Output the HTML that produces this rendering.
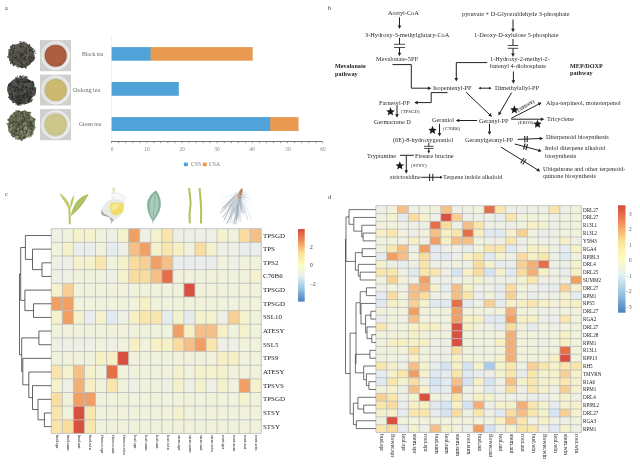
<!DOCTYPE html><html><head><meta charset="utf-8"><style>
html,body{margin:0;padding:0;background:#fff;}
body{width:640px;height:464px;position:relative;overflow:hidden;font-family:"Liberation Serif",serif;}
#wrap{position:absolute;left:0;top:0;width:640px;height:464px;filter:blur(0.3px);}
.t{position:absolute;white-space:nowrap;line-height:1;will-change:transform;}
svg{position:absolute;left:0;top:0;}
</style></head><body><div id="wrap">
<svg width="640" height="464" viewBox="0 0 640 464"><polygon points="34.06,55.00 35.15,57.95 33.97,60.69 31.53,62.57 29.82,64.85 27.28,66.27 24.60,67.58 21.60,68.16 18.84,66.53 16.28,65.54 12.95,65.36 11.39,62.78 9.23,60.69 9.71,57.59 8.51,55.00 8.30,52.10 10.20,49.76 10.58,46.61 12.87,44.54 16.28,44.45 18.88,43.60 21.60,42.31 24.73,41.89 27.22,43.85 29.47,45.57 31.80,47.23 32.64,49.92 33.92,52.31" fill="#4d4a45"/>
<ellipse cx="13.2" cy="58.3" rx="1.01" ry="0.81" transform="rotate(117 13.2 58.3)" fill="#625e57" opacity="0.85"/>
<ellipse cx="34.2" cy="51.3" rx="1.61" ry="0.73" transform="rotate(164 34.2 51.3)" fill="#302e2b" opacity="0.85"/>
<ellipse cx="30.1" cy="60.9" rx="0.75" ry="0.60" transform="rotate(128 30.1 60.9)" fill="#74706a" opacity="0.85"/>
<ellipse cx="29.2" cy="51.9" rx="0.96" ry="0.75" transform="rotate(127 29.2 51.9)" fill="#625e57" opacity="0.85"/>
<ellipse cx="26.8" cy="47.8" rx="1.62" ry="0.69" transform="rotate(103 26.8 47.8)" fill="#58554e" opacity="0.85"/>
<ellipse cx="17.5" cy="57.4" rx="1.66" ry="0.87" transform="rotate(95 17.5 57.4)" fill="#58554e" opacity="0.85"/>
<ellipse cx="30.8" cy="60.3" rx="1.53" ry="0.71" transform="rotate(100 30.8 60.3)" fill="#3a3733" opacity="0.85"/>
<ellipse cx="13.7" cy="63.0" rx="0.65" ry="0.82" transform="rotate(157 13.7 63.0)" fill="#302e2b" opacity="0.85"/>
<ellipse cx="15.0" cy="50.8" rx="0.80" ry="0.54" transform="rotate(3 15.0 50.8)" fill="#625e57" opacity="0.85"/>
<ellipse cx="22.8" cy="46.0" rx="0.88" ry="0.71" transform="rotate(147 22.8 46.0)" fill="#58554e" opacity="0.85"/>
<ellipse cx="13.7" cy="64.9" rx="1.33" ry="0.84" transform="rotate(98 13.7 64.9)" fill="#58554e" opacity="0.85"/>
<ellipse cx="24.2" cy="43.6" rx="1.57" ry="0.71" transform="rotate(143 24.2 43.6)" fill="#58554e" opacity="0.85"/>
<ellipse cx="25.3" cy="67.3" rx="1.64" ry="0.74" transform="rotate(51 25.3 67.3)" fill="#302e2b" opacity="0.85"/>
<ellipse cx="29.2" cy="52.2" rx="1.10" ry="0.40" transform="rotate(138 29.2 52.2)" fill="#74706a" opacity="0.85"/>
<ellipse cx="14.3" cy="48.1" rx="1.32" ry="0.88" transform="rotate(162 14.3 48.1)" fill="#302e2b" opacity="0.85"/>
<ellipse cx="26.0" cy="63.6" rx="1.56" ry="0.88" transform="rotate(65 26.0 63.6)" fill="#3a3733" opacity="0.85"/>
<ellipse cx="34.7" cy="57.6" rx="0.70" ry="0.41" transform="rotate(3 34.7 57.6)" fill="#3a3733" opacity="0.85"/>
<ellipse cx="21.8" cy="48.8" rx="0.73" ry="0.77" transform="rotate(88 21.8 48.8)" fill="#74706a" opacity="0.85"/>
<ellipse cx="20.4" cy="59.4" rx="1.23" ry="0.50" transform="rotate(69 20.4 59.4)" fill="#74706a" opacity="0.85"/>
<ellipse cx="17.6" cy="49.9" rx="1.20" ry="0.47" transform="rotate(79 17.6 49.9)" fill="#74706a" opacity="0.85"/>
<ellipse cx="15.4" cy="60.1" rx="0.91" ry="0.55" transform="rotate(130 15.4 60.1)" fill="#625e57" opacity="0.85"/>
<ellipse cx="35.0" cy="53.1" rx="1.58" ry="0.41" transform="rotate(4 35.0 53.1)" fill="#302e2b" opacity="0.85"/>
<ellipse cx="20.1" cy="56.1" rx="1.13" ry="0.70" transform="rotate(109 20.1 56.1)" fill="#625e57" opacity="0.85"/>
<ellipse cx="16.2" cy="53.5" rx="1.14" ry="0.71" transform="rotate(7 16.2 53.5)" fill="#58554e" opacity="0.85"/>
<ellipse cx="13.8" cy="60.8" rx="1.39" ry="0.66" transform="rotate(76 13.8 60.8)" fill="#74706a" opacity="0.85"/>
<ellipse cx="25.4" cy="58.7" rx="0.97" ry="0.92" transform="rotate(79 25.4 58.7)" fill="#3a3733" opacity="0.85"/>
<ellipse cx="27.4" cy="51.8" rx="1.10" ry="0.55" transform="rotate(2 27.4 51.8)" fill="#625e57" opacity="0.85"/>
<ellipse cx="10.0" cy="50.5" rx="1.58" ry="0.98" transform="rotate(145 10.0 50.5)" fill="#58554e" opacity="0.85"/>
<ellipse cx="9.6" cy="57.9" rx="1.21" ry="0.63" transform="rotate(88 9.6 57.9)" fill="#58554e" opacity="0.85"/>
<ellipse cx="29.6" cy="60.5" rx="1.31" ry="0.70" transform="rotate(170 29.6 60.5)" fill="#302e2b" opacity="0.85"/>
<ellipse cx="14.5" cy="60.6" rx="0.99" ry="0.92" transform="rotate(72 14.5 60.6)" fill="#3a3733" opacity="0.85"/>
<ellipse cx="26.8" cy="55.6" rx="1.57" ry="0.74" transform="rotate(34 26.8 55.6)" fill="#74706a" opacity="0.85"/>
<ellipse cx="18.7" cy="59.4" rx="1.61" ry="0.96" transform="rotate(88 18.7 59.4)" fill="#3a3733" opacity="0.85"/>
<ellipse cx="32.3" cy="48.9" rx="1.18" ry="0.99" transform="rotate(60 32.3 48.9)" fill="#58554e" opacity="0.85"/>
<ellipse cx="23.4" cy="55.8" rx="0.80" ry="0.95" transform="rotate(54 23.4 55.8)" fill="#625e57" opacity="0.85"/>
<ellipse cx="20.8" cy="61.8" rx="1.61" ry="0.62" transform="rotate(87 20.8 61.8)" fill="#58554e" opacity="0.85"/>
<ellipse cx="26.0" cy="58.6" rx="1.54" ry="0.83" transform="rotate(125 26.0 58.6)" fill="#58554e" opacity="0.85"/>
<ellipse cx="28.0" cy="61.9" rx="0.98" ry="0.64" transform="rotate(97 28.0 61.9)" fill="#3a3733" opacity="0.85"/>
<ellipse cx="29.6" cy="46.5" rx="1.01" ry="0.77" transform="rotate(96 29.6 46.5)" fill="#625e57" opacity="0.85"/>
<ellipse cx="30.1" cy="59.3" rx="0.70" ry="0.56" transform="rotate(75 30.1 59.3)" fill="#58554e" opacity="0.85"/>
<ellipse cx="9.5" cy="50.0" rx="1.68" ry="0.46" transform="rotate(11 9.5 50.0)" fill="#302e2b" opacity="0.85"/>
<ellipse cx="22.1" cy="54.2" rx="0.71" ry="0.47" transform="rotate(10 22.1 54.2)" fill="#3a3733" opacity="0.85"/>
<ellipse cx="26.1" cy="65.5" rx="1.11" ry="0.47" transform="rotate(42 26.1 65.5)" fill="#58554e" opacity="0.85"/>
<ellipse cx="19.7" cy="51.0" rx="1.12" ry="0.98" transform="rotate(138 19.7 51.0)" fill="#3a3733" opacity="0.85"/>
<ellipse cx="27.2" cy="51.6" rx="1.45" ry="0.59" transform="rotate(53 27.2 51.6)" fill="#74706a" opacity="0.85"/>
<ellipse cx="20.5" cy="53.4" rx="1.54" ry="0.96" transform="rotate(152 20.5 53.4)" fill="#3a3733" opacity="0.85"/>
<ellipse cx="18.2" cy="61.8" rx="0.68" ry="0.95" transform="rotate(153 18.2 61.8)" fill="#302e2b" opacity="0.85"/>
<ellipse cx="25.2" cy="54.3" rx="1.54" ry="0.87" transform="rotate(138 25.2 54.3)" fill="#625e57" opacity="0.85"/>
<ellipse cx="27.5" cy="48.8" rx="0.91" ry="0.72" transform="rotate(78 27.5 48.8)" fill="#74706a" opacity="0.85"/>
<ellipse cx="23.9" cy="61.8" rx="0.71" ry="0.85" transform="rotate(23 23.9 61.8)" fill="#74706a" opacity="0.85"/>
<ellipse cx="15.5" cy="46.7" rx="1.07" ry="0.58" transform="rotate(83 15.5 46.7)" fill="#625e57" opacity="0.85"/>
<ellipse cx="26.2" cy="65.6" rx="1.67" ry="0.58" transform="rotate(85 26.2 65.6)" fill="#58554e" opacity="0.85"/>
<ellipse cx="29.9" cy="60.8" rx="0.71" ry="0.53" transform="rotate(62 29.9 60.8)" fill="#58554e" opacity="0.85"/>
<ellipse cx="16.5" cy="58.5" rx="1.48" ry="0.41" transform="rotate(2 16.5 58.5)" fill="#3a3733" opacity="0.85"/>
<ellipse cx="18.6" cy="66.1" rx="1.16" ry="0.92" transform="rotate(25 18.6 66.1)" fill="#302e2b" opacity="0.85"/>
<ellipse cx="9.6" cy="54.9" rx="1.21" ry="0.80" transform="rotate(45 9.6 54.9)" fill="#3a3733" opacity="0.85"/>
<ellipse cx="23.8" cy="42.1" rx="0.97" ry="0.83" transform="rotate(154 23.8 42.1)" fill="#74706a" opacity="0.85"/>
<ellipse cx="18.1" cy="66.9" rx="1.25" ry="0.83" transform="rotate(80 18.1 66.9)" fill="#625e57" opacity="0.85"/>
<ellipse cx="26.1" cy="46.0" rx="1.61" ry="0.85" transform="rotate(176 26.1 46.0)" fill="#58554e" opacity="0.85"/>
<ellipse cx="23.4" cy="61.1" rx="0.79" ry="0.83" transform="rotate(170 23.4 61.1)" fill="#58554e" opacity="0.85"/>
<ellipse cx="21.8" cy="66.3" rx="1.57" ry="0.73" transform="rotate(138 21.8 66.3)" fill="#302e2b" opacity="0.85"/>
<ellipse cx="12.8" cy="58.4" rx="1.07" ry="0.60" transform="rotate(66 12.8 58.4)" fill="#3a3733" opacity="0.85"/>
<ellipse cx="9.6" cy="56.0" rx="1.77" ry="0.41" transform="rotate(177 9.6 56.0)" fill="#302e2b" opacity="0.85"/>
<ellipse cx="19.0" cy="58.2" rx="0.77" ry="0.99" transform="rotate(70 19.0 58.2)" fill="#625e57" opacity="0.85"/>
<ellipse cx="15.2" cy="59.6" rx="0.71" ry="0.69" transform="rotate(45 15.2 59.6)" fill="#58554e" opacity="0.85"/>
<ellipse cx="12.6" cy="53.4" rx="1.72" ry="0.78" transform="rotate(57 12.6 53.4)" fill="#302e2b" opacity="0.85"/>
<ellipse cx="22.3" cy="63.6" rx="1.75" ry="0.83" transform="rotate(86 22.3 63.6)" fill="#302e2b" opacity="0.85"/>
<ellipse cx="9.5" cy="50.4" rx="1.77" ry="0.53" transform="rotate(18 9.5 50.4)" fill="#74706a" opacity="0.85"/>
<ellipse cx="22.5" cy="44.9" rx="0.79" ry="0.86" transform="rotate(52 22.5 44.9)" fill="#74706a" opacity="0.85"/>
<ellipse cx="17.4" cy="64.8" rx="1.05" ry="0.82" transform="rotate(118 17.4 64.8)" fill="#58554e" opacity="0.85"/>
<ellipse cx="11.2" cy="48.3" rx="1.75" ry="0.74" transform="rotate(45 11.2 48.3)" fill="#58554e" opacity="0.85"/>
<ellipse cx="26.2" cy="61.6" rx="1.46" ry="0.87" transform="rotate(126 26.2 61.6)" fill="#58554e" opacity="0.85"/>
<ellipse cx="16.9" cy="45.2" rx="1.06" ry="0.91" transform="rotate(139 16.9 45.2)" fill="#74706a" opacity="0.85"/>
<ellipse cx="21.3" cy="53.1" rx="1.57" ry="0.78" transform="rotate(68 21.3 53.1)" fill="#3a3733" opacity="0.85"/>
<ellipse cx="21.3" cy="52.0" rx="1.76" ry="0.77" transform="rotate(168 21.3 52.0)" fill="#625e57" opacity="0.85"/>
<ellipse cx="20.4" cy="52.3" rx="1.77" ry="0.63" transform="rotate(110 20.4 52.3)" fill="#625e57" opacity="0.85"/>
<ellipse cx="11.2" cy="62.5" rx="0.75" ry="0.95" transform="rotate(54 11.2 62.5)" fill="#302e2b" opacity="0.85"/>
<ellipse cx="29.0" cy="61.6" rx="1.69" ry="0.80" transform="rotate(71 29.0 61.6)" fill="#302e2b" opacity="0.85"/>
<ellipse cx="21.7" cy="66.1" rx="1.75" ry="0.72" transform="rotate(148 21.7 66.1)" fill="#3a3733" opacity="0.85"/>
<ellipse cx="31.9" cy="56.3" rx="0.89" ry="0.56" transform="rotate(44 31.9 56.3)" fill="#58554e" opacity="0.85"/>
<ellipse cx="19.5" cy="63.9" rx="0.97" ry="0.85" transform="rotate(174 19.5 63.9)" fill="#74706a" opacity="0.85"/>
<ellipse cx="9.7" cy="59.0" rx="1.25" ry="0.69" transform="rotate(31 9.7 59.0)" fill="#625e57" opacity="0.85"/>
<ellipse cx="22.8" cy="45.7" rx="0.85" ry="0.89" transform="rotate(6 22.8 45.7)" fill="#302e2b" opacity="0.85"/>
<ellipse cx="30.1" cy="62.5" rx="0.96" ry="0.80" transform="rotate(166 30.1 62.5)" fill="#58554e" opacity="0.85"/>
<ellipse cx="27.6" cy="61.6" rx="1.57" ry="0.66" transform="rotate(173 27.6 61.6)" fill="#58554e" opacity="0.85"/>
<ellipse cx="15.7" cy="62.0" rx="0.75" ry="0.83" transform="rotate(89 15.7 62.0)" fill="#3a3733" opacity="0.85"/>
<ellipse cx="18.9" cy="62.2" rx="1.19" ry="0.79" transform="rotate(96 18.9 62.2)" fill="#58554e" opacity="0.85"/>
<ellipse cx="14.4" cy="61.3" rx="1.36" ry="0.83" transform="rotate(130 14.4 61.3)" fill="#74706a" opacity="0.85"/>
<ellipse cx="25.8" cy="66.9" rx="1.60" ry="0.65" transform="rotate(78 25.8 66.9)" fill="#58554e" opacity="0.85"/>
<ellipse cx="19.1" cy="47.2" rx="0.84" ry="0.72" transform="rotate(173 19.1 47.2)" fill="#58554e" opacity="0.85"/>
<ellipse cx="15.3" cy="60.1" rx="1.00" ry="0.77" transform="rotate(179 15.3 60.1)" fill="#302e2b" opacity="0.85"/>
<ellipse cx="30.9" cy="48.4" rx="1.79" ry="0.55" transform="rotate(166 30.9 48.4)" fill="#302e2b" opacity="0.85"/>
<ellipse cx="21.3" cy="56.2" rx="1.36" ry="0.96" transform="rotate(69 21.3 56.2)" fill="#625e57" opacity="0.85"/>
<ellipse cx="28.3" cy="45.7" rx="0.61" ry="0.95" transform="rotate(105 28.3 45.7)" fill="#58554e" opacity="0.85"/>
<ellipse cx="28.3" cy="48.5" rx="1.15" ry="0.56" transform="rotate(43 28.3 48.5)" fill="#625e57" opacity="0.85"/>
<ellipse cx="19.5" cy="55.4" rx="0.72" ry="0.75" transform="rotate(17 19.5 55.4)" fill="#58554e" opacity="0.85"/>
<ellipse cx="15.0" cy="63.1" rx="0.80" ry="0.83" transform="rotate(41 15.0 63.1)" fill="#3a3733" opacity="0.85"/>
<ellipse cx="18.7" cy="47.9" rx="1.33" ry="0.53" transform="rotate(53 18.7 47.9)" fill="#74706a" opacity="0.85"/>
<ellipse cx="22.2" cy="61.8" rx="0.69" ry="0.90" transform="rotate(133 22.2 61.8)" fill="#3a3733" opacity="0.85"/>
<ellipse cx="16.9" cy="48.0" rx="1.48" ry="0.50" transform="rotate(167 16.9 48.0)" fill="#58554e" opacity="0.85"/>
<ellipse cx="20.3" cy="41.9" rx="0.92" ry="0.77" transform="rotate(59 20.3 41.9)" fill="#58554e" opacity="0.85"/>
<ellipse cx="15.4" cy="59.8" rx="1.55" ry="0.92" transform="rotate(84 15.4 59.8)" fill="#302e2b" opacity="0.85"/>
<ellipse cx="20.3" cy="49.3" rx="1.45" ry="0.91" transform="rotate(7 20.3 49.3)" fill="#58554e" opacity="0.85"/>
<ellipse cx="29.2" cy="45.3" rx="0.98" ry="0.66" transform="rotate(63 29.2 45.3)" fill="#302e2b" opacity="0.85"/>
<ellipse cx="22.7" cy="50.3" rx="1.65" ry="0.75" transform="rotate(148 22.7 50.3)" fill="#625e57" opacity="0.85"/>
<ellipse cx="31.4" cy="49.3" rx="1.73" ry="0.68" transform="rotate(41 31.4 49.3)" fill="#58554e" opacity="0.85"/>
<ellipse cx="24.3" cy="58.1" rx="1.03" ry="0.85" transform="rotate(61 24.3 58.1)" fill="#302e2b" opacity="0.85"/>
<ellipse cx="25.6" cy="58.4" rx="0.68" ry="0.54" transform="rotate(82 25.6 58.4)" fill="#74706a" opacity="0.85"/>
<ellipse cx="18.1" cy="55.2" rx="0.65" ry="0.89" transform="rotate(5 18.1 55.2)" fill="#625e57" opacity="0.85"/>
<ellipse cx="25.8" cy="51.6" rx="1.19" ry="0.72" transform="rotate(156 25.8 51.6)" fill="#3a3733" opacity="0.85"/>
<ellipse cx="11.5" cy="58.7" rx="0.74" ry="0.82" transform="rotate(24 11.5 58.7)" fill="#74706a" opacity="0.85"/>
<ellipse cx="22.6" cy="60.4" rx="1.05" ry="0.50" transform="rotate(59 22.6 60.4)" fill="#302e2b" opacity="0.85"/>
<ellipse cx="22.2" cy="61.2" rx="1.30" ry="0.53" transform="rotate(66 22.2 61.2)" fill="#58554e" opacity="0.85"/>
<ellipse cx="16.7" cy="63.4" rx="1.79" ry="0.43" transform="rotate(1 16.7 63.4)" fill="#625e57" opacity="0.85"/>
<ellipse cx="26.0" cy="49.8" rx="1.62" ry="0.57" transform="rotate(50 26.0 49.8)" fill="#302e2b" opacity="0.85"/>
<ellipse cx="11.3" cy="62.2" rx="1.55" ry="0.42" transform="rotate(99 11.3 62.2)" fill="#625e57" opacity="0.85"/>
<ellipse cx="28.2" cy="63.2" rx="1.28" ry="0.55" transform="rotate(20 28.2 63.2)" fill="#3a3733" opacity="0.85"/>
<ellipse cx="9.5" cy="57.7" rx="0.64" ry="0.44" transform="rotate(33 9.5 57.7)" fill="#3a3733" opacity="0.85"/>
<ellipse cx="27.7" cy="56.6" rx="1.12" ry="0.51" transform="rotate(127 27.7 56.6)" fill="#3a3733" opacity="0.85"/>
<ellipse cx="14.1" cy="46.6" rx="1.40" ry="0.63" transform="rotate(161 14.1 46.6)" fill="#625e57" opacity="0.85"/>
<ellipse cx="20.9" cy="60.8" rx="0.89" ry="0.75" transform="rotate(151 20.9 60.8)" fill="#625e57" opacity="0.85"/>
<ellipse cx="25.4" cy="62.1" rx="1.37" ry="0.98" transform="rotate(90 25.4 62.1)" fill="#58554e" opacity="0.85"/>
<ellipse cx="12.5" cy="52.4" rx="1.11" ry="0.80" transform="rotate(68 12.5 52.4)" fill="#58554e" opacity="0.85"/>
<ellipse cx="21.1" cy="44.2" rx="0.90" ry="0.99" transform="rotate(38 21.1 44.2)" fill="#3a3733" opacity="0.85"/>
<ellipse cx="26.6" cy="56.8" rx="1.62" ry="0.43" transform="rotate(23 26.6 56.8)" fill="#302e2b" opacity="0.85"/>
<ellipse cx="29.5" cy="50.4" rx="1.04" ry="0.99" transform="rotate(10 29.5 50.4)" fill="#58554e" opacity="0.85"/>
<ellipse cx="22.9" cy="56.2" rx="1.67" ry="0.86" transform="rotate(114 22.9 56.2)" fill="#625e57" opacity="0.85"/>
<ellipse cx="30.9" cy="56.4" rx="0.90" ry="0.60" transform="rotate(77 30.9 56.4)" fill="#3a3733" opacity="0.85"/>
<ellipse cx="29.2" cy="56.6" rx="0.98" ry="0.48" transform="rotate(97 29.2 56.6)" fill="#74706a" opacity="0.85"/>
<ellipse cx="26.0" cy="43.8" rx="0.71" ry="0.90" transform="rotate(128 26.0 43.8)" fill="#74706a" opacity="0.85"/>
<ellipse cx="15.0" cy="52.6" rx="1.21" ry="0.63" transform="rotate(149 15.0 52.6)" fill="#74706a" opacity="0.85"/>
<ellipse cx="17.6" cy="55.5" rx="1.23" ry="0.74" transform="rotate(148 17.6 55.5)" fill="#302e2b" opacity="0.85"/>
<ellipse cx="18.7" cy="46.4" rx="1.49" ry="0.52" transform="rotate(99 18.7 46.4)" fill="#74706a" opacity="0.85"/>
<ellipse cx="18.2" cy="54.6" rx="0.75" ry="0.44" transform="rotate(76 18.2 54.6)" fill="#74706a" opacity="0.85"/>
<ellipse cx="25.8" cy="45.6" rx="1.10" ry="0.59" transform="rotate(69 25.8 45.6)" fill="#74706a" opacity="0.85"/>
<ellipse cx="16.3" cy="64.9" rx="0.61" ry="0.47" transform="rotate(81 16.3 64.9)" fill="#58554e" opacity="0.85"/>
<ellipse cx="27.6" cy="51.6" rx="1.29" ry="0.67" transform="rotate(71 27.6 51.6)" fill="#74706a" opacity="0.85"/>
<ellipse cx="8.6" cy="56.6" rx="1.58" ry="0.96" transform="rotate(148 8.6 56.6)" fill="#302e2b" opacity="0.85"/>
<ellipse cx="22.9" cy="51.2" rx="1.19" ry="0.91" transform="rotate(64 22.9 51.2)" fill="#58554e" opacity="0.85"/>
<ellipse cx="24.0" cy="44.6" rx="1.03" ry="0.97" transform="rotate(164 24.0 44.6)" fill="#74706a" opacity="0.85"/>
<ellipse cx="16.9" cy="59.7" rx="1.78" ry="0.72" transform="rotate(42 16.9 59.7)" fill="#58554e" opacity="0.85"/>
<ellipse cx="27.5" cy="56.0" rx="1.28" ry="0.94" transform="rotate(47 27.5 56.0)" fill="#625e57" opacity="0.85"/>
<ellipse cx="23.0" cy="42.4" rx="0.66" ry="0.46" transform="rotate(139 23.0 42.4)" fill="#58554e" opacity="0.85"/>
<ellipse cx="16.9" cy="45.2" rx="0.91" ry="0.78" transform="rotate(134 16.9 45.2)" fill="#625e57" opacity="0.85"/>
<ellipse cx="13.7" cy="45.7" rx="1.37" ry="0.50" transform="rotate(110 13.7 45.7)" fill="#625e57" opacity="0.85"/>
<ellipse cx="29.1" cy="56.0" rx="1.45" ry="0.57" transform="rotate(51 29.1 56.0)" fill="#302e2b" opacity="0.85"/>
<ellipse cx="11.3" cy="48.0" rx="1.11" ry="0.81" transform="rotate(139 11.3 48.0)" fill="#625e57" opacity="0.85"/>
<ellipse cx="25.9" cy="52.5" rx="1.47" ry="0.89" transform="rotate(65 25.9 52.5)" fill="#302e2b" opacity="0.85"/>
<ellipse cx="21.0" cy="55.4" rx="1.52" ry="0.71" transform="rotate(124 21.0 55.4)" fill="#58554e" opacity="0.85"/>
<ellipse cx="30.8" cy="59.6" rx="1.56" ry="0.75" transform="rotate(10 30.8 59.6)" fill="#58554e" opacity="0.85"/>
<ellipse cx="13.4" cy="65.5" rx="0.83" ry="0.58" transform="rotate(176 13.4 65.5)" fill="#3a3733" opacity="0.85"/>
<ellipse cx="15.6" cy="47.9" rx="1.21" ry="1.00" transform="rotate(80 15.6 47.9)" fill="#74706a" opacity="0.85"/>
<ellipse cx="31.0" cy="53.3" rx="1.79" ry="0.57" transform="rotate(105 31.0 53.3)" fill="#58554e" opacity="0.85"/>
<ellipse cx="9.8" cy="51.9" rx="1.09" ry="0.78" transform="rotate(78 9.8 51.9)" fill="#58554e" opacity="0.85"/>
<ellipse cx="17.7" cy="56.1" rx="1.30" ry="0.73" transform="rotate(41 17.7 56.1)" fill="#302e2b" opacity="0.85"/>
<ellipse cx="21.6" cy="55.8" rx="1.48" ry="0.74" transform="rotate(94 21.6 55.8)" fill="#302e2b" opacity="0.85"/>
<ellipse cx="15.9" cy="57.9" rx="1.68" ry="0.96" transform="rotate(1 15.9 57.9)" fill="#3a3733" opacity="0.85"/>
<ellipse cx="15.1" cy="60.6" rx="1.36" ry="0.91" transform="rotate(86 15.1 60.6)" fill="#74706a" opacity="0.85"/>
<ellipse cx="12.3" cy="62.5" rx="1.03" ry="0.65" transform="rotate(4 12.3 62.5)" fill="#302e2b" opacity="0.85"/>
<ellipse cx="33.8" cy="54.6" rx="1.63" ry="0.75" transform="rotate(73 33.8 54.6)" fill="#74706a" opacity="0.85"/>
<ellipse cx="29.3" cy="52.6" rx="0.94" ry="0.65" transform="rotate(70 29.3 52.6)" fill="#58554e" opacity="0.85"/>
<ellipse cx="10.8" cy="59.6" rx="0.86" ry="0.90" transform="rotate(102 10.8 59.6)" fill="#302e2b" opacity="0.85"/>
<ellipse cx="20.9" cy="51.9" rx="0.85" ry="0.49" transform="rotate(6 20.9 51.9)" fill="#625e57" opacity="0.85"/>
<ellipse cx="25.2" cy="57.6" rx="1.08" ry="0.83" transform="rotate(0 25.2 57.6)" fill="#3a3733" opacity="0.85"/>
<ellipse cx="30.3" cy="60.2" rx="1.26" ry="0.72" transform="rotate(88 30.3 60.2)" fill="#3a3733" opacity="0.85"/>
<ellipse cx="31.8" cy="58.0" rx="1.48" ry="0.81" transform="rotate(171 31.8 58.0)" fill="#3a3733" opacity="0.85"/>
<ellipse cx="20.8" cy="41.9" rx="0.81" ry="0.88" transform="rotate(180 20.8 41.9)" fill="#74706a" opacity="0.85"/>
<ellipse cx="29.1" cy="46.1" rx="1.64" ry="0.47" transform="rotate(114 29.1 46.1)" fill="#3a3733" opacity="0.85"/>
<ellipse cx="19.1" cy="63.4" rx="0.74" ry="0.91" transform="rotate(27 19.1 63.4)" fill="#302e2b" opacity="0.85"/>
<ellipse cx="27.7" cy="62.9" rx="0.80" ry="0.55" transform="rotate(137 27.7 62.9)" fill="#625e57" opacity="0.85"/>
<ellipse cx="19.4" cy="63.4" rx="1.70" ry="0.87" transform="rotate(159 19.4 63.4)" fill="#58554e" opacity="0.85"/>
<ellipse cx="16.9" cy="62.3" rx="1.51" ry="0.84" transform="rotate(88 16.9 62.3)" fill="#3a3733" opacity="0.85"/>
<ellipse cx="33.7" cy="49.2" rx="0.67" ry="0.78" transform="rotate(76 33.7 49.2)" fill="#74706a" opacity="0.85"/>
<ellipse cx="22.4" cy="43.1" rx="1.21" ry="0.56" transform="rotate(63 22.4 43.1)" fill="#625e57" opacity="0.85"/>
<ellipse cx="18.1" cy="57.0" rx="1.09" ry="0.78" transform="rotate(14 18.1 57.0)" fill="#625e57" opacity="0.85"/>
<ellipse cx="11.6" cy="53.0" rx="1.74" ry="0.56" transform="rotate(122 11.6 53.0)" fill="#625e57" opacity="0.85"/>
<ellipse cx="19.5" cy="49.4" rx="1.20" ry="0.76" transform="rotate(61 19.5 49.4)" fill="#625e57" opacity="0.85"/>
<ellipse cx="16.2" cy="63.3" rx="1.49" ry="0.75" transform="rotate(115 16.2 63.3)" fill="#625e57" opacity="0.85"/>
<ellipse cx="19.2" cy="54.5" rx="1.23" ry="0.48" transform="rotate(54 19.2 54.5)" fill="#74706a" opacity="0.85"/>
<ellipse cx="18.0" cy="62.9" rx="0.74" ry="0.93" transform="rotate(178 18.0 62.9)" fill="#74706a" opacity="0.85"/>
<ellipse cx="21.5" cy="58.1" rx="1.59" ry="0.43" transform="rotate(44 21.5 58.1)" fill="#58554e" opacity="0.85"/>
<ellipse cx="19.3" cy="50.0" rx="1.20" ry="0.80" transform="rotate(78 19.3 50.0)" fill="#625e57" opacity="0.85"/>
<ellipse cx="21.1" cy="55.2" rx="1.59" ry="0.89" transform="rotate(56 21.1 55.2)" fill="#3a3733" opacity="0.85"/>
<ellipse cx="26.5" cy="57.7" rx="0.92" ry="0.83" transform="rotate(97 26.5 57.7)" fill="#74706a" opacity="0.85"/>
<ellipse cx="28.6" cy="56.0" rx="0.74" ry="0.94" transform="rotate(36 28.6 56.0)" fill="#625e57" opacity="0.85"/>
<ellipse cx="20.7" cy="53.2" rx="0.71" ry="1.00" transform="rotate(76 20.7 53.2)" fill="#3a3733" opacity="0.85"/>
<ellipse cx="19.0" cy="60.5" rx="1.03" ry="0.45" transform="rotate(102 19.0 60.5)" fill="#3a3733" opacity="0.85"/>
<ellipse cx="13.7" cy="62.8" rx="0.71" ry="0.60" transform="rotate(2 13.7 62.8)" fill="#625e57" opacity="0.85"/>
<ellipse cx="14.6" cy="54.4" rx="1.02" ry="0.88" transform="rotate(164 14.6 54.4)" fill="#3a3733" opacity="0.85"/>
<ellipse cx="21.0" cy="51.2" rx="1.09" ry="0.81" transform="rotate(158 21.0 51.2)" fill="#74706a" opacity="0.85"/>
<ellipse cx="20.2" cy="46.7" rx="1.24" ry="0.64" transform="rotate(56 20.2 46.7)" fill="#302e2b" opacity="0.85"/>
<ellipse cx="15.1" cy="48.2" rx="1.32" ry="0.47" transform="rotate(61 15.1 48.2)" fill="#3a3733" opacity="0.85"/>
<ellipse cx="23.4" cy="62.8" rx="0.62" ry="0.72" transform="rotate(135 23.4 62.8)" fill="#58554e" opacity="0.85"/>
<ellipse cx="21.3" cy="58.8" rx="1.49" ry="0.44" transform="rotate(139 21.3 58.8)" fill="#3a3733" opacity="0.85"/>
<ellipse cx="15.3" cy="62.0" rx="1.42" ry="0.42" transform="rotate(78 15.3 62.0)" fill="#58554e" opacity="0.85"/>
<ellipse cx="17.7" cy="56.3" rx="1.70" ry="0.49" transform="rotate(55 17.7 56.3)" fill="#3a3733" opacity="0.85"/>
<ellipse cx="9.6" cy="56.2" rx="1.04" ry="0.58" transform="rotate(39 9.6 56.2)" fill="#74706a" opacity="0.85"/>
<ellipse cx="26.1" cy="49.0" rx="1.09" ry="0.99" transform="rotate(37 26.1 49.0)" fill="#302e2b" opacity="0.85"/>
<ellipse cx="20.3" cy="65.3" rx="1.74" ry="0.72" transform="rotate(2 20.3 65.3)" fill="#58554e" opacity="0.85"/>
<ellipse cx="30.9" cy="50.1" rx="1.50" ry="0.97" transform="rotate(25 30.9 50.1)" fill="#302e2b" opacity="0.85"/>
<ellipse cx="10.1" cy="57.9" rx="1.42" ry="0.57" transform="rotate(94 10.1 57.9)" fill="#58554e" opacity="0.85"/>
<ellipse cx="13.0" cy="60.3" rx="0.72" ry="0.87" transform="rotate(165 13.0 60.3)" fill="#3a3733" opacity="0.85"/>
<ellipse cx="21.6" cy="54.9" rx="1.60" ry="0.75" transform="rotate(135 21.6 54.9)" fill="#3a3733" opacity="0.85"/>
<ellipse cx="14.2" cy="54.6" rx="1.54" ry="0.74" transform="rotate(167 14.2 54.6)" fill="#74706a" opacity="0.85"/>
<ellipse cx="16.1" cy="61.6" rx="1.71" ry="0.77" transform="rotate(27 16.1 61.6)" fill="#625e57" opacity="0.85"/>
<ellipse cx="14.7" cy="52.3" rx="0.74" ry="0.42" transform="rotate(180 14.7 52.3)" fill="#625e57" opacity="0.85"/>
<ellipse cx="16.6" cy="66.2" rx="0.90" ry="0.78" transform="rotate(14 16.6 66.2)" fill="#74706a" opacity="0.85"/>
<ellipse cx="15.6" cy="49.8" rx="0.95" ry="0.89" transform="rotate(112 15.6 49.8)" fill="#74706a" opacity="0.85"/>
<ellipse cx="23.3" cy="49.7" rx="1.22" ry="0.43" transform="rotate(172 23.3 49.7)" fill="#58554e" opacity="0.85"/>
<ellipse cx="28.6" cy="60.8" rx="1.37" ry="0.69" transform="rotate(87 28.6 60.8)" fill="#58554e" opacity="0.85"/>
<ellipse cx="21.8" cy="51.3" rx="0.63" ry="0.94" transform="rotate(98 21.8 51.3)" fill="#58554e" opacity="0.85"/>
<ellipse cx="12.5" cy="45.6" rx="1.46" ry="0.46" transform="rotate(85 12.5 45.6)" fill="#302e2b" opacity="0.85"/>
<ellipse cx="28.6" cy="53.9" rx="1.54" ry="0.68" transform="rotate(120 28.6 53.9)" fill="#625e57" opacity="0.85"/>
<ellipse cx="14.3" cy="62.5" rx="1.12" ry="0.64" transform="rotate(30 14.3 62.5)" fill="#625e57" opacity="0.85"/>
<ellipse cx="9.7" cy="49.5" rx="0.78" ry="0.63" transform="rotate(27 9.7 49.5)" fill="#625e57" opacity="0.85"/>
<ellipse cx="24.8" cy="45.3" rx="1.15" ry="0.63" transform="rotate(128 24.8 45.3)" fill="#625e57" opacity="0.85"/>
<ellipse cx="23.5" cy="49.0" rx="0.79" ry="0.71" transform="rotate(27 23.5 49.0)" fill="#625e57" opacity="0.85"/>
<ellipse cx="22.8" cy="54.6" rx="1.57" ry="0.82" transform="rotate(58 22.8 54.6)" fill="#302e2b" opacity="0.85"/>
<ellipse cx="14.0" cy="53.2" rx="1.25" ry="0.55" transform="rotate(108 14.0 53.2)" fill="#3a3733" opacity="0.85"/>
<ellipse cx="30.6" cy="49.3" rx="1.39" ry="0.45" transform="rotate(137 30.6 49.3)" fill="#74706a" opacity="0.85"/>
<ellipse cx="34.0" cy="49.9" rx="1.05" ry="0.41" transform="rotate(55 34.0 49.9)" fill="#625e57" opacity="0.85"/>
<ellipse cx="10.8" cy="60.1" rx="1.47" ry="0.82" transform="rotate(176 10.8 60.1)" fill="#58554e" opacity="0.85"/>
<ellipse cx="11.1" cy="46.5" rx="0.90" ry="0.87" transform="rotate(30 11.1 46.5)" fill="#3a3733" opacity="0.85"/>
<ellipse cx="19.6" cy="54.1" rx="1.27" ry="0.78" transform="rotate(122 19.6 54.1)" fill="#3a3733" opacity="0.85"/>
<ellipse cx="30.5" cy="57.5" rx="0.63" ry="0.92" transform="rotate(119 30.5 57.5)" fill="#3a3733" opacity="0.85"/>
<ellipse cx="20.2" cy="62.7" rx="0.76" ry="0.74" transform="rotate(81 20.2 62.7)" fill="#58554e" opacity="0.85"/>
<ellipse cx="23.0" cy="45.0" rx="1.56" ry="0.73" transform="rotate(178 23.0 45.0)" fill="#58554e" opacity="0.85"/>
<ellipse cx="15.4" cy="59.6" rx="1.19" ry="0.57" transform="rotate(38 15.4 59.6)" fill="#625e57" opacity="0.85"/>
<ellipse cx="21.2" cy="61.1" rx="1.54" ry="0.77" transform="rotate(92 21.2 61.1)" fill="#625e57" opacity="0.85"/>
<ellipse cx="19.4" cy="58.5" rx="0.90" ry="0.63" transform="rotate(144 19.4 58.5)" fill="#74706a" opacity="0.85"/>
<ellipse cx="17.3" cy="55.8" rx="1.75" ry="0.54" transform="rotate(18 17.3 55.8)" fill="#625e57" opacity="0.85"/>
<ellipse cx="24.6" cy="46.4" rx="1.25" ry="0.83" transform="rotate(61 24.6 46.4)" fill="#625e57" opacity="0.85"/>
<ellipse cx="13.0" cy="50.7" rx="1.45" ry="0.45" transform="rotate(19 13.0 50.7)" fill="#302e2b" opacity="0.85"/>
<ellipse cx="27.8" cy="63.5" rx="1.50" ry="0.63" transform="rotate(174 27.8 63.5)" fill="#3a3733" opacity="0.85"/>
<ellipse cx="28.2" cy="62.4" rx="1.26" ry="0.96" transform="rotate(97 28.2 62.4)" fill="#58554e" opacity="0.85"/>
<ellipse cx="25.0" cy="58.9" rx="1.03" ry="0.90" transform="rotate(57 25.0 58.9)" fill="#302e2b" opacity="0.85"/>
<ellipse cx="20.3" cy="58.9" rx="1.24" ry="0.45" transform="rotate(76 20.3 58.9)" fill="#302e2b" opacity="0.85"/>
<ellipse cx="23.8" cy="63.0" rx="1.56" ry="0.77" transform="rotate(26 23.8 63.0)" fill="#74706a" opacity="0.85"/>
<ellipse cx="12.9" cy="47.6" rx="1.34" ry="0.43" transform="rotate(80 12.9 47.6)" fill="#74706a" opacity="0.85"/>
<ellipse cx="23.8" cy="58.3" rx="0.74" ry="0.66" transform="rotate(150 23.8 58.3)" fill="#3a3733" opacity="0.85"/>
<ellipse cx="21.7" cy="60.1" rx="1.08" ry="0.95" transform="rotate(54 21.7 60.1)" fill="#58554e" opacity="0.85"/>
<ellipse cx="24.9" cy="48.3" rx="0.76" ry="0.83" transform="rotate(65 24.9 48.3)" fill="#58554e" opacity="0.85"/>
<ellipse cx="19.8" cy="44.3" rx="1.78" ry="0.74" transform="rotate(169 19.8 44.3)" fill="#625e57" opacity="0.85"/>
<ellipse cx="11.4" cy="56.1" rx="0.65" ry="0.50" transform="rotate(171 11.4 56.1)" fill="#74706a" opacity="0.85"/>
<ellipse cx="29.6" cy="50.9" rx="1.76" ry="0.86" transform="rotate(107 29.6 50.9)" fill="#302e2b" opacity="0.85"/>
<ellipse cx="14.3" cy="60.1" rx="0.82" ry="0.41" transform="rotate(11 14.3 60.1)" fill="#625e57" opacity="0.85"/>
<ellipse cx="13.7" cy="55.5" rx="1.59" ry="0.60" transform="rotate(62 13.7 55.5)" fill="#58554e" opacity="0.85"/>
<ellipse cx="30.7" cy="60.8" rx="1.62" ry="0.90" transform="rotate(48 30.7 60.8)" fill="#3a3733" opacity="0.85"/>
<ellipse cx="31.3" cy="52.4" rx="1.62" ry="0.63" transform="rotate(92 31.3 52.4)" fill="#625e57" opacity="0.85"/>
<ellipse cx="24.0" cy="61.7" rx="1.78" ry="0.87" transform="rotate(16 24.0 61.7)" fill="#58554e" opacity="0.85"/>
<ellipse cx="20.3" cy="56.9" rx="1.60" ry="0.51" transform="rotate(37 20.3 56.9)" fill="#3a3733" opacity="0.85"/>
<ellipse cx="29.7" cy="44.9" rx="0.65" ry="0.70" transform="rotate(144 29.7 44.9)" fill="#302e2b" opacity="0.85"/>
<ellipse cx="10.7" cy="63.0" rx="1.61" ry="0.79" transform="rotate(100 10.7 63.0)" fill="#58554e" opacity="0.85"/>
<ellipse cx="20.8" cy="62.0" rx="1.26" ry="0.95" transform="rotate(122 20.8 62.0)" fill="#3a3733" opacity="0.85"/>
<ellipse cx="28.3" cy="55.7" rx="1.55" ry="0.76" transform="rotate(142 28.3 55.7)" fill="#74706a" opacity="0.85"/>
<ellipse cx="25.4" cy="50.1" rx="1.54" ry="0.87" transform="rotate(106 25.4 50.1)" fill="#58554e" opacity="0.85"/>
<ellipse cx="14.4" cy="60.6" rx="1.29" ry="0.47" transform="rotate(146 14.4 60.6)" fill="#3a3733" opacity="0.85"/>
<ellipse cx="18.2" cy="54.4" rx="1.00" ry="0.62" transform="rotate(141 18.2 54.4)" fill="#74706a" opacity="0.85"/>
<ellipse cx="29.0" cy="56.6" rx="1.18" ry="0.78" transform="rotate(138 29.0 56.6)" fill="#3a3733" opacity="0.85"/>
<ellipse cx="13.0" cy="57.9" rx="0.60" ry="0.50" transform="rotate(83 13.0 57.9)" fill="#58554e" opacity="0.85"/>
<polygon points="36.04,90.60 35.66,93.90 32.92,96.22 31.46,98.71 30.41,102.01 27.61,103.56 24.60,104.49 21.50,104.08 18.43,104.36 15.51,103.32 12.92,101.59 11.43,98.81 9.38,96.56 8.46,93.64 7.45,90.60 7.25,87.28 8.42,84.16 10.80,81.88 13.10,79.83 15.81,78.53 18.69,78.02 21.50,77.71 24.51,77.13 27.23,78.43 29.82,79.94 32.76,81.42 33.79,84.55 34.87,87.48" fill="#3f403c"/>
<ellipse cx="21.6" cy="92.1" rx="0.81" ry="0.71" transform="rotate(92 21.6 92.1)" fill="#656860" opacity="0.85"/>
<ellipse cx="32.7" cy="90.5" rx="1.79" ry="0.67" transform="rotate(106 32.7 90.5)" fill="#575952" opacity="0.85"/>
<ellipse cx="20.2" cy="77.0" rx="1.55" ry="0.61" transform="rotate(114 20.2 77.0)" fill="#656860" opacity="0.85"/>
<ellipse cx="27.9" cy="101.0" rx="1.39" ry="0.55" transform="rotate(71 27.9 101.0)" fill="#232421" opacity="0.85"/>
<ellipse cx="29.9" cy="86.2" rx="1.39" ry="0.67" transform="rotate(118 29.9 86.2)" fill="#656860" opacity="0.85"/>
<ellipse cx="14.6" cy="100.3" rx="1.47" ry="0.69" transform="rotate(56 14.6 100.3)" fill="#4b4c47" opacity="0.85"/>
<ellipse cx="33.2" cy="85.9" rx="1.65" ry="0.77" transform="rotate(122 33.2 85.9)" fill="#575952" opacity="0.85"/>
<ellipse cx="16.4" cy="103.8" rx="1.27" ry="0.70" transform="rotate(157 16.4 103.8)" fill="#4b4c47" opacity="0.85"/>
<ellipse cx="15.5" cy="86.8" rx="1.19" ry="0.62" transform="rotate(175 15.5 86.8)" fill="#575952" opacity="0.85"/>
<ellipse cx="19.3" cy="88.4" rx="1.47" ry="0.94" transform="rotate(48 19.3 88.4)" fill="#656860" opacity="0.85"/>
<ellipse cx="25.2" cy="90.5" rx="1.38" ry="0.56" transform="rotate(58 25.2 90.5)" fill="#4b4c47" opacity="0.85"/>
<ellipse cx="15.9" cy="78.0" rx="0.76" ry="0.56" transform="rotate(53 15.9 78.0)" fill="#4b4c47" opacity="0.85"/>
<ellipse cx="24.0" cy="89.7" rx="0.67" ry="0.62" transform="rotate(63 24.0 89.7)" fill="#2c2d2a" opacity="0.85"/>
<ellipse cx="20.0" cy="87.7" rx="0.63" ry="0.84" transform="rotate(5 20.0 87.7)" fill="#2c2d2a" opacity="0.85"/>
<ellipse cx="18.6" cy="93.6" rx="1.48" ry="0.71" transform="rotate(0 18.6 93.6)" fill="#575952" opacity="0.85"/>
<ellipse cx="19.9" cy="92.1" rx="0.78" ry="0.42" transform="rotate(88 19.9 92.1)" fill="#575952" opacity="0.85"/>
<ellipse cx="31.5" cy="86.5" rx="0.94" ry="0.69" transform="rotate(78 31.5 86.5)" fill="#2c2d2a" opacity="0.85"/>
<ellipse cx="10.0" cy="94.5" rx="1.68" ry="0.85" transform="rotate(159 10.0 94.5)" fill="#2c2d2a" opacity="0.85"/>
<ellipse cx="19.0" cy="81.7" rx="0.71" ry="0.81" transform="rotate(26 19.0 81.7)" fill="#575952" opacity="0.85"/>
<ellipse cx="33.7" cy="92.5" rx="1.22" ry="0.87" transform="rotate(124 33.7 92.5)" fill="#575952" opacity="0.85"/>
<ellipse cx="17.1" cy="90.2" rx="0.91" ry="0.76" transform="rotate(107 17.1 90.2)" fill="#656860" opacity="0.85"/>
<ellipse cx="15.0" cy="81.0" rx="1.40" ry="0.55" transform="rotate(33 15.0 81.0)" fill="#575952" opacity="0.85"/>
<ellipse cx="23.3" cy="93.6" rx="1.21" ry="0.99" transform="rotate(8 23.3 93.6)" fill="#575952" opacity="0.85"/>
<ellipse cx="27.4" cy="90.4" rx="0.69" ry="0.45" transform="rotate(58 27.4 90.4)" fill="#232421" opacity="0.85"/>
<ellipse cx="12.7" cy="81.7" rx="0.91" ry="0.65" transform="rotate(134 12.7 81.7)" fill="#656860" opacity="0.85"/>
<ellipse cx="21.5" cy="85.9" rx="1.09" ry="0.47" transform="rotate(22 21.5 85.9)" fill="#232421" opacity="0.85"/>
<ellipse cx="21.7" cy="94.2" rx="1.50" ry="0.46" transform="rotate(6 21.7 94.2)" fill="#575952" opacity="0.85"/>
<ellipse cx="12.6" cy="89.4" rx="1.24" ry="0.63" transform="rotate(175 12.6 89.4)" fill="#656860" opacity="0.85"/>
<ellipse cx="33.1" cy="82.7" rx="1.11" ry="0.41" transform="rotate(151 33.1 82.7)" fill="#232421" opacity="0.85"/>
<ellipse cx="29.5" cy="93.3" rx="1.30" ry="0.95" transform="rotate(169 29.5 93.3)" fill="#4b4c47" opacity="0.85"/>
<ellipse cx="24.0" cy="83.1" rx="1.75" ry="0.47" transform="rotate(93 24.0 83.1)" fill="#4b4c47" opacity="0.85"/>
<ellipse cx="18.0" cy="104.5" rx="0.97" ry="0.92" transform="rotate(105 18.0 104.5)" fill="#656860" opacity="0.85"/>
<ellipse cx="27.1" cy="94.8" rx="1.57" ry="0.44" transform="rotate(163 27.1 94.8)" fill="#2c2d2a" opacity="0.85"/>
<ellipse cx="16.0" cy="91.1" rx="1.34" ry="0.40" transform="rotate(6 16.0 91.1)" fill="#4b4c47" opacity="0.85"/>
<ellipse cx="12.0" cy="100.6" rx="0.86" ry="0.69" transform="rotate(29 12.0 100.6)" fill="#2c2d2a" opacity="0.85"/>
<ellipse cx="14.2" cy="87.0" rx="0.77" ry="0.61" transform="rotate(31 14.2 87.0)" fill="#232421" opacity="0.85"/>
<ellipse cx="21.4" cy="94.7" rx="1.62" ry="0.78" transform="rotate(54 21.4 94.7)" fill="#4b4c47" opacity="0.85"/>
<ellipse cx="21.0" cy="89.1" rx="1.53" ry="0.83" transform="rotate(127 21.0 89.1)" fill="#232421" opacity="0.85"/>
<ellipse cx="18.0" cy="104.3" rx="1.56" ry="0.56" transform="rotate(134 18.0 104.3)" fill="#575952" opacity="0.85"/>
<ellipse cx="29.3" cy="81.7" rx="1.72" ry="0.90" transform="rotate(75 29.3 81.7)" fill="#232421" opacity="0.85"/>
<ellipse cx="17.8" cy="93.5" rx="0.91" ry="0.66" transform="rotate(173 17.8 93.5)" fill="#4b4c47" opacity="0.85"/>
<ellipse cx="20.5" cy="87.5" rx="0.72" ry="0.61" transform="rotate(139 20.5 87.5)" fill="#4b4c47" opacity="0.85"/>
<ellipse cx="26.6" cy="97.4" rx="1.56" ry="0.95" transform="rotate(174 26.6 97.4)" fill="#2c2d2a" opacity="0.85"/>
<ellipse cx="32.4" cy="89.8" rx="1.77" ry="0.63" transform="rotate(171 32.4 89.8)" fill="#575952" opacity="0.85"/>
<ellipse cx="27.0" cy="85.7" rx="1.23" ry="0.47" transform="rotate(138 27.0 85.7)" fill="#575952" opacity="0.85"/>
<ellipse cx="35.4" cy="89.4" rx="0.72" ry="0.71" transform="rotate(131 35.4 89.4)" fill="#232421" opacity="0.85"/>
<ellipse cx="20.9" cy="104.2" rx="1.74" ry="0.54" transform="rotate(91 20.9 104.2)" fill="#232421" opacity="0.85"/>
<ellipse cx="23.6" cy="80.4" rx="1.16" ry="0.83" transform="rotate(152 23.6 80.4)" fill="#575952" opacity="0.85"/>
<ellipse cx="12.7" cy="98.7" rx="1.21" ry="0.69" transform="rotate(103 12.7 98.7)" fill="#232421" opacity="0.85"/>
<ellipse cx="21.2" cy="102.6" rx="1.45" ry="0.68" transform="rotate(140 21.2 102.6)" fill="#232421" opacity="0.85"/>
<ellipse cx="15.7" cy="101.2" rx="1.51" ry="0.91" transform="rotate(57 15.7 101.2)" fill="#2c2d2a" opacity="0.85"/>
<ellipse cx="16.4" cy="89.5" rx="1.77" ry="0.78" transform="rotate(2 16.4 89.5)" fill="#232421" opacity="0.85"/>
<ellipse cx="17.8" cy="99.7" rx="1.38" ry="0.89" transform="rotate(4 17.8 99.7)" fill="#232421" opacity="0.85"/>
<ellipse cx="16.8" cy="93.9" rx="1.33" ry="0.94" transform="rotate(25 16.8 93.9)" fill="#4b4c47" opacity="0.85"/>
<ellipse cx="13.8" cy="97.1" rx="0.93" ry="0.95" transform="rotate(148 13.8 97.1)" fill="#575952" opacity="0.85"/>
<ellipse cx="26.0" cy="102.5" rx="0.61" ry="0.81" transform="rotate(123 26.0 102.5)" fill="#575952" opacity="0.85"/>
<ellipse cx="21.3" cy="100.9" rx="1.46" ry="0.98" transform="rotate(18 21.3 100.9)" fill="#232421" opacity="0.85"/>
<ellipse cx="13.6" cy="101.7" rx="1.60" ry="0.80" transform="rotate(151 13.6 101.7)" fill="#4b4c47" opacity="0.85"/>
<ellipse cx="10.3" cy="91.7" rx="1.15" ry="0.93" transform="rotate(117 10.3 91.7)" fill="#656860" opacity="0.85"/>
<ellipse cx="24.6" cy="91.1" rx="0.81" ry="0.85" transform="rotate(103 24.6 91.1)" fill="#656860" opacity="0.85"/>
<ellipse cx="21.1" cy="101.5" rx="0.66" ry="0.70" transform="rotate(118 21.1 101.5)" fill="#575952" opacity="0.85"/>
<ellipse cx="19.4" cy="86.3" rx="1.27" ry="0.98" transform="rotate(93 19.4 86.3)" fill="#656860" opacity="0.85"/>
<ellipse cx="34.1" cy="93.4" rx="1.13" ry="0.92" transform="rotate(78 34.1 93.4)" fill="#4b4c47" opacity="0.85"/>
<ellipse cx="17.3" cy="90.6" rx="1.45" ry="0.58" transform="rotate(66 17.3 90.6)" fill="#4b4c47" opacity="0.85"/>
<ellipse cx="24.6" cy="84.3" rx="1.38" ry="0.64" transform="rotate(23 24.6 84.3)" fill="#656860" opacity="0.85"/>
<ellipse cx="15.9" cy="90.3" rx="1.24" ry="0.91" transform="rotate(129 15.9 90.3)" fill="#4b4c47" opacity="0.85"/>
<ellipse cx="16.7" cy="85.4" rx="1.74" ry="0.74" transform="rotate(133 16.7 85.4)" fill="#575952" opacity="0.85"/>
<ellipse cx="19.1" cy="104.5" rx="1.41" ry="0.87" transform="rotate(93 19.1 104.5)" fill="#2c2d2a" opacity="0.85"/>
<ellipse cx="23.2" cy="98.2" rx="1.15" ry="0.50" transform="rotate(113 23.2 98.2)" fill="#656860" opacity="0.85"/>
<ellipse cx="27.6" cy="83.9" rx="1.71" ry="0.67" transform="rotate(163 27.6 83.9)" fill="#575952" opacity="0.85"/>
<ellipse cx="22.9" cy="97.1" rx="0.72" ry="0.54" transform="rotate(48 22.9 97.1)" fill="#575952" opacity="0.85"/>
<ellipse cx="21.7" cy="77.5" rx="1.03" ry="0.88" transform="rotate(59 21.7 77.5)" fill="#575952" opacity="0.85"/>
<ellipse cx="20.3" cy="100.7" rx="1.08" ry="0.89" transform="rotate(87 20.3 100.7)" fill="#232421" opacity="0.85"/>
<ellipse cx="19.3" cy="102.3" rx="1.20" ry="0.81" transform="rotate(82 19.3 102.3)" fill="#4b4c47" opacity="0.85"/>
<ellipse cx="20.9" cy="78.4" rx="1.24" ry="0.78" transform="rotate(18 20.9 78.4)" fill="#656860" opacity="0.85"/>
<ellipse cx="16.0" cy="96.8" rx="0.91" ry="0.94" transform="rotate(112 16.0 96.8)" fill="#575952" opacity="0.85"/>
<ellipse cx="8.4" cy="92.6" rx="0.98" ry="0.63" transform="rotate(7 8.4 92.6)" fill="#575952" opacity="0.85"/>
<ellipse cx="25.4" cy="93.6" rx="1.70" ry="0.93" transform="rotate(166 25.4 93.6)" fill="#2c2d2a" opacity="0.85"/>
<ellipse cx="12.4" cy="94.5" rx="1.59" ry="0.76" transform="rotate(138 12.4 94.5)" fill="#575952" opacity="0.85"/>
<ellipse cx="19.2" cy="101.4" rx="1.03" ry="0.52" transform="rotate(127 19.2 101.4)" fill="#575952" opacity="0.85"/>
<ellipse cx="25.1" cy="93.1" rx="1.00" ry="0.48" transform="rotate(92 25.1 93.1)" fill="#575952" opacity="0.85"/>
<ellipse cx="21.5" cy="98.2" rx="1.45" ry="0.84" transform="rotate(11 21.5 98.2)" fill="#575952" opacity="0.85"/>
<ellipse cx="17.4" cy="97.5" rx="0.67" ry="0.49" transform="rotate(16 17.4 97.5)" fill="#4b4c47" opacity="0.85"/>
<ellipse cx="10.4" cy="95.9" rx="0.99" ry="0.75" transform="rotate(29 10.4 95.9)" fill="#575952" opacity="0.85"/>
<ellipse cx="15.1" cy="101.1" rx="1.75" ry="0.54" transform="rotate(13 15.1 101.1)" fill="#4b4c47" opacity="0.85"/>
<ellipse cx="14.4" cy="96.4" rx="1.65" ry="0.73" transform="rotate(159 14.4 96.4)" fill="#4b4c47" opacity="0.85"/>
<ellipse cx="13.0" cy="84.5" rx="1.40" ry="0.70" transform="rotate(102 13.0 84.5)" fill="#4b4c47" opacity="0.85"/>
<ellipse cx="26.3" cy="83.0" rx="1.06" ry="0.67" transform="rotate(27 26.3 83.0)" fill="#232421" opacity="0.85"/>
<ellipse cx="11.6" cy="93.8" rx="1.72" ry="0.81" transform="rotate(44 11.6 93.8)" fill="#2c2d2a" opacity="0.85"/>
<ellipse cx="27.7" cy="93.9" rx="0.90" ry="0.80" transform="rotate(56 27.7 93.9)" fill="#2c2d2a" opacity="0.85"/>
<ellipse cx="23.6" cy="94.7" rx="1.00" ry="0.89" transform="rotate(119 23.6 94.7)" fill="#2c2d2a" opacity="0.85"/>
<ellipse cx="34.2" cy="94.8" rx="0.68" ry="0.48" transform="rotate(7 34.2 94.8)" fill="#575952" opacity="0.85"/>
<ellipse cx="27.6" cy="97.9" rx="0.66" ry="0.73" transform="rotate(1 27.6 97.9)" fill="#2c2d2a" opacity="0.85"/>
<ellipse cx="25.7" cy="81.7" rx="1.65" ry="0.48" transform="rotate(125 25.7 81.7)" fill="#4b4c47" opacity="0.85"/>
<ellipse cx="31.3" cy="90.7" rx="0.73" ry="0.53" transform="rotate(13 31.3 90.7)" fill="#575952" opacity="0.85"/>
<ellipse cx="13.5" cy="83.3" rx="1.35" ry="0.92" transform="rotate(134 13.5 83.3)" fill="#656860" opacity="0.85"/>
<ellipse cx="8.0" cy="90.0" rx="1.21" ry="0.90" transform="rotate(38 8.0 90.0)" fill="#575952" opacity="0.85"/>
<ellipse cx="17.6" cy="86.5" rx="0.84" ry="0.60" transform="rotate(36 17.6 86.5)" fill="#232421" opacity="0.85"/>
<ellipse cx="14.1" cy="94.3" rx="1.57" ry="0.74" transform="rotate(121 14.1 94.3)" fill="#656860" opacity="0.85"/>
<ellipse cx="20.1" cy="100.4" rx="1.78" ry="0.54" transform="rotate(179 20.1 100.4)" fill="#232421" opacity="0.85"/>
<ellipse cx="27.9" cy="98.3" rx="0.64" ry="0.73" transform="rotate(51 27.9 98.3)" fill="#2c2d2a" opacity="0.85"/>
<ellipse cx="23.4" cy="98.6" rx="1.37" ry="0.78" transform="rotate(67 23.4 98.6)" fill="#2c2d2a" opacity="0.85"/>
<ellipse cx="18.8" cy="81.7" rx="1.48" ry="0.92" transform="rotate(57 18.8 81.7)" fill="#2c2d2a" opacity="0.85"/>
<ellipse cx="26.8" cy="81.4" rx="1.43" ry="1.00" transform="rotate(35 26.8 81.4)" fill="#2c2d2a" opacity="0.85"/>
<ellipse cx="15.0" cy="83.0" rx="1.52" ry="0.46" transform="rotate(175 15.0 83.0)" fill="#575952" opacity="0.85"/>
<ellipse cx="28.7" cy="85.2" rx="1.76" ry="0.49" transform="rotate(83 28.7 85.2)" fill="#656860" opacity="0.85"/>
<ellipse cx="19.5" cy="84.2" rx="1.28" ry="0.65" transform="rotate(106 19.5 84.2)" fill="#4b4c47" opacity="0.85"/>
<ellipse cx="20.6" cy="88.9" rx="1.39" ry="0.47" transform="rotate(179 20.6 88.9)" fill="#656860" opacity="0.85"/>
<ellipse cx="20.1" cy="76.6" rx="0.86" ry="0.60" transform="rotate(137 20.1 76.6)" fill="#2c2d2a" opacity="0.85"/>
<ellipse cx="20.1" cy="80.1" rx="1.12" ry="0.48" transform="rotate(43 20.1 80.1)" fill="#575952" opacity="0.85"/>
<ellipse cx="23.5" cy="81.9" rx="1.76" ry="0.63" transform="rotate(156 23.5 81.9)" fill="#232421" opacity="0.85"/>
<ellipse cx="21.3" cy="96.0" rx="1.13" ry="0.85" transform="rotate(146 21.3 96.0)" fill="#232421" opacity="0.85"/>
<ellipse cx="20.0" cy="93.1" rx="1.33" ry="0.92" transform="rotate(56 20.0 93.1)" fill="#656860" opacity="0.85"/>
<ellipse cx="22.8" cy="79.4" rx="1.66" ry="0.81" transform="rotate(78 22.8 79.4)" fill="#4b4c47" opacity="0.85"/>
<ellipse cx="28.1" cy="83.3" rx="0.72" ry="0.87" transform="rotate(7 28.1 83.3)" fill="#656860" opacity="0.85"/>
<ellipse cx="23.8" cy="97.5" rx="1.24" ry="0.88" transform="rotate(170 23.8 97.5)" fill="#656860" opacity="0.85"/>
<ellipse cx="16.7" cy="98.0" rx="1.16" ry="0.83" transform="rotate(72 16.7 98.0)" fill="#232421" opacity="0.85"/>
<ellipse cx="17.8" cy="88.5" rx="0.79" ry="0.86" transform="rotate(16 17.8 88.5)" fill="#575952" opacity="0.85"/>
<ellipse cx="15.6" cy="83.9" rx="1.37" ry="0.70" transform="rotate(60 15.6 83.9)" fill="#656860" opacity="0.85"/>
<ellipse cx="25.5" cy="96.3" rx="0.84" ry="0.82" transform="rotate(85 25.5 96.3)" fill="#575952" opacity="0.85"/>
<ellipse cx="11.8" cy="84.2" rx="1.09" ry="0.79" transform="rotate(143 11.8 84.2)" fill="#4b4c47" opacity="0.85"/>
<ellipse cx="31.8" cy="94.9" rx="1.73" ry="0.84" transform="rotate(111 31.8 94.9)" fill="#575952" opacity="0.85"/>
<ellipse cx="28.0" cy="96.8" rx="1.17" ry="0.63" transform="rotate(55 28.0 96.8)" fill="#232421" opacity="0.85"/>
<ellipse cx="21.6" cy="93.1" rx="1.58" ry="0.45" transform="rotate(139 21.6 93.1)" fill="#4b4c47" opacity="0.85"/>
<ellipse cx="20.4" cy="88.4" rx="1.08" ry="0.71" transform="rotate(25 20.4 88.4)" fill="#232421" opacity="0.85"/>
<ellipse cx="16.4" cy="96.5" rx="1.30" ry="0.82" transform="rotate(179 16.4 96.5)" fill="#232421" opacity="0.85"/>
<ellipse cx="21.8" cy="92.2" rx="0.65" ry="0.79" transform="rotate(52 21.8 92.2)" fill="#232421" opacity="0.85"/>
<ellipse cx="17.2" cy="99.6" rx="0.77" ry="0.58" transform="rotate(26 17.2 99.6)" fill="#4b4c47" opacity="0.85"/>
<ellipse cx="15.3" cy="82.8" rx="1.12" ry="0.48" transform="rotate(79 15.3 82.8)" fill="#575952" opacity="0.85"/>
<ellipse cx="15.1" cy="90.1" rx="1.73" ry="0.61" transform="rotate(87 15.1 90.1)" fill="#2c2d2a" opacity="0.85"/>
<ellipse cx="20.1" cy="87.3" rx="0.73" ry="0.87" transform="rotate(93 20.1 87.3)" fill="#656860" opacity="0.85"/>
<ellipse cx="25.3" cy="77.2" rx="1.57" ry="0.94" transform="rotate(130 25.3 77.2)" fill="#656860" opacity="0.85"/>
<ellipse cx="17.8" cy="87.9" rx="1.01" ry="0.90" transform="rotate(2 17.8 87.9)" fill="#2c2d2a" opacity="0.85"/>
<ellipse cx="13.3" cy="102.2" rx="1.46" ry="0.92" transform="rotate(19 13.3 102.2)" fill="#4b4c47" opacity="0.85"/>
<ellipse cx="18.0" cy="81.6" rx="1.11" ry="0.54" transform="rotate(46 18.0 81.6)" fill="#232421" opacity="0.85"/>
<ellipse cx="22.7" cy="92.5" rx="1.51" ry="0.83" transform="rotate(90 22.7 92.5)" fill="#4b4c47" opacity="0.85"/>
<ellipse cx="18.3" cy="84.4" rx="1.76" ry="0.74" transform="rotate(56 18.3 84.4)" fill="#2c2d2a" opacity="0.85"/>
<ellipse cx="10.5" cy="98.5" rx="1.72" ry="0.95" transform="rotate(62 10.5 98.5)" fill="#2c2d2a" opacity="0.85"/>
<ellipse cx="22.0" cy="95.9" rx="1.43" ry="0.45" transform="rotate(71 22.0 95.9)" fill="#2c2d2a" opacity="0.85"/>
<ellipse cx="16.5" cy="87.7" rx="1.22" ry="0.72" transform="rotate(103 16.5 87.7)" fill="#4b4c47" opacity="0.85"/>
<ellipse cx="10.5" cy="96.1" rx="1.11" ry="0.68" transform="rotate(95 10.5 96.1)" fill="#575952" opacity="0.85"/>
<ellipse cx="34.6" cy="95.2" rx="1.22" ry="0.66" transform="rotate(111 34.6 95.2)" fill="#575952" opacity="0.85"/>
<ellipse cx="11.2" cy="83.1" rx="0.79" ry="0.76" transform="rotate(32 11.2 83.1)" fill="#232421" opacity="0.85"/>
<ellipse cx="24.2" cy="86.9" rx="1.45" ry="0.99" transform="rotate(163 24.2 86.9)" fill="#656860" opacity="0.85"/>
<ellipse cx="12.3" cy="96.4" rx="1.16" ry="0.51" transform="rotate(111 12.3 96.4)" fill="#232421" opacity="0.85"/>
<ellipse cx="20.8" cy="96.4" rx="1.59" ry="0.77" transform="rotate(7 20.8 96.4)" fill="#2c2d2a" opacity="0.85"/>
<ellipse cx="9.3" cy="96.8" rx="1.77" ry="0.73" transform="rotate(145 9.3 96.8)" fill="#2c2d2a" opacity="0.85"/>
<ellipse cx="21.0" cy="97.2" rx="1.45" ry="0.62" transform="rotate(158 21.0 97.2)" fill="#232421" opacity="0.85"/>
<ellipse cx="10.7" cy="93.3" rx="1.62" ry="0.50" transform="rotate(73 10.7 93.3)" fill="#4b4c47" opacity="0.85"/>
<ellipse cx="33.0" cy="87.0" rx="0.73" ry="0.81" transform="rotate(62 33.0 87.0)" fill="#232421" opacity="0.85"/>
<ellipse cx="21.3" cy="79.4" rx="0.74" ry="0.76" transform="rotate(159 21.3 79.4)" fill="#232421" opacity="0.85"/>
<ellipse cx="18.2" cy="90.1" rx="1.14" ry="0.96" transform="rotate(178 18.2 90.1)" fill="#232421" opacity="0.85"/>
<ellipse cx="20.6" cy="76.9" rx="1.02" ry="0.49" transform="rotate(170 20.6 76.9)" fill="#4b4c47" opacity="0.85"/>
<ellipse cx="25.5" cy="87.5" rx="1.20" ry="0.99" transform="rotate(44 25.5 87.5)" fill="#232421" opacity="0.85"/>
<ellipse cx="10.3" cy="98.2" rx="1.70" ry="0.58" transform="rotate(67 10.3 98.2)" fill="#4b4c47" opacity="0.85"/>
<ellipse cx="16.1" cy="80.6" rx="1.31" ry="0.52" transform="rotate(25 16.1 80.6)" fill="#232421" opacity="0.85"/>
<ellipse cx="31.8" cy="99.8" rx="0.99" ry="0.59" transform="rotate(103 31.8 99.8)" fill="#656860" opacity="0.85"/>
<ellipse cx="27.0" cy="102.3" rx="1.54" ry="0.72" transform="rotate(122 27.0 102.3)" fill="#656860" opacity="0.85"/>
<ellipse cx="10.5" cy="98.6" rx="1.66" ry="0.76" transform="rotate(88 10.5 98.6)" fill="#232421" opacity="0.85"/>
<ellipse cx="30.6" cy="92.4" rx="0.61" ry="0.64" transform="rotate(166 30.6 92.4)" fill="#2c2d2a" opacity="0.85"/>
<ellipse cx="32.7" cy="82.0" rx="1.37" ry="0.75" transform="rotate(57 32.7 82.0)" fill="#232421" opacity="0.85"/>
<ellipse cx="21.1" cy="83.2" rx="0.96" ry="0.90" transform="rotate(145 21.1 83.2)" fill="#656860" opacity="0.85"/>
<ellipse cx="14.0" cy="85.2" rx="0.70" ry="0.53" transform="rotate(93 14.0 85.2)" fill="#656860" opacity="0.85"/>
<ellipse cx="22.2" cy="103.7" rx="1.67" ry="0.72" transform="rotate(166 22.2 103.7)" fill="#575952" opacity="0.85"/>
<ellipse cx="20.5" cy="84.8" rx="1.16" ry="0.64" transform="rotate(68 20.5 84.8)" fill="#4b4c47" opacity="0.85"/>
<ellipse cx="13.4" cy="85.5" rx="0.60" ry="0.86" transform="rotate(92 13.4 85.5)" fill="#575952" opacity="0.85"/>
<ellipse cx="14.9" cy="81.3" rx="1.71" ry="0.91" transform="rotate(157 14.9 81.3)" fill="#4b4c47" opacity="0.85"/>
<ellipse cx="33.3" cy="91.1" rx="1.79" ry="0.53" transform="rotate(159 33.3 91.1)" fill="#575952" opacity="0.85"/>
<ellipse cx="32.1" cy="96.9" rx="1.49" ry="0.56" transform="rotate(157 32.1 96.9)" fill="#575952" opacity="0.85"/>
<ellipse cx="22.0" cy="89.8" rx="0.97" ry="0.74" transform="rotate(120 22.0 89.8)" fill="#2c2d2a" opacity="0.85"/>
<ellipse cx="19.3" cy="92.7" rx="0.81" ry="0.88" transform="rotate(116 19.3 92.7)" fill="#232421" opacity="0.85"/>
<ellipse cx="30.7" cy="84.7" rx="0.78" ry="0.69" transform="rotate(19 30.7 84.7)" fill="#656860" opacity="0.85"/>
<ellipse cx="32.8" cy="83.4" rx="0.94" ry="0.42" transform="rotate(143 32.8 83.4)" fill="#656860" opacity="0.85"/>
<ellipse cx="23.7" cy="98.9" rx="0.82" ry="0.58" transform="rotate(50 23.7 98.9)" fill="#575952" opacity="0.85"/>
<ellipse cx="28.6" cy="81.5" rx="1.54" ry="0.49" transform="rotate(58 28.6 81.5)" fill="#232421" opacity="0.85"/>
<ellipse cx="26.1" cy="84.4" rx="1.57" ry="0.79" transform="rotate(48 26.1 84.4)" fill="#656860" opacity="0.85"/>
<ellipse cx="29.1" cy="102.1" rx="0.99" ry="0.56" transform="rotate(95 29.1 102.1)" fill="#2c2d2a" opacity="0.85"/>
<ellipse cx="23.0" cy="81.1" rx="0.76" ry="0.48" transform="rotate(108 23.0 81.1)" fill="#4b4c47" opacity="0.85"/>
<ellipse cx="20.9" cy="85.2" rx="1.51" ry="0.85" transform="rotate(87 20.9 85.2)" fill="#4b4c47" opacity="0.85"/>
<ellipse cx="14.0" cy="81.5" rx="1.50" ry="0.48" transform="rotate(126 14.0 81.5)" fill="#4b4c47" opacity="0.85"/>
<ellipse cx="32.7" cy="89.2" rx="1.40" ry="0.58" transform="rotate(160 32.7 89.2)" fill="#232421" opacity="0.85"/>
<ellipse cx="28.4" cy="100.4" rx="1.59" ry="0.94" transform="rotate(90 28.4 100.4)" fill="#2c2d2a" opacity="0.85"/>
<ellipse cx="30.4" cy="83.1" rx="1.53" ry="0.81" transform="rotate(137 30.4 83.1)" fill="#656860" opacity="0.85"/>
<ellipse cx="31.2" cy="101.1" rx="1.29" ry="0.87" transform="rotate(58 31.2 101.1)" fill="#575952" opacity="0.85"/>
<ellipse cx="26.3" cy="77.0" rx="1.40" ry="0.53" transform="rotate(166 26.3 77.0)" fill="#575952" opacity="0.85"/>
<ellipse cx="14.5" cy="79.8" rx="1.12" ry="0.70" transform="rotate(143 14.5 79.8)" fill="#656860" opacity="0.85"/>
<ellipse cx="18.6" cy="95.0" rx="1.39" ry="0.43" transform="rotate(175 18.6 95.0)" fill="#2c2d2a" opacity="0.85"/>
<ellipse cx="25.8" cy="89.2" rx="1.36" ry="0.77" transform="rotate(179 25.8 89.2)" fill="#575952" opacity="0.85"/>
<ellipse cx="24.2" cy="88.7" rx="1.46" ry="0.51" transform="rotate(169 24.2 88.7)" fill="#4b4c47" opacity="0.85"/>
<ellipse cx="32.6" cy="89.2" rx="1.24" ry="0.59" transform="rotate(128 32.6 89.2)" fill="#2c2d2a" opacity="0.85"/>
<ellipse cx="22.4" cy="102.1" rx="1.15" ry="0.59" transform="rotate(12 22.4 102.1)" fill="#232421" opacity="0.85"/>
<ellipse cx="17.0" cy="97.5" rx="0.74" ry="0.89" transform="rotate(90 17.0 97.5)" fill="#4b4c47" opacity="0.85"/>
<ellipse cx="14.5" cy="88.0" rx="0.65" ry="0.50" transform="rotate(33 14.5 88.0)" fill="#575952" opacity="0.85"/>
<ellipse cx="33.1" cy="85.2" rx="1.07" ry="1.00" transform="rotate(165 33.1 85.2)" fill="#575952" opacity="0.85"/>
<ellipse cx="18.8" cy="98.9" rx="0.73" ry="0.40" transform="rotate(24 18.8 98.9)" fill="#2c2d2a" opacity="0.85"/>
<ellipse cx="24.1" cy="86.0" rx="0.83" ry="0.91" transform="rotate(80 24.1 86.0)" fill="#2c2d2a" opacity="0.85"/>
<ellipse cx="24.4" cy="86.4" rx="1.57" ry="0.74" transform="rotate(132 24.4 86.4)" fill="#656860" opacity="0.85"/>
<ellipse cx="28.1" cy="88.2" rx="1.10" ry="0.69" transform="rotate(98 28.1 88.2)" fill="#4b4c47" opacity="0.85"/>
<ellipse cx="23.0" cy="76.3" rx="1.38" ry="0.65" transform="rotate(147 23.0 76.3)" fill="#575952" opacity="0.85"/>
<ellipse cx="13.3" cy="92.7" rx="1.25" ry="0.74" transform="rotate(65 13.3 92.7)" fill="#656860" opacity="0.85"/>
<ellipse cx="33.4" cy="84.7" rx="1.47" ry="0.94" transform="rotate(128 33.4 84.7)" fill="#232421" opacity="0.85"/>
<ellipse cx="12.2" cy="88.1" rx="0.79" ry="0.53" transform="rotate(27 12.2 88.1)" fill="#656860" opacity="0.85"/>
<ellipse cx="20.1" cy="76.3" rx="0.75" ry="0.71" transform="rotate(48 20.1 76.3)" fill="#232421" opacity="0.85"/>
<ellipse cx="8.2" cy="90.0" rx="1.64" ry="0.58" transform="rotate(116 8.2 90.0)" fill="#575952" opacity="0.85"/>
<ellipse cx="27.5" cy="98.2" rx="1.42" ry="0.53" transform="rotate(141 27.5 98.2)" fill="#656860" opacity="0.85"/>
<ellipse cx="31.2" cy="93.3" rx="1.26" ry="0.58" transform="rotate(41 31.2 93.3)" fill="#232421" opacity="0.85"/>
<ellipse cx="19.7" cy="78.1" rx="1.29" ry="0.89" transform="rotate(128 19.7 78.1)" fill="#575952" opacity="0.85"/>
<ellipse cx="29.4" cy="84.4" rx="0.91" ry="0.42" transform="rotate(158 29.4 84.4)" fill="#4b4c47" opacity="0.85"/>
<ellipse cx="30.7" cy="88.1" rx="0.67" ry="0.69" transform="rotate(141 30.7 88.1)" fill="#2c2d2a" opacity="0.85"/>
<ellipse cx="18.5" cy="96.8" rx="1.16" ry="0.51" transform="rotate(12 18.5 96.8)" fill="#2c2d2a" opacity="0.85"/>
<ellipse cx="23.2" cy="96.8" rx="0.92" ry="0.70" transform="rotate(64 23.2 96.8)" fill="#232421" opacity="0.85"/>
<ellipse cx="28.4" cy="92.8" rx="1.38" ry="0.51" transform="rotate(176 28.4 92.8)" fill="#232421" opacity="0.85"/>
<ellipse cx="19.7" cy="86.6" rx="0.69" ry="0.98" transform="rotate(13 19.7 86.6)" fill="#656860" opacity="0.85"/>
<ellipse cx="10.4" cy="96.9" rx="1.30" ry="0.41" transform="rotate(93 10.4 96.9)" fill="#4b4c47" opacity="0.85"/>
<ellipse cx="24.0" cy="101.8" rx="1.51" ry="0.69" transform="rotate(171 24.0 101.8)" fill="#4b4c47" opacity="0.85"/>
<ellipse cx="30.3" cy="84.6" rx="1.00" ry="0.90" transform="rotate(19 30.3 84.6)" fill="#4b4c47" opacity="0.85"/>
<ellipse cx="24.7" cy="102.1" rx="0.64" ry="0.42" transform="rotate(65 24.7 102.1)" fill="#4b4c47" opacity="0.85"/>
<ellipse cx="29.5" cy="98.2" rx="1.72" ry="0.94" transform="rotate(27 29.5 98.2)" fill="#2c2d2a" opacity="0.85"/>
<ellipse cx="11.4" cy="99.5" rx="1.09" ry="0.54" transform="rotate(41 11.4 99.5)" fill="#575952" opacity="0.85"/>
<ellipse cx="31.1" cy="83.8" rx="1.64" ry="0.74" transform="rotate(26 31.1 83.8)" fill="#4b4c47" opacity="0.85"/>
<ellipse cx="21.9" cy="96.8" rx="1.58" ry="0.54" transform="rotate(45 21.9 96.8)" fill="#575952" opacity="0.85"/>
<ellipse cx="12.6" cy="81.6" rx="1.75" ry="0.75" transform="rotate(165 12.6 81.6)" fill="#575952" opacity="0.85"/>
<ellipse cx="21.9" cy="98.1" rx="1.65" ry="0.52" transform="rotate(33 21.9 98.1)" fill="#2c2d2a" opacity="0.85"/>
<ellipse cx="9.0" cy="84.6" rx="1.03" ry="0.82" transform="rotate(53 9.0 84.6)" fill="#2c2d2a" opacity="0.85"/>
<ellipse cx="23.0" cy="97.2" rx="0.87" ry="1.00" transform="rotate(78 23.0 97.2)" fill="#2c2d2a" opacity="0.85"/>
<ellipse cx="17.6" cy="84.9" rx="1.80" ry="0.43" transform="rotate(79 17.6 84.9)" fill="#656860" opacity="0.85"/>
<ellipse cx="35.5" cy="88.4" rx="1.39" ry="0.76" transform="rotate(90 35.5 88.4)" fill="#4b4c47" opacity="0.85"/>
<ellipse cx="18.4" cy="103.9" rx="1.80" ry="0.66" transform="rotate(165 18.4 103.9)" fill="#232421" opacity="0.85"/>
<ellipse cx="26.8" cy="77.6" rx="1.38" ry="0.54" transform="rotate(159 26.8 77.6)" fill="#575952" opacity="0.85"/>
<ellipse cx="19.7" cy="88.5" rx="1.33" ry="0.69" transform="rotate(38 19.7 88.5)" fill="#2c2d2a" opacity="0.85"/>
<ellipse cx="15.0" cy="97.2" rx="1.38" ry="0.66" transform="rotate(51 15.0 97.2)" fill="#4b4c47" opacity="0.85"/>
<ellipse cx="27.4" cy="95.2" rx="0.77" ry="0.75" transform="rotate(120 27.4 95.2)" fill="#232421" opacity="0.85"/>
<ellipse cx="26.1" cy="77.6" rx="0.61" ry="0.52" transform="rotate(14 26.1 77.6)" fill="#2c2d2a" opacity="0.85"/>
<ellipse cx="24.8" cy="77.1" rx="0.85" ry="0.90" transform="rotate(8 24.8 77.1)" fill="#575952" opacity="0.85"/>
<ellipse cx="29.4" cy="92.0" rx="1.28" ry="0.76" transform="rotate(160 29.4 92.0)" fill="#232421" opacity="0.85"/>
<ellipse cx="20.0" cy="90.5" rx="0.81" ry="0.95" transform="rotate(51 20.0 90.5)" fill="#2c2d2a" opacity="0.85"/>
<ellipse cx="23.0" cy="87.8" rx="1.22" ry="0.72" transform="rotate(68 23.0 87.8)" fill="#656860" opacity="0.85"/>
<ellipse cx="32.1" cy="100.0" rx="1.52" ry="0.58" transform="rotate(155 32.1 100.0)" fill="#575952" opacity="0.85"/>
<ellipse cx="31.2" cy="96.6" rx="1.70" ry="0.80" transform="rotate(167 31.2 96.6)" fill="#2c2d2a" opacity="0.85"/>
<ellipse cx="24.3" cy="82.0" rx="1.37" ry="0.75" transform="rotate(58 24.3 82.0)" fill="#2c2d2a" opacity="0.85"/>
<ellipse cx="24.5" cy="83.8" rx="0.89" ry="0.82" transform="rotate(29 24.5 83.8)" fill="#2c2d2a" opacity="0.85"/>
<ellipse cx="24.1" cy="95.3" rx="1.79" ry="0.57" transform="rotate(126 24.1 95.3)" fill="#232421" opacity="0.85"/>
<ellipse cx="28.0" cy="90.3" rx="0.78" ry="0.59" transform="rotate(56 28.0 90.3)" fill="#4b4c47" opacity="0.85"/>
<ellipse cx="16.5" cy="87.5" rx="1.13" ry="0.69" transform="rotate(167 16.5 87.5)" fill="#232421" opacity="0.85"/>
<ellipse cx="29.5" cy="82.0" rx="1.15" ry="0.66" transform="rotate(170 29.5 82.0)" fill="#2c2d2a" opacity="0.85"/>
<ellipse cx="32.3" cy="86.9" rx="1.57" ry="0.64" transform="rotate(164 32.3 86.9)" fill="#575952" opacity="0.85"/>
<ellipse cx="21.6" cy="77.1" rx="1.76" ry="0.56" transform="rotate(115 21.6 77.1)" fill="#4b4c47" opacity="0.85"/>
<ellipse cx="18.7" cy="102.5" rx="1.78" ry="0.85" transform="rotate(42 18.7 102.5)" fill="#232421" opacity="0.85"/>
<ellipse cx="26.0" cy="86.4" rx="1.50" ry="0.57" transform="rotate(179 26.0 86.4)" fill="#2c2d2a" opacity="0.85"/>
<ellipse cx="30.6" cy="100.3" rx="1.48" ry="0.81" transform="rotate(34 30.6 100.3)" fill="#4b4c47" opacity="0.85"/>
<ellipse cx="20.9" cy="88.5" rx="0.64" ry="0.94" transform="rotate(65 20.9 88.5)" fill="#575952" opacity="0.85"/>
<ellipse cx="9.1" cy="87.5" rx="1.20" ry="0.61" transform="rotate(21 9.1 87.5)" fill="#575952" opacity="0.85"/>
<ellipse cx="17.6" cy="76.7" rx="1.62" ry="0.46" transform="rotate(73 17.6 76.7)" fill="#4b4c47" opacity="0.85"/>
<ellipse cx="21.8" cy="101.6" rx="0.67" ry="0.54" transform="rotate(55 21.8 101.6)" fill="#656860" opacity="0.85"/>
<ellipse cx="16.3" cy="78.2" rx="1.14" ry="0.86" transform="rotate(4 16.3 78.2)" fill="#232421" opacity="0.85"/>
<ellipse cx="29.6" cy="92.6" rx="1.35" ry="0.97" transform="rotate(55 29.6 92.6)" fill="#4b4c47" opacity="0.85"/>
<ellipse cx="23.0" cy="87.3" rx="1.23" ry="0.80" transform="rotate(142 23.0 87.3)" fill="#232421" opacity="0.85"/>
<ellipse cx="26.4" cy="100.2" rx="1.46" ry="0.91" transform="rotate(132 26.4 100.2)" fill="#575952" opacity="0.85"/>
<ellipse cx="24.3" cy="97.5" rx="1.33" ry="0.76" transform="rotate(160 24.3 97.5)" fill="#2c2d2a" opacity="0.85"/>
<ellipse cx="24.0" cy="83.7" rx="1.31" ry="0.78" transform="rotate(17 24.0 83.7)" fill="#4b4c47" opacity="0.85"/>
<polygon points="34.65,125.00 34.94,128.24 33.59,131.16 32.37,134.17 30.20,136.54 27.05,137.18 24.32,138.07 21.50,140.22 18.57,138.60 15.80,137.52 12.32,137.17 10.84,133.99 8.53,131.60 8.20,128.21 7.52,125.00 8.86,121.95 8.91,118.59 10.20,115.47 12.93,113.64 15.34,111.48 18.37,110.52 21.50,111.48 24.67,110.33 27.52,111.77 29.78,114.02 31.44,116.62 34.52,118.37 34.79,121.79" fill="#61664f"/>
<ellipse cx="18.9" cy="111.3" rx="1.07" ry="0.88" transform="rotate(113 18.9 111.3)" fill="#3c4032" opacity="0.85"/>
<ellipse cx="25.7" cy="124.0" rx="0.72" ry="0.48" transform="rotate(55 25.7 124.0)" fill="#9a9f80" opacity="0.85"/>
<ellipse cx="20.9" cy="136.9" rx="1.11" ry="0.90" transform="rotate(146 20.9 136.9)" fill="#9a9f80" opacity="0.85"/>
<ellipse cx="15.4" cy="133.8" rx="0.88" ry="0.60" transform="rotate(7 15.4 133.8)" fill="#70765c" opacity="0.85"/>
<ellipse cx="30.3" cy="113.2" rx="1.44" ry="0.60" transform="rotate(138 30.3 113.2)" fill="#848a6e" opacity="0.85"/>
<ellipse cx="29.9" cy="118.9" rx="1.36" ry="0.99" transform="rotate(68 29.9 118.9)" fill="#848a6e" opacity="0.85"/>
<ellipse cx="20.9" cy="127.8" rx="0.71" ry="0.88" transform="rotate(105 20.9 127.8)" fill="#3c4032" opacity="0.85"/>
<ellipse cx="22.6" cy="124.1" rx="1.52" ry="0.92" transform="rotate(11 22.6 124.1)" fill="#3c4032" opacity="0.85"/>
<ellipse cx="11.9" cy="117.1" rx="1.46" ry="0.60" transform="rotate(71 11.9 117.1)" fill="#3c4032" opacity="0.85"/>
<ellipse cx="7.2" cy="124.5" rx="0.61" ry="0.46" transform="rotate(137 7.2 124.5)" fill="#9a9f80" opacity="0.85"/>
<ellipse cx="26.8" cy="126.1" rx="0.95" ry="0.56" transform="rotate(176 26.8 126.1)" fill="#3c4032" opacity="0.85"/>
<ellipse cx="34.2" cy="128.7" rx="1.03" ry="0.48" transform="rotate(96 34.2 128.7)" fill="#9a9f80" opacity="0.85"/>
<ellipse cx="12.1" cy="134.7" rx="1.37" ry="0.76" transform="rotate(143 12.1 134.7)" fill="#3c4032" opacity="0.85"/>
<ellipse cx="32.8" cy="133.9" rx="0.93" ry="0.78" transform="rotate(60 32.8 133.9)" fill="#70765c" opacity="0.85"/>
<ellipse cx="29.5" cy="121.4" rx="1.23" ry="0.73" transform="rotate(2 29.5 121.4)" fill="#9a9f80" opacity="0.85"/>
<ellipse cx="24.9" cy="110.4" rx="0.62" ry="0.77" transform="rotate(161 24.9 110.4)" fill="#9a9f80" opacity="0.85"/>
<ellipse cx="28.8" cy="133.6" rx="1.16" ry="0.81" transform="rotate(90 28.8 133.6)" fill="#9a9f80" opacity="0.85"/>
<ellipse cx="16.3" cy="120.6" rx="0.63" ry="0.44" transform="rotate(173 16.3 120.6)" fill="#3c4032" opacity="0.85"/>
<ellipse cx="29.3" cy="126.1" rx="0.96" ry="0.76" transform="rotate(45 29.3 126.1)" fill="#3c4032" opacity="0.85"/>
<ellipse cx="16.8" cy="130.7" rx="1.61" ry="0.56" transform="rotate(96 16.8 130.7)" fill="#9a9f80" opacity="0.85"/>
<ellipse cx="31.5" cy="133.2" rx="1.42" ry="0.48" transform="rotate(128 31.5 133.2)" fill="#70765c" opacity="0.85"/>
<ellipse cx="23.7" cy="138.1" rx="0.99" ry="0.81" transform="rotate(166 23.7 138.1)" fill="#848a6e" opacity="0.85"/>
<ellipse cx="20.3" cy="121.4" rx="1.74" ry="0.80" transform="rotate(57 20.3 121.4)" fill="#9a9f80" opacity="0.85"/>
<ellipse cx="9.4" cy="130.2" rx="0.70" ry="0.85" transform="rotate(55 9.4 130.2)" fill="#848a6e" opacity="0.85"/>
<ellipse cx="28.2" cy="118.8" rx="1.54" ry="0.42" transform="rotate(48 28.2 118.8)" fill="#848a6e" opacity="0.85"/>
<ellipse cx="16.4" cy="137.5" rx="0.82" ry="0.57" transform="rotate(164 16.4 137.5)" fill="#70765c" opacity="0.85"/>
<ellipse cx="30.7" cy="130.8" rx="0.76" ry="0.58" transform="rotate(69 30.7 130.8)" fill="#70765c" opacity="0.85"/>
<ellipse cx="10.9" cy="127.5" rx="1.10" ry="0.65" transform="rotate(105 10.9 127.5)" fill="#9a9f80" opacity="0.85"/>
<ellipse cx="21.8" cy="125.5" rx="1.78" ry="0.66" transform="rotate(56 21.8 125.5)" fill="#70765c" opacity="0.85"/>
<ellipse cx="30.3" cy="126.9" rx="1.76" ry="0.73" transform="rotate(58 30.3 126.9)" fill="#70765c" opacity="0.85"/>
<ellipse cx="29.9" cy="114.4" rx="0.74" ry="0.55" transform="rotate(8 29.9 114.4)" fill="#9a9f80" opacity="0.85"/>
<ellipse cx="31.0" cy="118.1" rx="1.68" ry="0.94" transform="rotate(147 31.0 118.1)" fill="#848a6e" opacity="0.85"/>
<ellipse cx="30.3" cy="128.0" rx="0.81" ry="0.58" transform="rotate(169 30.3 128.0)" fill="#4a4f3c" opacity="0.85"/>
<ellipse cx="31.3" cy="126.3" rx="1.73" ry="0.77" transform="rotate(87 31.3 126.3)" fill="#4a4f3c" opacity="0.85"/>
<ellipse cx="31.4" cy="135.6" rx="1.17" ry="0.87" transform="rotate(90 31.4 135.6)" fill="#70765c" opacity="0.85"/>
<ellipse cx="22.2" cy="129.2" rx="0.81" ry="0.88" transform="rotate(32 22.2 129.2)" fill="#4a4f3c" opacity="0.85"/>
<ellipse cx="21.8" cy="124.3" rx="1.64" ry="0.43" transform="rotate(69 21.8 124.3)" fill="#70765c" opacity="0.85"/>
<ellipse cx="21.6" cy="136.3" rx="1.11" ry="0.68" transform="rotate(0 21.6 136.3)" fill="#70765c" opacity="0.85"/>
<ellipse cx="29.2" cy="114.8" rx="0.75" ry="0.44" transform="rotate(8 29.2 114.8)" fill="#4a4f3c" opacity="0.85"/>
<ellipse cx="23.5" cy="122.2" rx="1.19" ry="0.49" transform="rotate(18 23.5 122.2)" fill="#70765c" opacity="0.85"/>
<ellipse cx="14.9" cy="134.4" rx="0.96" ry="0.56" transform="rotate(84 14.9 134.4)" fill="#70765c" opacity="0.85"/>
<ellipse cx="17.7" cy="126.9" rx="1.46" ry="0.63" transform="rotate(20 17.7 126.9)" fill="#4a4f3c" opacity="0.85"/>
<ellipse cx="19.5" cy="124.1" rx="1.33" ry="0.87" transform="rotate(97 19.5 124.1)" fill="#3c4032" opacity="0.85"/>
<ellipse cx="20.1" cy="123.3" rx="0.66" ry="0.78" transform="rotate(179 20.1 123.3)" fill="#3c4032" opacity="0.85"/>
<ellipse cx="16.0" cy="138.5" rx="1.15" ry="0.55" transform="rotate(137 16.0 138.5)" fill="#3c4032" opacity="0.85"/>
<ellipse cx="20.2" cy="135.9" rx="0.87" ry="0.48" transform="rotate(7 20.2 135.9)" fill="#3c4032" opacity="0.85"/>
<ellipse cx="28.8" cy="121.7" rx="1.55" ry="0.56" transform="rotate(118 28.8 121.7)" fill="#70765c" opacity="0.85"/>
<ellipse cx="16.5" cy="111.4" rx="1.55" ry="0.80" transform="rotate(81 16.5 111.4)" fill="#70765c" opacity="0.85"/>
<ellipse cx="18.1" cy="123.5" rx="1.46" ry="0.68" transform="rotate(60 18.1 123.5)" fill="#70765c" opacity="0.85"/>
<ellipse cx="21.8" cy="122.7" rx="1.28" ry="0.80" transform="rotate(96 21.8 122.7)" fill="#4a4f3c" opacity="0.85"/>
<ellipse cx="22.1" cy="126.4" rx="0.63" ry="0.47" transform="rotate(123 22.1 126.4)" fill="#4a4f3c" opacity="0.85"/>
<ellipse cx="28.7" cy="112.4" rx="0.96" ry="0.45" transform="rotate(144 28.7 112.4)" fill="#70765c" opacity="0.85"/>
<ellipse cx="9.8" cy="124.1" rx="1.27" ry="0.46" transform="rotate(141 9.8 124.1)" fill="#4a4f3c" opacity="0.85"/>
<ellipse cx="28.3" cy="127.9" rx="0.82" ry="0.45" transform="rotate(46 28.3 127.9)" fill="#70765c" opacity="0.85"/>
<ellipse cx="16.1" cy="117.5" rx="0.90" ry="0.76" transform="rotate(89 16.1 117.5)" fill="#3c4032" opacity="0.85"/>
<ellipse cx="8.4" cy="119.8" rx="1.20" ry="0.98" transform="rotate(105 8.4 119.8)" fill="#3c4032" opacity="0.85"/>
<ellipse cx="29.3" cy="112.7" rx="1.43" ry="0.85" transform="rotate(172 29.3 112.7)" fill="#3c4032" opacity="0.85"/>
<ellipse cx="31.6" cy="119.4" rx="1.37" ry="0.94" transform="rotate(38 31.6 119.4)" fill="#848a6e" opacity="0.85"/>
<ellipse cx="26.4" cy="133.5" rx="1.70" ry="0.71" transform="rotate(113 26.4 133.5)" fill="#3c4032" opacity="0.85"/>
<ellipse cx="10.3" cy="117.9" rx="0.92" ry="0.52" transform="rotate(149 10.3 117.9)" fill="#848a6e" opacity="0.85"/>
<ellipse cx="7.8" cy="123.6" rx="1.74" ry="0.58" transform="rotate(180 7.8 123.6)" fill="#70765c" opacity="0.85"/>
<ellipse cx="27.9" cy="116.2" rx="1.30" ry="0.56" transform="rotate(55 27.9 116.2)" fill="#70765c" opacity="0.85"/>
<ellipse cx="19.2" cy="131.4" rx="0.84" ry="0.74" transform="rotate(61 19.2 131.4)" fill="#3c4032" opacity="0.85"/>
<ellipse cx="16.1" cy="136.7" rx="1.10" ry="0.82" transform="rotate(179 16.1 136.7)" fill="#848a6e" opacity="0.85"/>
<ellipse cx="14.1" cy="119.4" rx="0.63" ry="1.00" transform="rotate(18 14.1 119.4)" fill="#70765c" opacity="0.85"/>
<ellipse cx="26.6" cy="118.1" rx="1.16" ry="0.54" transform="rotate(60 26.6 118.1)" fill="#4a4f3c" opacity="0.85"/>
<ellipse cx="14.2" cy="114.6" rx="1.75" ry="0.91" transform="rotate(61 14.2 114.6)" fill="#4a4f3c" opacity="0.85"/>
<ellipse cx="31.0" cy="116.7" rx="0.82" ry="0.82" transform="rotate(9 31.0 116.7)" fill="#848a6e" opacity="0.85"/>
<ellipse cx="26.6" cy="121.1" rx="0.98" ry="0.65" transform="rotate(21 26.6 121.1)" fill="#4a4f3c" opacity="0.85"/>
<ellipse cx="26.3" cy="129.6" rx="0.64" ry="0.67" transform="rotate(172 26.3 129.6)" fill="#9a9f80" opacity="0.85"/>
<ellipse cx="20.6" cy="126.6" rx="1.12" ry="0.69" transform="rotate(53 20.6 126.6)" fill="#9a9f80" opacity="0.85"/>
<ellipse cx="14.1" cy="115.0" rx="1.07" ry="0.73" transform="rotate(30 14.1 115.0)" fill="#3c4032" opacity="0.85"/>
<ellipse cx="23.8" cy="122.8" rx="0.74" ry="0.93" transform="rotate(64 23.8 122.8)" fill="#3c4032" opacity="0.85"/>
<ellipse cx="32.8" cy="133.4" rx="1.41" ry="0.62" transform="rotate(115 32.8 133.4)" fill="#9a9f80" opacity="0.85"/>
<ellipse cx="18.3" cy="136.5" rx="0.73" ry="0.97" transform="rotate(86 18.3 136.5)" fill="#9a9f80" opacity="0.85"/>
<ellipse cx="16.9" cy="115.8" rx="1.40" ry="0.71" transform="rotate(15 16.9 115.8)" fill="#4a4f3c" opacity="0.85"/>
<ellipse cx="19.2" cy="113.2" rx="1.49" ry="0.79" transform="rotate(161 19.2 113.2)" fill="#70765c" opacity="0.85"/>
<ellipse cx="26.2" cy="131.7" rx="0.75" ry="0.96" transform="rotate(36 26.2 131.7)" fill="#3c4032" opacity="0.85"/>
<ellipse cx="31.2" cy="119.4" rx="1.10" ry="0.58" transform="rotate(47 31.2 119.4)" fill="#70765c" opacity="0.85"/>
<ellipse cx="14.6" cy="127.0" rx="1.45" ry="0.46" transform="rotate(46 14.6 127.0)" fill="#848a6e" opacity="0.85"/>
<ellipse cx="21.8" cy="114.5" rx="1.03" ry="0.56" transform="rotate(98 21.8 114.5)" fill="#3c4032" opacity="0.85"/>
<ellipse cx="25.6" cy="126.5" rx="1.21" ry="0.55" transform="rotate(131 25.6 126.5)" fill="#3c4032" opacity="0.85"/>
<ellipse cx="17.0" cy="131.2" rx="1.14" ry="0.89" transform="rotate(17 17.0 131.2)" fill="#3c4032" opacity="0.85"/>
<ellipse cx="13.7" cy="135.9" rx="0.78" ry="0.75" transform="rotate(174 13.7 135.9)" fill="#4a4f3c" opacity="0.85"/>
<ellipse cx="30.9" cy="133.5" rx="0.82" ry="0.51" transform="rotate(106 30.9 133.5)" fill="#4a4f3c" opacity="0.85"/>
<ellipse cx="17.6" cy="117.4" rx="1.31" ry="0.49" transform="rotate(101 17.6 117.4)" fill="#848a6e" opacity="0.85"/>
<ellipse cx="24.5" cy="115.0" rx="1.28" ry="0.52" transform="rotate(64 24.5 115.0)" fill="#848a6e" opacity="0.85"/>
<ellipse cx="16.8" cy="130.3" rx="1.67" ry="0.97" transform="rotate(98 16.8 130.3)" fill="#3c4032" opacity="0.85"/>
<ellipse cx="16.1" cy="138.1" rx="1.36" ry="0.99" transform="rotate(175 16.1 138.1)" fill="#9a9f80" opacity="0.85"/>
<ellipse cx="17.9" cy="111.3" rx="0.64" ry="0.51" transform="rotate(162 17.9 111.3)" fill="#3c4032" opacity="0.85"/>
<ellipse cx="33.7" cy="125.2" rx="1.19" ry="0.71" transform="rotate(117 33.7 125.2)" fill="#848a6e" opacity="0.85"/>
<ellipse cx="25.4" cy="137.4" rx="0.64" ry="0.70" transform="rotate(165 25.4 137.4)" fill="#848a6e" opacity="0.85"/>
<ellipse cx="25.1" cy="123.7" rx="1.75" ry="0.94" transform="rotate(34 25.1 123.7)" fill="#9a9f80" opacity="0.85"/>
<ellipse cx="18.2" cy="125.7" rx="0.63" ry="0.77" transform="rotate(129 18.2 125.7)" fill="#4a4f3c" opacity="0.85"/>
<ellipse cx="30.2" cy="129.9" rx="0.99" ry="0.92" transform="rotate(177 30.2 129.9)" fill="#9a9f80" opacity="0.85"/>
<ellipse cx="20.4" cy="121.9" rx="1.53" ry="0.42" transform="rotate(20 20.4 121.9)" fill="#70765c" opacity="0.85"/>
<ellipse cx="21.0" cy="117.0" rx="1.72" ry="0.92" transform="rotate(111 21.0 117.0)" fill="#848a6e" opacity="0.85"/>
<ellipse cx="19.7" cy="119.2" rx="0.73" ry="0.43" transform="rotate(19 19.7 119.2)" fill="#9a9f80" opacity="0.85"/>
<ellipse cx="28.0" cy="114.8" rx="1.20" ry="0.82" transform="rotate(137 28.0 114.8)" fill="#3c4032" opacity="0.85"/>
<ellipse cx="24.8" cy="120.3" rx="0.97" ry="0.68" transform="rotate(176 24.8 120.3)" fill="#3c4032" opacity="0.85"/>
<ellipse cx="17.3" cy="128.1" rx="1.46" ry="0.62" transform="rotate(94 17.3 128.1)" fill="#4a4f3c" opacity="0.85"/>
<ellipse cx="14.1" cy="127.7" rx="0.87" ry="0.40" transform="rotate(53 14.1 127.7)" fill="#3c4032" opacity="0.85"/>
<ellipse cx="21.1" cy="133.3" rx="1.24" ry="0.50" transform="rotate(5 21.1 133.3)" fill="#3c4032" opacity="0.85"/>
<ellipse cx="25.5" cy="132.7" rx="1.36" ry="0.48" transform="rotate(155 25.5 132.7)" fill="#848a6e" opacity="0.85"/>
<ellipse cx="26.1" cy="133.6" rx="1.61" ry="0.64" transform="rotate(81 26.1 133.6)" fill="#4a4f3c" opacity="0.85"/>
<ellipse cx="11.8" cy="131.7" rx="0.89" ry="0.42" transform="rotate(126 11.8 131.7)" fill="#4a4f3c" opacity="0.85"/>
<ellipse cx="35.3" cy="127.5" rx="0.89" ry="0.63" transform="rotate(48 35.3 127.5)" fill="#848a6e" opacity="0.85"/>
<ellipse cx="27.0" cy="134.8" rx="1.70" ry="0.76" transform="rotate(74 27.0 134.8)" fill="#9a9f80" opacity="0.85"/>
<ellipse cx="19.6" cy="138.0" rx="1.55" ry="0.98" transform="rotate(125 19.6 138.0)" fill="#3c4032" opacity="0.85"/>
<ellipse cx="21.5" cy="131.8" rx="1.35" ry="0.61" transform="rotate(23 21.5 131.8)" fill="#9a9f80" opacity="0.85"/>
<ellipse cx="29.6" cy="128.2" rx="1.31" ry="0.40" transform="rotate(7 29.6 128.2)" fill="#4a4f3c" opacity="0.85"/>
<ellipse cx="20.9" cy="123.7" rx="0.64" ry="0.43" transform="rotate(167 20.9 123.7)" fill="#70765c" opacity="0.85"/>
<ellipse cx="14.1" cy="124.5" rx="1.01" ry="0.69" transform="rotate(89 14.1 124.5)" fill="#3c4032" opacity="0.85"/>
<ellipse cx="23.3" cy="124.3" rx="1.50" ry="0.78" transform="rotate(100 23.3 124.3)" fill="#9a9f80" opacity="0.85"/>
<ellipse cx="27.3" cy="128.8" rx="0.74" ry="0.63" transform="rotate(85 27.3 128.8)" fill="#3c4032" opacity="0.85"/>
<ellipse cx="9.5" cy="122.0" rx="0.81" ry="0.84" transform="rotate(98 9.5 122.0)" fill="#3c4032" opacity="0.85"/>
<ellipse cx="26.6" cy="115.9" rx="1.04" ry="0.65" transform="rotate(58 26.6 115.9)" fill="#848a6e" opacity="0.85"/>
<ellipse cx="10.6" cy="129.2" rx="0.92" ry="0.50" transform="rotate(155 10.6 129.2)" fill="#9a9f80" opacity="0.85"/>
<ellipse cx="31.4" cy="118.8" rx="0.65" ry="0.50" transform="rotate(5 31.4 118.8)" fill="#3c4032" opacity="0.85"/>
<ellipse cx="23.0" cy="121.8" rx="0.98" ry="0.76" transform="rotate(164 23.0 121.8)" fill="#4a4f3c" opacity="0.85"/>
<ellipse cx="31.5" cy="128.9" rx="1.14" ry="0.94" transform="rotate(165 31.5 128.9)" fill="#4a4f3c" opacity="0.85"/>
<ellipse cx="17.5" cy="132.2" rx="0.83" ry="0.87" transform="rotate(26 17.5 132.2)" fill="#4a4f3c" opacity="0.85"/>
<ellipse cx="17.7" cy="131.4" rx="0.70" ry="0.79" transform="rotate(61 17.7 131.4)" fill="#3c4032" opacity="0.85"/>
<ellipse cx="16.2" cy="111.2" rx="1.30" ry="0.41" transform="rotate(58 16.2 111.2)" fill="#848a6e" opacity="0.85"/>
<ellipse cx="20.2" cy="130.8" rx="1.22" ry="0.70" transform="rotate(154 20.2 130.8)" fill="#70765c" opacity="0.85"/>
<ellipse cx="15.9" cy="137.8" rx="1.16" ry="0.77" transform="rotate(10 15.9 137.8)" fill="#848a6e" opacity="0.85"/>
<ellipse cx="23.3" cy="121.4" rx="1.63" ry="0.46" transform="rotate(65 23.3 121.4)" fill="#4a4f3c" opacity="0.85"/>
<ellipse cx="29.3" cy="129.9" rx="1.59" ry="0.81" transform="rotate(27 29.3 129.9)" fill="#848a6e" opacity="0.85"/>
<ellipse cx="13.9" cy="115.0" rx="1.08" ry="0.80" transform="rotate(28 13.9 115.0)" fill="#9a9f80" opacity="0.85"/>
<ellipse cx="17.9" cy="139.1" rx="1.58" ry="0.52" transform="rotate(138 17.9 139.1)" fill="#3c4032" opacity="0.85"/>
<ellipse cx="28.4" cy="125.3" rx="1.01" ry="0.52" transform="rotate(18 28.4 125.3)" fill="#4a4f3c" opacity="0.85"/>
<ellipse cx="31.6" cy="119.4" rx="1.11" ry="0.79" transform="rotate(155 31.6 119.4)" fill="#9a9f80" opacity="0.85"/>
<ellipse cx="15.3" cy="124.2" rx="1.00" ry="0.66" transform="rotate(21 15.3 124.2)" fill="#4a4f3c" opacity="0.85"/>
<ellipse cx="21.5" cy="132.7" rx="1.47" ry="0.92" transform="rotate(156 21.5 132.7)" fill="#848a6e" opacity="0.85"/>
<ellipse cx="10.1" cy="127.8" rx="1.04" ry="0.51" transform="rotate(159 10.1 127.8)" fill="#3c4032" opacity="0.85"/>
<ellipse cx="30.3" cy="121.9" rx="1.16" ry="0.75" transform="rotate(8 30.3 121.9)" fill="#3c4032" opacity="0.85"/>
<ellipse cx="17.9" cy="139.0" rx="1.67" ry="0.42" transform="rotate(38 17.9 139.0)" fill="#848a6e" opacity="0.85"/>
<ellipse cx="18.8" cy="134.8" rx="0.65" ry="0.85" transform="rotate(70 18.8 134.8)" fill="#3c4032" opacity="0.85"/>
<ellipse cx="19.5" cy="125.1" rx="1.49" ry="0.85" transform="rotate(73 19.5 125.1)" fill="#3c4032" opacity="0.85"/>
<ellipse cx="27.0" cy="132.3" rx="1.13" ry="0.52" transform="rotate(124 27.0 132.3)" fill="#3c4032" opacity="0.85"/>
<ellipse cx="22.4" cy="112.8" rx="1.78" ry="0.93" transform="rotate(95 22.4 112.8)" fill="#3c4032" opacity="0.85"/>
<ellipse cx="29.6" cy="121.8" rx="1.17" ry="1.00" transform="rotate(56 29.6 121.8)" fill="#3c4032" opacity="0.85"/>
<ellipse cx="13.2" cy="135.6" rx="0.64" ry="0.62" transform="rotate(91 13.2 135.6)" fill="#9a9f80" opacity="0.85"/>
<ellipse cx="23.9" cy="118.2" rx="1.72" ry="0.71" transform="rotate(3 23.9 118.2)" fill="#848a6e" opacity="0.85"/>
<ellipse cx="28.1" cy="132.6" rx="0.63" ry="0.97" transform="rotate(0 28.1 132.6)" fill="#70765c" opacity="0.85"/>
<ellipse cx="25.0" cy="137.4" rx="1.03" ry="0.98" transform="rotate(92 25.0 137.4)" fill="#3c4032" opacity="0.85"/>
<ellipse cx="23.4" cy="124.7" rx="0.89" ry="0.57" transform="rotate(86 23.4 124.7)" fill="#848a6e" opacity="0.85"/>
<ellipse cx="26.9" cy="115.4" rx="1.14" ry="0.56" transform="rotate(172 26.9 115.4)" fill="#4a4f3c" opacity="0.85"/>
<ellipse cx="24.2" cy="116.5" rx="1.01" ry="0.42" transform="rotate(9 24.2 116.5)" fill="#9a9f80" opacity="0.85"/>
<ellipse cx="13.6" cy="116.4" rx="0.90" ry="0.48" transform="rotate(105 13.6 116.4)" fill="#70765c" opacity="0.85"/>
<ellipse cx="8.7" cy="124.2" rx="0.76" ry="0.41" transform="rotate(11 8.7 124.2)" fill="#70765c" opacity="0.85"/>
<ellipse cx="32.4" cy="126.2" rx="1.16" ry="0.80" transform="rotate(154 32.4 126.2)" fill="#3c4032" opacity="0.85"/>
<ellipse cx="13.6" cy="124.2" rx="0.95" ry="0.44" transform="rotate(35 13.6 124.2)" fill="#848a6e" opacity="0.85"/>
<ellipse cx="31.5" cy="124.5" rx="1.53" ry="0.67" transform="rotate(71 31.5 124.5)" fill="#3c4032" opacity="0.85"/>
<ellipse cx="24.4" cy="116.1" rx="0.79" ry="0.59" transform="rotate(133 24.4 116.1)" fill="#70765c" opacity="0.85"/>
<ellipse cx="30.5" cy="127.3" rx="1.59" ry="0.96" transform="rotate(156 30.5 127.3)" fill="#848a6e" opacity="0.85"/>
<ellipse cx="20.4" cy="132.5" rx="1.26" ry="0.69" transform="rotate(71 20.4 132.5)" fill="#70765c" opacity="0.85"/>
<ellipse cx="24.2" cy="112.5" rx="0.72" ry="0.80" transform="rotate(95 24.2 112.5)" fill="#9a9f80" opacity="0.85"/>
<ellipse cx="30.6" cy="127.1" rx="0.83" ry="0.95" transform="rotate(46 30.6 127.1)" fill="#3c4032" opacity="0.85"/>
<ellipse cx="13.7" cy="113.0" rx="0.98" ry="0.56" transform="rotate(9 13.7 113.0)" fill="#3c4032" opacity="0.85"/>
<ellipse cx="28.2" cy="122.4" rx="1.27" ry="0.42" transform="rotate(106 28.2 122.4)" fill="#3c4032" opacity="0.85"/>
<ellipse cx="21.5" cy="140.0" rx="1.19" ry="0.97" transform="rotate(20 21.5 140.0)" fill="#4a4f3c" opacity="0.85"/>
<ellipse cx="20.2" cy="121.1" rx="1.36" ry="0.89" transform="rotate(1 20.2 121.1)" fill="#4a4f3c" opacity="0.85"/>
<ellipse cx="34.7" cy="119.7" rx="1.12" ry="0.99" transform="rotate(118 34.7 119.7)" fill="#4a4f3c" opacity="0.85"/>
<ellipse cx="20.4" cy="135.5" rx="0.81" ry="0.69" transform="rotate(43 20.4 135.5)" fill="#4a4f3c" opacity="0.85"/>
<ellipse cx="29.8" cy="136.2" rx="1.43" ry="0.68" transform="rotate(101 29.8 136.2)" fill="#848a6e" opacity="0.85"/>
<ellipse cx="18.8" cy="121.3" rx="0.82" ry="0.78" transform="rotate(79 18.8 121.3)" fill="#4a4f3c" opacity="0.85"/>
<ellipse cx="26.2" cy="137.5" rx="0.66" ry="0.98" transform="rotate(136 26.2 137.5)" fill="#848a6e" opacity="0.85"/>
<ellipse cx="24.2" cy="137.7" rx="1.07" ry="0.99" transform="rotate(71 24.2 137.7)" fill="#3c4032" opacity="0.85"/>
<ellipse cx="24.6" cy="127.5" rx="0.75" ry="0.61" transform="rotate(154 24.6 127.5)" fill="#9a9f80" opacity="0.85"/>
<ellipse cx="26.2" cy="127.6" rx="1.80" ry="0.99" transform="rotate(62 26.2 127.6)" fill="#9a9f80" opacity="0.85"/>
<ellipse cx="30.7" cy="129.1" rx="0.72" ry="0.91" transform="rotate(121 30.7 129.1)" fill="#3c4032" opacity="0.85"/>
<ellipse cx="29.0" cy="126.1" rx="1.28" ry="0.68" transform="rotate(137 29.0 126.1)" fill="#3c4032" opacity="0.85"/>
<ellipse cx="19.9" cy="129.5" rx="1.60" ry="0.52" transform="rotate(152 19.9 129.5)" fill="#3c4032" opacity="0.85"/>
<ellipse cx="18.1" cy="137.2" rx="0.96" ry="0.92" transform="rotate(42 18.1 137.2)" fill="#848a6e" opacity="0.85"/>
<ellipse cx="16.2" cy="137.4" rx="0.66" ry="0.99" transform="rotate(104 16.2 137.4)" fill="#848a6e" opacity="0.85"/>
<ellipse cx="17.7" cy="121.5" rx="0.62" ry="0.92" transform="rotate(103 17.7 121.5)" fill="#70765c" opacity="0.85"/>
<ellipse cx="32.9" cy="124.4" rx="1.44" ry="0.57" transform="rotate(118 32.9 124.4)" fill="#70765c" opacity="0.85"/>
<ellipse cx="13.0" cy="122.7" rx="1.31" ry="0.53" transform="rotate(116 13.0 122.7)" fill="#848a6e" opacity="0.85"/>
<ellipse cx="13.6" cy="124.7" rx="1.31" ry="0.82" transform="rotate(88 13.6 124.7)" fill="#9a9f80" opacity="0.85"/>
<ellipse cx="29.8" cy="114.6" rx="1.77" ry="0.58" transform="rotate(46 29.8 114.6)" fill="#9a9f80" opacity="0.85"/>
<ellipse cx="28.3" cy="132.0" rx="1.47" ry="0.55" transform="rotate(111 28.3 132.0)" fill="#9a9f80" opacity="0.85"/>
<ellipse cx="30.2" cy="123.1" rx="1.00" ry="0.87" transform="rotate(45 30.2 123.1)" fill="#3c4032" opacity="0.85"/>
<ellipse cx="31.2" cy="124.1" rx="1.79" ry="0.43" transform="rotate(106 31.2 124.1)" fill="#3c4032" opacity="0.85"/>
<ellipse cx="9.9" cy="131.2" rx="0.67" ry="0.91" transform="rotate(98 9.9 131.2)" fill="#9a9f80" opacity="0.85"/>
<ellipse cx="22.2" cy="128.1" rx="0.86" ry="0.73" transform="rotate(30 22.2 128.1)" fill="#70765c" opacity="0.85"/>
<ellipse cx="9.6" cy="130.8" rx="1.03" ry="0.58" transform="rotate(129 9.6 130.8)" fill="#70765c" opacity="0.85"/>
<ellipse cx="15.5" cy="131.7" rx="1.30" ry="0.49" transform="rotate(56 15.5 131.7)" fill="#4a4f3c" opacity="0.85"/>
<ellipse cx="24.3" cy="125.0" rx="0.77" ry="0.45" transform="rotate(82 24.3 125.0)" fill="#4a4f3c" opacity="0.85"/>
<ellipse cx="16.5" cy="127.3" rx="1.25" ry="0.95" transform="rotate(136 16.5 127.3)" fill="#4a4f3c" opacity="0.85"/>
<ellipse cx="14.2" cy="127.8" rx="1.13" ry="0.81" transform="rotate(30 14.2 127.8)" fill="#848a6e" opacity="0.85"/>
<ellipse cx="7.8" cy="124.1" rx="1.17" ry="0.93" transform="rotate(73 7.8 124.1)" fill="#848a6e" opacity="0.85"/>
<ellipse cx="17.8" cy="123.6" rx="1.32" ry="0.45" transform="rotate(7 17.8 123.6)" fill="#848a6e" opacity="0.85"/>
<ellipse cx="23.8" cy="116.8" rx="1.60" ry="0.51" transform="rotate(70 23.8 116.8)" fill="#3c4032" opacity="0.85"/>
<ellipse cx="25.0" cy="129.5" rx="1.30" ry="0.97" transform="rotate(76 25.0 129.5)" fill="#3c4032" opacity="0.85"/>
<ellipse cx="18.2" cy="126.5" rx="0.68" ry="0.93" transform="rotate(82 18.2 126.5)" fill="#4a4f3c" opacity="0.85"/>
<ellipse cx="22.3" cy="125.4" rx="1.70" ry="0.78" transform="rotate(24 22.3 125.4)" fill="#3c4032" opacity="0.85"/>
<ellipse cx="24.9" cy="118.1" rx="1.66" ry="0.54" transform="rotate(82 24.9 118.1)" fill="#3c4032" opacity="0.85"/>
<ellipse cx="23.9" cy="133.2" rx="0.66" ry="0.71" transform="rotate(130 23.9 133.2)" fill="#4a4f3c" opacity="0.85"/>
<ellipse cx="11.4" cy="123.4" rx="0.82" ry="0.89" transform="rotate(137 11.4 123.4)" fill="#4a4f3c" opacity="0.85"/>
<ellipse cx="15.5" cy="129.9" rx="1.39" ry="0.72" transform="rotate(51 15.5 129.9)" fill="#3c4032" opacity="0.85"/>
<ellipse cx="14.7" cy="121.5" rx="0.76" ry="0.72" transform="rotate(158 14.7 121.5)" fill="#70765c" opacity="0.85"/>
<ellipse cx="14.4" cy="124.1" rx="1.63" ry="0.84" transform="rotate(52 14.4 124.1)" fill="#70765c" opacity="0.85"/>
<ellipse cx="10.4" cy="129.1" rx="1.36" ry="0.70" transform="rotate(55 10.4 129.1)" fill="#9a9f80" opacity="0.85"/>
<ellipse cx="23.0" cy="128.6" rx="0.74" ry="0.95" transform="rotate(101 23.0 128.6)" fill="#3c4032" opacity="0.85"/>
<ellipse cx="25.4" cy="118.7" rx="0.99" ry="0.55" transform="rotate(174 25.4 118.7)" fill="#4a4f3c" opacity="0.85"/>
<ellipse cx="22.8" cy="122.6" rx="1.04" ry="0.53" transform="rotate(72 22.8 122.6)" fill="#3c4032" opacity="0.85"/>
<ellipse cx="21.5" cy="131.8" rx="1.48" ry="0.52" transform="rotate(77 21.5 131.8)" fill="#9a9f80" opacity="0.85"/>
<ellipse cx="12.0" cy="128.8" rx="1.18" ry="0.53" transform="rotate(171 12.0 128.8)" fill="#848a6e" opacity="0.85"/>
<ellipse cx="17.6" cy="129.7" rx="1.07" ry="0.72" transform="rotate(153 17.6 129.7)" fill="#70765c" opacity="0.85"/>
<ellipse cx="24.6" cy="131.6" rx="0.67" ry="0.87" transform="rotate(117 24.6 131.6)" fill="#9a9f80" opacity="0.85"/>
<ellipse cx="11.2" cy="125.7" rx="1.22" ry="0.65" transform="rotate(126 11.2 125.7)" fill="#9a9f80" opacity="0.85"/>
<ellipse cx="23.7" cy="138.2" rx="1.02" ry="1.00" transform="rotate(123 23.7 138.2)" fill="#3c4032" opacity="0.85"/>
<ellipse cx="21.7" cy="120.9" rx="1.01" ry="0.84" transform="rotate(149 21.7 120.9)" fill="#3c4032" opacity="0.85"/>
<ellipse cx="18.2" cy="132.3" rx="1.62" ry="0.69" transform="rotate(138 18.2 132.3)" fill="#848a6e" opacity="0.85"/>
<ellipse cx="29.4" cy="136.8" rx="1.19" ry="0.75" transform="rotate(162 29.4 136.8)" fill="#9a9f80" opacity="0.85"/>
<ellipse cx="22.5" cy="128.5" rx="1.31" ry="0.75" transform="rotate(173 22.5 128.5)" fill="#70765c" opacity="0.85"/>
<ellipse cx="28.9" cy="118.0" rx="1.60" ry="0.85" transform="rotate(74 28.9 118.0)" fill="#3c4032" opacity="0.85"/>
<ellipse cx="29.1" cy="120.8" rx="1.48" ry="0.61" transform="rotate(122 29.1 120.8)" fill="#70765c" opacity="0.85"/>
<ellipse cx="18.0" cy="129.0" rx="1.44" ry="0.74" transform="rotate(98 18.0 129.0)" fill="#9a9f80" opacity="0.85"/>
<ellipse cx="19.8" cy="117.5" rx="0.98" ry="0.83" transform="rotate(44 19.8 117.5)" fill="#848a6e" opacity="0.85"/>
<ellipse cx="12.8" cy="122.6" rx="1.26" ry="0.62" transform="rotate(14 12.8 122.6)" fill="#3c4032" opacity="0.85"/>
<ellipse cx="12.4" cy="117.4" rx="1.21" ry="0.50" transform="rotate(25 12.4 117.4)" fill="#848a6e" opacity="0.85"/>
<ellipse cx="17.8" cy="123.7" rx="1.64" ry="0.71" transform="rotate(101 17.8 123.7)" fill="#3c4032" opacity="0.85"/>
<ellipse cx="20.1" cy="134.6" rx="0.88" ry="0.56" transform="rotate(54 20.1 134.6)" fill="#9a9f80" opacity="0.85"/>
<ellipse cx="30.2" cy="121.9" rx="0.78" ry="0.62" transform="rotate(174 30.2 121.9)" fill="#3c4032" opacity="0.85"/>
<ellipse cx="25.5" cy="135.0" rx="1.74" ry="0.80" transform="rotate(63 25.5 135.0)" fill="#70765c" opacity="0.85"/>
<ellipse cx="33.9" cy="123.8" rx="1.68" ry="0.46" transform="rotate(180 33.9 123.8)" fill="#9a9f80" opacity="0.85"/>
<ellipse cx="23.6" cy="127.6" rx="1.00" ry="0.47" transform="rotate(36 23.6 127.6)" fill="#3c4032" opacity="0.85"/>
<ellipse cx="27.2" cy="135.2" rx="1.79" ry="0.48" transform="rotate(112 27.2 135.2)" fill="#9a9f80" opacity="0.85"/>
<ellipse cx="21.2" cy="115.0" rx="1.11" ry="0.88" transform="rotate(65 21.2 115.0)" fill="#70765c" opacity="0.85"/>
<ellipse cx="19.7" cy="131.7" rx="0.78" ry="0.42" transform="rotate(110 19.7 131.7)" fill="#3c4032" opacity="0.85"/>
<ellipse cx="17.9" cy="120.4" rx="1.21" ry="0.97" transform="rotate(178 17.9 120.4)" fill="#848a6e" opacity="0.85"/>
<ellipse cx="20.4" cy="116.7" rx="1.35" ry="0.74" transform="rotate(91 20.4 116.7)" fill="#4a4f3c" opacity="0.85"/>
<ellipse cx="22.9" cy="129.8" rx="1.18" ry="0.84" transform="rotate(38 22.9 129.8)" fill="#4a4f3c" opacity="0.85"/>
<ellipse cx="27.0" cy="130.3" rx="1.48" ry="0.56" transform="rotate(22 27.0 130.3)" fill="#70765c" opacity="0.85"/>
<ellipse cx="12.1" cy="115.1" rx="0.71" ry="0.82" transform="rotate(161 12.1 115.1)" fill="#848a6e" opacity="0.85"/>
<ellipse cx="23.3" cy="116.6" rx="1.26" ry="0.80" transform="rotate(113 23.3 116.6)" fill="#3c4032" opacity="0.85"/>
<ellipse cx="20.5" cy="137.2" rx="0.68" ry="0.81" transform="rotate(106 20.5 137.2)" fill="#4a4f3c" opacity="0.85"/>
<ellipse cx="22.4" cy="126.7" rx="1.47" ry="0.90" transform="rotate(92 22.4 126.7)" fill="#70765c" opacity="0.85"/>
<ellipse cx="31.6" cy="132.9" rx="0.61" ry="0.72" transform="rotate(170 31.6 132.9)" fill="#3c4032" opacity="0.85"/>
<ellipse cx="19.6" cy="113.7" rx="1.14" ry="0.88" transform="rotate(88 19.6 113.7)" fill="#3c4032" opacity="0.85"/>
<ellipse cx="22.5" cy="129.9" rx="0.72" ry="0.59" transform="rotate(146 22.5 129.9)" fill="#3c4032" opacity="0.85"/>
<ellipse cx="29.9" cy="132.8" rx="0.95" ry="0.41" transform="rotate(6 29.9 132.8)" fill="#848a6e" opacity="0.85"/>
<ellipse cx="16.6" cy="121.8" rx="1.28" ry="0.56" transform="rotate(153 16.6 121.8)" fill="#3c4032" opacity="0.85"/>
<ellipse cx="11.6" cy="134.6" rx="1.23" ry="0.66" transform="rotate(78 11.6 134.6)" fill="#848a6e" opacity="0.85"/>
<ellipse cx="23.1" cy="119.9" rx="1.20" ry="0.46" transform="rotate(148 23.1 119.9)" fill="#3c4032" opacity="0.85"/>
<ellipse cx="25.7" cy="123.2" rx="0.75" ry="1.00" transform="rotate(43 25.7 123.2)" fill="#70765c" opacity="0.85"/>
<ellipse cx="23.0" cy="135.2" rx="0.75" ry="0.70" transform="rotate(122 23.0 135.2)" fill="#9a9f80" opacity="0.85"/>
<ellipse cx="25.4" cy="113.0" rx="0.62" ry="0.41" transform="rotate(159 25.4 113.0)" fill="#3c4032" opacity="0.85"/>
<ellipse cx="33.1" cy="125.4" rx="1.69" ry="0.43" transform="rotate(172 33.1 125.4)" fill="#3c4032" opacity="0.85"/>
<ellipse cx="17.9" cy="137.8" rx="0.96" ry="0.58" transform="rotate(33 17.9 137.8)" fill="#3c4032" opacity="0.85"/>
<ellipse cx="17.8" cy="135.0" rx="1.76" ry="0.43" transform="rotate(174 17.8 135.0)" fill="#3c4032" opacity="0.85"/>
<ellipse cx="22.7" cy="128.2" rx="1.24" ry="0.86" transform="rotate(130 22.7 128.2)" fill="#3c4032" opacity="0.85"/>
<ellipse cx="24.6" cy="128.9" rx="1.21" ry="0.98" transform="rotate(1 24.6 128.9)" fill="#9a9f80" opacity="0.85"/>
<ellipse cx="13.7" cy="125.2" rx="1.71" ry="0.65" transform="rotate(85 13.7 125.2)" fill="#3c4032" opacity="0.85"/>
<ellipse cx="13.9" cy="121.8" rx="1.01" ry="0.96" transform="rotate(82 13.9 121.8)" fill="#3c4032" opacity="0.85"/>
<ellipse cx="17.4" cy="136.9" rx="1.54" ry="0.85" transform="rotate(52 17.4 136.9)" fill="#9a9f80" opacity="0.85"/>
<ellipse cx="14.6" cy="134.1" rx="1.75" ry="0.69" transform="rotate(51 14.6 134.1)" fill="#3c4032" opacity="0.85"/>
<ellipse cx="19.5" cy="114.1" rx="1.80" ry="0.43" transform="rotate(102 19.5 114.1)" fill="#848a6e" opacity="0.85"/>
<rect x="40" y="40.1" width="31" height="31.1" fill="#cfd0cc"/><circle cx="55.7" cy="55.650000000000006" r="14.42" fill="#ecedea"/><circle cx="55.2" cy="55.35000000000001" r="12.71" fill="#dadbd8"/><circle cx="55.7" cy="55.650000000000006" r="11.00" fill="#9e5337"/><circle cx="55.7" cy="55.650000000000006" r="10.08" fill="#ad5e40"/>
<rect x="40" y="74.6" width="31" height="30.8" fill="#cfd0cc"/><circle cx="55.7" cy="90.0" r="14.42" fill="#ecedea"/><circle cx="55.2" cy="89.7" r="12.71" fill="#dcddda"/><circle cx="55.7" cy="90.0" r="11.00" fill="#c0af66"/><circle cx="55.7" cy="90.0" r="10.08" fill="#cbba70"/>
<rect x="40" y="109.1" width="31" height="31.1" fill="#cfd0cc"/><circle cx="55.7" cy="124.64999999999999" r="14.42" fill="#ecedea"/><circle cx="55.2" cy="124.35" r="12.71" fill="#dadbd8"/><circle cx="55.7" cy="124.64999999999999" r="11.00" fill="#c4bd7e"/><circle cx="55.7" cy="124.64999999999999" r="10.08" fill="#cdc68a"/>
<line x1="111.6" y1="35.5" x2="111.6" y2="141.5" stroke="#e6e6e6" stroke-width="0.6"/>
<rect x="150" y="47.1" width="102.70" height="13.6" fill="#e99a51"/>
<rect x="111.6" y="47.1" width="39.00" height="13.6" fill="#4fa3d9"/>
<rect x="111.6" y="82" width="67.20" height="13.8" fill="#4fa3d9"/>
<rect x="269.6" y="117.1" width="28.90" height="13.9" fill="#e99a51"/>
<rect x="111.6" y="117.1" width="158.60" height="13.9" fill="#4fa3d9"/>
<line x1="111.3" y1="141.5" x2="322.5" y2="141.5" stroke="#555" stroke-width="0.8"/>
<line x1="111.60" y1="141.5" x2="111.60" y2="143.2" stroke="#555" stroke-width="0.6"/>
<line x1="118.64" y1="141.5" x2="118.64" y2="143.2" stroke="#555" stroke-width="0.6"/>
<line x1="125.68" y1="141.5" x2="125.68" y2="143.2" stroke="#555" stroke-width="0.6"/>
<line x1="132.72" y1="141.5" x2="132.72" y2="143.2" stroke="#555" stroke-width="0.6"/>
<line x1="139.76" y1="141.5" x2="139.76" y2="143.2" stroke="#555" stroke-width="0.6"/>
<line x1="146.80" y1="141.5" x2="146.80" y2="143.2" stroke="#555" stroke-width="0.6"/>
<line x1="153.84" y1="141.5" x2="153.84" y2="143.2" stroke="#555" stroke-width="0.6"/>
<line x1="160.88" y1="141.5" x2="160.88" y2="143.2" stroke="#555" stroke-width="0.6"/>
<line x1="167.92" y1="141.5" x2="167.92" y2="143.2" stroke="#555" stroke-width="0.6"/>
<line x1="174.96" y1="141.5" x2="174.96" y2="143.2" stroke="#555" stroke-width="0.6"/>
<line x1="182.00" y1="141.5" x2="182.00" y2="143.2" stroke="#555" stroke-width="0.6"/>
<line x1="189.04" y1="141.5" x2="189.04" y2="143.2" stroke="#555" stroke-width="0.6"/>
<line x1="196.08" y1="141.5" x2="196.08" y2="143.2" stroke="#555" stroke-width="0.6"/>
<line x1="203.12" y1="141.5" x2="203.12" y2="143.2" stroke="#555" stroke-width="0.6"/>
<line x1="210.16" y1="141.5" x2="210.16" y2="143.2" stroke="#555" stroke-width="0.6"/>
<line x1="217.20" y1="141.5" x2="217.20" y2="143.2" stroke="#555" stroke-width="0.6"/>
<line x1="224.24" y1="141.5" x2="224.24" y2="143.2" stroke="#555" stroke-width="0.6"/>
<line x1="231.28" y1="141.5" x2="231.28" y2="143.2" stroke="#555" stroke-width="0.6"/>
<line x1="238.32" y1="141.5" x2="238.32" y2="143.2" stroke="#555" stroke-width="0.6"/>
<line x1="245.36" y1="141.5" x2="245.36" y2="143.2" stroke="#555" stroke-width="0.6"/>
<line x1="252.40" y1="141.5" x2="252.40" y2="143.2" stroke="#555" stroke-width="0.6"/>
<line x1="259.44" y1="141.5" x2="259.44" y2="143.2" stroke="#555" stroke-width="0.6"/>
<line x1="266.48" y1="141.5" x2="266.48" y2="143.2" stroke="#555" stroke-width="0.6"/>
<line x1="273.52" y1="141.5" x2="273.52" y2="143.2" stroke="#555" stroke-width="0.6"/>
<line x1="280.56" y1="141.5" x2="280.56" y2="143.2" stroke="#555" stroke-width="0.6"/>
<line x1="287.60" y1="141.5" x2="287.60" y2="143.2" stroke="#555" stroke-width="0.6"/>
<line x1="294.64" y1="141.5" x2="294.64" y2="143.2" stroke="#555" stroke-width="0.6"/>
<line x1="301.68" y1="141.5" x2="301.68" y2="143.2" stroke="#555" stroke-width="0.6"/>
<line x1="308.72" y1="141.5" x2="308.72" y2="143.2" stroke="#555" stroke-width="0.6"/>
<line x1="315.76" y1="141.5" x2="315.76" y2="143.2" stroke="#555" stroke-width="0.6"/>
<line x1="322.80" y1="141.5" x2="322.80" y2="143.2" stroke="#555" stroke-width="0.6"/>
<rect x="184" y="162.6" width="3.8" height="3.6" fill="#4fa3d9"/>
<rect x="202.8" y="162.6" width="4" height="3.6" fill="#e99a51"/>
<rect x="51.30" y="228.70" width="11.05" height="13.65" fill="#eef0e6"/>
<rect x="62.35" y="228.70" width="11.05" height="13.65" fill="#f0f2dc"/>
<rect x="73.40" y="228.70" width="11.05" height="13.65" fill="#f4f2cc"/>
<rect x="84.45" y="228.70" width="11.05" height="13.65" fill="#f4f2cc"/>
<rect x="95.50" y="228.70" width="11.05" height="13.65" fill="#f0f2dc"/>
<rect x="106.55" y="228.70" width="11.05" height="13.65" fill="#eef0e6"/>
<rect x="117.60" y="228.70" width="11.05" height="13.65" fill="#f4f2cc"/>
<rect x="128.65" y="228.70" width="11.05" height="13.65" fill="#f0a064"/>
<rect x="139.70" y="228.70" width="11.05" height="13.65" fill="#eef0e6"/>
<rect x="150.75" y="228.70" width="11.05" height="13.65" fill="#f4f2cc"/>
<rect x="161.80" y="228.70" width="11.05" height="13.65" fill="#f8e6ac"/>
<rect x="172.85" y="228.70" width="11.05" height="13.65" fill="#eef0e6"/>
<rect x="183.90" y="228.70" width="11.05" height="13.65" fill="#eef0e6"/>
<rect x="194.95" y="228.70" width="11.05" height="13.65" fill="#eef0e6"/>
<rect x="206.00" y="228.70" width="11.05" height="13.65" fill="#eef0e6"/>
<rect x="217.05" y="228.70" width="11.05" height="13.65" fill="#f4f2cc"/>
<rect x="228.10" y="228.70" width="11.05" height="13.65" fill="#f0f2dc"/>
<rect x="239.15" y="228.70" width="11.05" height="13.65" fill="#f8dca0"/>
<rect x="250.20" y="228.70" width="11.05" height="13.65" fill="#f4c088"/>
<rect x="51.30" y="242.35" width="11.05" height="13.65" fill="#f0f2dc"/>
<rect x="62.35" y="242.35" width="11.05" height="13.65" fill="#f4f2cc"/>
<rect x="73.40" y="242.35" width="11.05" height="13.65" fill="#e9edeb"/>
<rect x="84.45" y="242.35" width="11.05" height="13.65" fill="#e9edeb"/>
<rect x="95.50" y="242.35" width="11.05" height="13.65" fill="#f0f2dc"/>
<rect x="106.55" y="242.35" width="11.05" height="13.65" fill="#e6ecee"/>
<rect x="117.60" y="242.35" width="11.05" height="13.65" fill="#eef0e6"/>
<rect x="128.65" y="242.35" width="11.05" height="13.65" fill="#f4c088"/>
<rect x="139.70" y="242.35" width="11.05" height="13.65" fill="#f0a064"/>
<rect x="150.75" y="242.35" width="11.05" height="13.65" fill="#f4f2cc"/>
<rect x="161.80" y="242.35" width="11.05" height="13.65" fill="#f8e6ac"/>
<rect x="172.85" y="242.35" width="11.05" height="13.65" fill="#f6f0c4"/>
<rect x="183.90" y="242.35" width="11.05" height="13.65" fill="#f0f2dc"/>
<rect x="194.95" y="242.35" width="11.05" height="13.65" fill="#f8dca0"/>
<rect x="206.00" y="242.35" width="11.05" height="13.65" fill="#f4f2cc"/>
<rect x="217.05" y="242.35" width="11.05" height="13.65" fill="#eef0e6"/>
<rect x="228.10" y="242.35" width="11.05" height="13.65" fill="#eef0e6"/>
<rect x="239.15" y="242.35" width="11.05" height="13.65" fill="#e9edeb"/>
<rect x="250.20" y="242.35" width="11.05" height="13.65" fill="#e9edeb"/>
<rect x="51.30" y="256.00" width="11.05" height="13.65" fill="#eef0e6"/>
<rect x="62.35" y="256.00" width="11.05" height="13.65" fill="#eef0e6"/>
<rect x="73.40" y="256.00" width="11.05" height="13.65" fill="#f4f2cc"/>
<rect x="84.45" y="256.00" width="11.05" height="13.65" fill="#f4f2cc"/>
<rect x="95.50" y="256.00" width="11.05" height="13.65" fill="#f8e6ac"/>
<rect x="106.55" y="256.00" width="11.05" height="13.65" fill="#f0f2dc"/>
<rect x="117.60" y="256.00" width="11.05" height="13.65" fill="#f4f2cc"/>
<rect x="128.65" y="256.00" width="11.05" height="13.65" fill="#f8dca0"/>
<rect x="139.70" y="256.00" width="11.05" height="13.65" fill="#f6d094"/>
<rect x="150.75" y="256.00" width="11.05" height="13.65" fill="#f0a064"/>
<rect x="161.80" y="256.00" width="11.05" height="13.65" fill="#f4c088"/>
<rect x="172.85" y="256.00" width="11.05" height="13.65" fill="#e9edeb"/>
<rect x="183.90" y="256.00" width="11.05" height="13.65" fill="#e9edeb"/>
<rect x="194.95" y="256.00" width="11.05" height="13.65" fill="#e9edeb"/>
<rect x="206.00" y="256.00" width="11.05" height="13.65" fill="#e9edeb"/>
<rect x="217.05" y="256.00" width="11.05" height="13.65" fill="#f0f2dc"/>
<rect x="228.10" y="256.00" width="11.05" height="13.65" fill="#eef0e6"/>
<rect x="239.15" y="256.00" width="11.05" height="13.65" fill="#f0f2dc"/>
<rect x="250.20" y="256.00" width="11.05" height="13.65" fill="#f0f2dc"/>
<rect x="51.30" y="269.65" width="11.05" height="13.65" fill="#eef0e6"/>
<rect x="62.35" y="269.65" width="11.05" height="13.65" fill="#eef0e6"/>
<rect x="73.40" y="269.65" width="11.05" height="13.65" fill="#f0f2dc"/>
<rect x="84.45" y="269.65" width="11.05" height="13.65" fill="#f0f2dc"/>
<rect x="95.50" y="269.65" width="11.05" height="13.65" fill="#f0f2dc"/>
<rect x="106.55" y="269.65" width="11.05" height="13.65" fill="#eef0e6"/>
<rect x="117.60" y="269.65" width="11.05" height="13.65" fill="#f4f2cc"/>
<rect x="128.65" y="269.65" width="11.05" height="13.65" fill="#f8dca0"/>
<rect x="139.70" y="269.65" width="11.05" height="13.65" fill="#f8dca0"/>
<rect x="150.75" y="269.65" width="11.05" height="13.65" fill="#f4c088"/>
<rect x="161.80" y="269.65" width="11.05" height="13.65" fill="#e4704a"/>
<rect x="172.85" y="269.65" width="11.05" height="13.65" fill="#f0f2dc"/>
<rect x="183.90" y="269.65" width="11.05" height="13.65" fill="#f0f2dc"/>
<rect x="194.95" y="269.65" width="11.05" height="13.65" fill="#f0f2dc"/>
<rect x="206.00" y="269.65" width="11.05" height="13.65" fill="#f0f2dc"/>
<rect x="217.05" y="269.65" width="11.05" height="13.65" fill="#f0f2dc"/>
<rect x="228.10" y="269.65" width="11.05" height="13.65" fill="#f0f2dc"/>
<rect x="239.15" y="269.65" width="11.05" height="13.65" fill="#f0f2dc"/>
<rect x="250.20" y="269.65" width="11.05" height="13.65" fill="#f4f2cc"/>
<rect x="51.30" y="283.30" width="11.05" height="13.65" fill="#f4f2cc"/>
<rect x="62.35" y="283.30" width="11.05" height="13.65" fill="#f6d094"/>
<rect x="73.40" y="283.30" width="11.05" height="13.65" fill="#f0f2dc"/>
<rect x="84.45" y="283.30" width="11.05" height="13.65" fill="#f0f2dc"/>
<rect x="95.50" y="283.30" width="11.05" height="13.65" fill="#f0f2dc"/>
<rect x="106.55" y="283.30" width="11.05" height="13.65" fill="#f0f2dc"/>
<rect x="117.60" y="283.30" width="11.05" height="13.65" fill="#f0f2dc"/>
<rect x="128.65" y="283.30" width="11.05" height="13.65" fill="#f0f2dc"/>
<rect x="139.70" y="283.30" width="11.05" height="13.65" fill="#f0f2dc"/>
<rect x="150.75" y="283.30" width="11.05" height="13.65" fill="#f0f2dc"/>
<rect x="161.80" y="283.30" width="11.05" height="13.65" fill="#f0f2dc"/>
<rect x="172.85" y="283.30" width="11.05" height="13.65" fill="#f0f2dc"/>
<rect x="183.90" y="283.30" width="11.05" height="13.65" fill="#da5040"/>
<rect x="194.95" y="283.30" width="11.05" height="13.65" fill="#f0f2dc"/>
<rect x="206.00" y="283.30" width="11.05" height="13.65" fill="#f0f2dc"/>
<rect x="217.05" y="283.30" width="11.05" height="13.65" fill="#f0f2dc"/>
<rect x="228.10" y="283.30" width="11.05" height="13.65" fill="#f0f2dc"/>
<rect x="239.15" y="283.30" width="11.05" height="13.65" fill="#f0f2dc"/>
<rect x="250.20" y="283.30" width="11.05" height="13.65" fill="#f0f2dc"/>
<rect x="51.30" y="296.95" width="11.05" height="13.65" fill="#f0a064"/>
<rect x="62.35" y="296.95" width="11.05" height="13.65" fill="#f0a064"/>
<rect x="73.40" y="296.95" width="11.05" height="13.65" fill="#f0f2dc"/>
<rect x="84.45" y="296.95" width="11.05" height="13.65" fill="#f0f2dc"/>
<rect x="95.50" y="296.95" width="11.05" height="13.65" fill="#f0f2dc"/>
<rect x="106.55" y="296.95" width="11.05" height="13.65" fill="#f0f2dc"/>
<rect x="117.60" y="296.95" width="11.05" height="13.65" fill="#f0f2dc"/>
<rect x="128.65" y="296.95" width="11.05" height="13.65" fill="#f0f2dc"/>
<rect x="139.70" y="296.95" width="11.05" height="13.65" fill="#f6f0c4"/>
<rect x="150.75" y="296.95" width="11.05" height="13.65" fill="#f0f2dc"/>
<rect x="161.80" y="296.95" width="11.05" height="13.65" fill="#f0f2dc"/>
<rect x="172.85" y="296.95" width="11.05" height="13.65" fill="#f0f2dc"/>
<rect x="183.90" y="296.95" width="11.05" height="13.65" fill="#f0f2dc"/>
<rect x="194.95" y="296.95" width="11.05" height="13.65" fill="#f0f2dc"/>
<rect x="206.00" y="296.95" width="11.05" height="13.65" fill="#f0f2dc"/>
<rect x="217.05" y="296.95" width="11.05" height="13.65" fill="#f0f2dc"/>
<rect x="228.10" y="296.95" width="11.05" height="13.65" fill="#f0f2dc"/>
<rect x="239.15" y="296.95" width="11.05" height="13.65" fill="#f0f2dc"/>
<rect x="250.20" y="296.95" width="11.05" height="13.65" fill="#f0f2dc"/>
<rect x="51.30" y="310.60" width="11.05" height="13.65" fill="#f4f2cc"/>
<rect x="62.35" y="310.60" width="11.05" height="13.65" fill="#f0a064"/>
<rect x="73.40" y="310.60" width="11.05" height="13.65" fill="#f4f2cc"/>
<rect x="84.45" y="310.60" width="11.05" height="13.65" fill="#e9edeb"/>
<rect x="95.50" y="310.60" width="11.05" height="13.65" fill="#f4f2cc"/>
<rect x="106.55" y="310.60" width="11.05" height="13.65" fill="#e0eaf0"/>
<rect x="117.60" y="310.60" width="11.05" height="13.65" fill="#eef0e6"/>
<rect x="128.65" y="310.60" width="11.05" height="13.65" fill="#f6f0c4"/>
<rect x="139.70" y="310.60" width="11.05" height="13.65" fill="#f8e6ac"/>
<rect x="150.75" y="310.60" width="11.05" height="13.65" fill="#f8e6ac"/>
<rect x="161.80" y="310.60" width="11.05" height="13.65" fill="#e6ecee"/>
<rect x="172.85" y="310.60" width="11.05" height="13.65" fill="#f4f2cc"/>
<rect x="183.90" y="310.60" width="11.05" height="13.65" fill="#e6ecee"/>
<rect x="194.95" y="310.60" width="11.05" height="13.65" fill="#f4f2cc"/>
<rect x="206.00" y="310.60" width="11.05" height="13.65" fill="#f4f2cc"/>
<rect x="217.05" y="310.60" width="11.05" height="13.65" fill="#eef0e6"/>
<rect x="228.10" y="310.60" width="11.05" height="13.65" fill="#f6d094"/>
<rect x="239.15" y="310.60" width="11.05" height="13.65" fill="#f4f2cc"/>
<rect x="250.20" y="310.60" width="11.05" height="13.65" fill="#f0f2dc"/>
<rect x="51.30" y="324.25" width="11.05" height="13.65" fill="#f0f2dc"/>
<rect x="62.35" y="324.25" width="11.05" height="13.65" fill="#f0f2dc"/>
<rect x="73.40" y="324.25" width="11.05" height="13.65" fill="#f0f2dc"/>
<rect x="84.45" y="324.25" width="11.05" height="13.65" fill="#f0f2dc"/>
<rect x="95.50" y="324.25" width="11.05" height="13.65" fill="#f0f2dc"/>
<rect x="106.55" y="324.25" width="11.05" height="13.65" fill="#f0f2dc"/>
<rect x="117.60" y="324.25" width="11.05" height="13.65" fill="#f0f2dc"/>
<rect x="128.65" y="324.25" width="11.05" height="13.65" fill="#f0f2dc"/>
<rect x="139.70" y="324.25" width="11.05" height="13.65" fill="#f0f2dc"/>
<rect x="150.75" y="324.25" width="11.05" height="13.65" fill="#f0f2dc"/>
<rect x="161.80" y="324.25" width="11.05" height="13.65" fill="#f0f2dc"/>
<rect x="172.85" y="324.25" width="11.05" height="13.65" fill="#f0a064"/>
<rect x="183.90" y="324.25" width="11.05" height="13.65" fill="#f6f0c4"/>
<rect x="194.95" y="324.25" width="11.05" height="13.65" fill="#f4c088"/>
<rect x="206.00" y="324.25" width="11.05" height="13.65" fill="#f4c088"/>
<rect x="217.05" y="324.25" width="11.05" height="13.65" fill="#f6f0c4"/>
<rect x="228.10" y="324.25" width="11.05" height="13.65" fill="#f0f2dc"/>
<rect x="239.15" y="324.25" width="11.05" height="13.65" fill="#f4f2cc"/>
<rect x="250.20" y="324.25" width="11.05" height="13.65" fill="#f0f2dc"/>
<rect x="51.30" y="337.90" width="11.05" height="13.65" fill="#eef0e6"/>
<rect x="62.35" y="337.90" width="11.05" height="13.65" fill="#eef0e6"/>
<rect x="73.40" y="337.90" width="11.05" height="13.65" fill="#eef0e6"/>
<rect x="84.45" y="337.90" width="11.05" height="13.65" fill="#eef0e6"/>
<rect x="95.50" y="337.90" width="11.05" height="13.65" fill="#f0f2dc"/>
<rect x="106.55" y="337.90" width="11.05" height="13.65" fill="#eef0e6"/>
<rect x="117.60" y="337.90" width="11.05" height="13.65" fill="#f0f2dc"/>
<rect x="128.65" y="337.90" width="11.05" height="13.65" fill="#f6f0c4"/>
<rect x="139.70" y="337.90" width="11.05" height="13.65" fill="#f0f2dc"/>
<rect x="150.75" y="337.90" width="11.05" height="13.65" fill="#f6f0c4"/>
<rect x="161.80" y="337.90" width="11.05" height="13.65" fill="#f6f0c4"/>
<rect x="172.85" y="337.90" width="11.05" height="13.65" fill="#f8dca0"/>
<rect x="183.90" y="337.90" width="11.05" height="13.65" fill="#f4c088"/>
<rect x="194.95" y="337.90" width="11.05" height="13.65" fill="#f0a064"/>
<rect x="206.00" y="337.90" width="11.05" height="13.65" fill="#f8e6ac"/>
<rect x="217.05" y="337.90" width="11.05" height="13.65" fill="#eef0e6"/>
<rect x="228.10" y="337.90" width="11.05" height="13.65" fill="#eef0e6"/>
<rect x="239.15" y="337.90" width="11.05" height="13.65" fill="#f0f2dc"/>
<rect x="250.20" y="337.90" width="11.05" height="13.65" fill="#f0f2dc"/>
<rect x="51.30" y="351.55" width="11.05" height="13.65" fill="#f0f2dc"/>
<rect x="62.35" y="351.55" width="11.05" height="13.65" fill="#f0f2dc"/>
<rect x="73.40" y="351.55" width="11.05" height="13.65" fill="#f0f2dc"/>
<rect x="84.45" y="351.55" width="11.05" height="13.65" fill="#f0f2dc"/>
<rect x="95.50" y="351.55" width="11.05" height="13.65" fill="#f6f0c4"/>
<rect x="106.55" y="351.55" width="11.05" height="13.65" fill="#f6f0c4"/>
<rect x="117.60" y="351.55" width="11.05" height="13.65" fill="#da5040"/>
<rect x="128.65" y="351.55" width="11.05" height="13.65" fill="#f0f2dc"/>
<rect x="139.70" y="351.55" width="11.05" height="13.65" fill="#f0f2dc"/>
<rect x="150.75" y="351.55" width="11.05" height="13.65" fill="#f0f2dc"/>
<rect x="161.80" y="351.55" width="11.05" height="13.65" fill="#f0f2dc"/>
<rect x="172.85" y="351.55" width="11.05" height="13.65" fill="#f0f2dc"/>
<rect x="183.90" y="351.55" width="11.05" height="13.65" fill="#f0f2dc"/>
<rect x="194.95" y="351.55" width="11.05" height="13.65" fill="#f0f2dc"/>
<rect x="206.00" y="351.55" width="11.05" height="13.65" fill="#f0f2dc"/>
<rect x="217.05" y="351.55" width="11.05" height="13.65" fill="#f6f0c4"/>
<rect x="228.10" y="351.55" width="11.05" height="13.65" fill="#f6f0c4"/>
<rect x="239.15" y="351.55" width="11.05" height="13.65" fill="#f0f2dc"/>
<rect x="250.20" y="351.55" width="11.05" height="13.65" fill="#f0f2dc"/>
<rect x="51.30" y="365.20" width="11.05" height="13.65" fill="#f8e6ac"/>
<rect x="62.35" y="365.20" width="11.05" height="13.65" fill="#f4f2cc"/>
<rect x="73.40" y="365.20" width="11.05" height="13.65" fill="#f4c088"/>
<rect x="84.45" y="365.20" width="11.05" height="13.65" fill="#f4f2cc"/>
<rect x="95.50" y="365.20" width="11.05" height="13.65" fill="#f0f2dc"/>
<rect x="106.55" y="365.20" width="11.05" height="13.65" fill="#e4704a"/>
<rect x="117.60" y="365.20" width="11.05" height="13.65" fill="#f0f2dc"/>
<rect x="128.65" y="365.20" width="11.05" height="13.65" fill="#f0f2dc"/>
<rect x="139.70" y="365.20" width="11.05" height="13.65" fill="#f0f2dc"/>
<rect x="150.75" y="365.20" width="11.05" height="13.65" fill="#f0f2dc"/>
<rect x="161.80" y="365.20" width="11.05" height="13.65" fill="#f0f2dc"/>
<rect x="172.85" y="365.20" width="11.05" height="13.65" fill="#f4f2cc"/>
<rect x="183.90" y="365.20" width="11.05" height="13.65" fill="#f0f2dc"/>
<rect x="194.95" y="365.20" width="11.05" height="13.65" fill="#f4f2cc"/>
<rect x="206.00" y="365.20" width="11.05" height="13.65" fill="#f4f2cc"/>
<rect x="217.05" y="365.20" width="11.05" height="13.65" fill="#f4f2cc"/>
<rect x="228.10" y="365.20" width="11.05" height="13.65" fill="#f0f2dc"/>
<rect x="239.15" y="365.20" width="11.05" height="13.65" fill="#f0f2dc"/>
<rect x="250.20" y="365.20" width="11.05" height="13.65" fill="#f0f2dc"/>
<rect x="51.30" y="378.85" width="11.05" height="13.65" fill="#f4f2cc"/>
<rect x="62.35" y="378.85" width="11.05" height="13.65" fill="#eef0e6"/>
<rect x="73.40" y="378.85" width="11.05" height="13.65" fill="#f2b078"/>
<rect x="84.45" y="378.85" width="11.05" height="13.65" fill="#f6f0c4"/>
<rect x="95.50" y="378.85" width="11.05" height="13.65" fill="#f0f2dc"/>
<rect x="106.55" y="378.85" width="11.05" height="13.65" fill="#f8e6ac"/>
<rect x="117.60" y="378.85" width="11.05" height="13.65" fill="#f0f2dc"/>
<rect x="128.65" y="378.85" width="11.05" height="13.65" fill="#eef0e6"/>
<rect x="139.70" y="378.85" width="11.05" height="13.65" fill="#f0f2dc"/>
<rect x="150.75" y="378.85" width="11.05" height="13.65" fill="#f0f2dc"/>
<rect x="161.80" y="378.85" width="11.05" height="13.65" fill="#eef0e6"/>
<rect x="172.85" y="378.85" width="11.05" height="13.65" fill="#f4f2cc"/>
<rect x="183.90" y="378.85" width="11.05" height="13.65" fill="#eef0e6"/>
<rect x="194.95" y="378.85" width="11.05" height="13.65" fill="#f4f2cc"/>
<rect x="206.00" y="378.85" width="11.05" height="13.65" fill="#eef0e6"/>
<rect x="217.05" y="378.85" width="11.05" height="13.65" fill="#f4f2cc"/>
<rect x="228.10" y="378.85" width="11.05" height="13.65" fill="#f0f2dc"/>
<rect x="239.15" y="378.85" width="11.05" height="13.65" fill="#f0a064"/>
<rect x="250.20" y="378.85" width="11.05" height="13.65" fill="#f4f2cc"/>
<rect x="51.30" y="392.50" width="11.05" height="13.65" fill="#f8dca0"/>
<rect x="62.35" y="392.50" width="11.05" height="13.65" fill="#f0f2dc"/>
<rect x="73.40" y="392.50" width="11.05" height="13.65" fill="#f0a064"/>
<rect x="84.45" y="392.50" width="11.05" height="13.65" fill="#f0a064"/>
<rect x="95.50" y="392.50" width="11.05" height="13.65" fill="#f0f2dc"/>
<rect x="106.55" y="392.50" width="11.05" height="13.65" fill="#f0f2dc"/>
<rect x="117.60" y="392.50" width="11.05" height="13.65" fill="#f0f2dc"/>
<rect x="128.65" y="392.50" width="11.05" height="13.65" fill="#f0f2dc"/>
<rect x="139.70" y="392.50" width="11.05" height="13.65" fill="#f0f2dc"/>
<rect x="150.75" y="392.50" width="11.05" height="13.65" fill="#f0f2dc"/>
<rect x="161.80" y="392.50" width="11.05" height="13.65" fill="#f0f2dc"/>
<rect x="172.85" y="392.50" width="11.05" height="13.65" fill="#f0f2dc"/>
<rect x="183.90" y="392.50" width="11.05" height="13.65" fill="#f0f2dc"/>
<rect x="194.95" y="392.50" width="11.05" height="13.65" fill="#f0f2dc"/>
<rect x="206.00" y="392.50" width="11.05" height="13.65" fill="#f0f2dc"/>
<rect x="217.05" y="392.50" width="11.05" height="13.65" fill="#f0f2dc"/>
<rect x="228.10" y="392.50" width="11.05" height="13.65" fill="#f0f2dc"/>
<rect x="239.15" y="392.50" width="11.05" height="13.65" fill="#f4f2cc"/>
<rect x="250.20" y="392.50" width="11.05" height="13.65" fill="#f0f2dc"/>
<rect x="51.30" y="406.15" width="11.05" height="13.65" fill="#f8e6ac"/>
<rect x="62.35" y="406.15" width="11.05" height="13.65" fill="#f0f2dc"/>
<rect x="73.40" y="406.15" width="11.05" height="13.65" fill="#da5040"/>
<rect x="84.45" y="406.15" width="11.05" height="13.65" fill="#f8e6ac"/>
<rect x="95.50" y="406.15" width="11.05" height="13.65" fill="#f0f2dc"/>
<rect x="106.55" y="406.15" width="11.05" height="13.65" fill="#f0f2dc"/>
<rect x="117.60" y="406.15" width="11.05" height="13.65" fill="#f0f2dc"/>
<rect x="128.65" y="406.15" width="11.05" height="13.65" fill="#f0f2dc"/>
<rect x="139.70" y="406.15" width="11.05" height="13.65" fill="#f0f2dc"/>
<rect x="150.75" y="406.15" width="11.05" height="13.65" fill="#f0f2dc"/>
<rect x="161.80" y="406.15" width="11.05" height="13.65" fill="#f0f2dc"/>
<rect x="172.85" y="406.15" width="11.05" height="13.65" fill="#f4f2cc"/>
<rect x="183.90" y="406.15" width="11.05" height="13.65" fill="#f0f2dc"/>
<rect x="194.95" y="406.15" width="11.05" height="13.65" fill="#f0f2dc"/>
<rect x="206.00" y="406.15" width="11.05" height="13.65" fill="#f0f2dc"/>
<rect x="217.05" y="406.15" width="11.05" height="13.65" fill="#f0f2dc"/>
<rect x="228.10" y="406.15" width="11.05" height="13.65" fill="#f0f2dc"/>
<rect x="239.15" y="406.15" width="11.05" height="13.65" fill="#f0f2dc"/>
<rect x="250.20" y="406.15" width="11.05" height="13.65" fill="#f0f2dc"/>
<rect x="51.30" y="419.80" width="11.05" height="13.65" fill="#f8e6ac"/>
<rect x="62.35" y="419.80" width="11.05" height="13.65" fill="#f8dca0"/>
<rect x="73.40" y="419.80" width="11.05" height="13.65" fill="#da5040"/>
<rect x="84.45" y="419.80" width="11.05" height="13.65" fill="#f8e6ac"/>
<rect x="95.50" y="419.80" width="11.05" height="13.65" fill="#f0f2dc"/>
<rect x="106.55" y="419.80" width="11.05" height="13.65" fill="#f0f2dc"/>
<rect x="117.60" y="419.80" width="11.05" height="13.65" fill="#f0f2dc"/>
<rect x="128.65" y="419.80" width="11.05" height="13.65" fill="#f0f2dc"/>
<rect x="139.70" y="419.80" width="11.05" height="13.65" fill="#f0f2dc"/>
<rect x="150.75" y="419.80" width="11.05" height="13.65" fill="#f0f2dc"/>
<rect x="161.80" y="419.80" width="11.05" height="13.65" fill="#f0f2dc"/>
<rect x="172.85" y="419.80" width="11.05" height="13.65" fill="#f0f2dc"/>
<rect x="183.90" y="419.80" width="11.05" height="13.65" fill="#f0f2dc"/>
<rect x="194.95" y="419.80" width="11.05" height="13.65" fill="#f0f2dc"/>
<rect x="206.00" y="419.80" width="11.05" height="13.65" fill="#f0f2dc"/>
<rect x="217.05" y="419.80" width="11.05" height="13.65" fill="#f0f2dc"/>
<rect x="228.10" y="419.80" width="11.05" height="13.65" fill="#f0f2dc"/>
<rect x="239.15" y="419.80" width="11.05" height="13.65" fill="#f0f2dc"/>
<rect x="250.20" y="419.80" width="11.05" height="13.65" fill="#f0f2dc"/>
<line x1="51.30" y1="228.70" x2="51.30" y2="433.45" stroke="#b9b9b9" stroke-width="0.8"/>
<line x1="62.35" y1="228.70" x2="62.35" y2="433.45" stroke="#b9b9b9" stroke-width="0.8"/>
<line x1="73.40" y1="228.70" x2="73.40" y2="433.45" stroke="#b9b9b9" stroke-width="0.8"/>
<line x1="84.45" y1="228.70" x2="84.45" y2="433.45" stroke="#b9b9b9" stroke-width="0.8"/>
<line x1="95.50" y1="228.70" x2="95.50" y2="433.45" stroke="#b9b9b9" stroke-width="0.8"/>
<line x1="106.55" y1="228.70" x2="106.55" y2="433.45" stroke="#b9b9b9" stroke-width="0.8"/>
<line x1="117.60" y1="228.70" x2="117.60" y2="433.45" stroke="#b9b9b9" stroke-width="0.8"/>
<line x1="128.65" y1="228.70" x2="128.65" y2="433.45" stroke="#b9b9b9" stroke-width="0.8"/>
<line x1="139.70" y1="228.70" x2="139.70" y2="433.45" stroke="#b9b9b9" stroke-width="0.8"/>
<line x1="150.75" y1="228.70" x2="150.75" y2="433.45" stroke="#b9b9b9" stroke-width="0.8"/>
<line x1="161.80" y1="228.70" x2="161.80" y2="433.45" stroke="#b9b9b9" stroke-width="0.8"/>
<line x1="172.85" y1="228.70" x2="172.85" y2="433.45" stroke="#b9b9b9" stroke-width="0.8"/>
<line x1="183.90" y1="228.70" x2="183.90" y2="433.45" stroke="#b9b9b9" stroke-width="0.8"/>
<line x1="194.95" y1="228.70" x2="194.95" y2="433.45" stroke="#b9b9b9" stroke-width="0.8"/>
<line x1="206.00" y1="228.70" x2="206.00" y2="433.45" stroke="#b9b9b9" stroke-width="0.8"/>
<line x1="217.05" y1="228.70" x2="217.05" y2="433.45" stroke="#b9b9b9" stroke-width="0.8"/>
<line x1="228.10" y1="228.70" x2="228.10" y2="433.45" stroke="#b9b9b9" stroke-width="0.8"/>
<line x1="239.15" y1="228.70" x2="239.15" y2="433.45" stroke="#b9b9b9" stroke-width="0.8"/>
<line x1="250.20" y1="228.70" x2="250.20" y2="433.45" stroke="#b9b9b9" stroke-width="0.8"/>
<line x1="261.25" y1="228.70" x2="261.25" y2="433.45" stroke="#b9b9b9" stroke-width="0.8"/>
<line x1="51.30" y1="228.70" x2="261.25" y2="228.70" stroke="#b9b9b9" stroke-width="0.8"/>
<line x1="51.30" y1="242.35" x2="261.25" y2="242.35" stroke="#b9b9b9" stroke-width="0.8"/>
<line x1="51.30" y1="256.00" x2="261.25" y2="256.00" stroke="#b9b9b9" stroke-width="0.8"/>
<line x1="51.30" y1="269.65" x2="261.25" y2="269.65" stroke="#b9b9b9" stroke-width="0.8"/>
<line x1="51.30" y1="283.30" x2="261.25" y2="283.30" stroke="#b9b9b9" stroke-width="0.8"/>
<line x1="51.30" y1="296.95" x2="261.25" y2="296.95" stroke="#b9b9b9" stroke-width="0.8"/>
<line x1="51.30" y1="310.60" x2="261.25" y2="310.60" stroke="#b9b9b9" stroke-width="0.8"/>
<line x1="51.30" y1="324.25" x2="261.25" y2="324.25" stroke="#b9b9b9" stroke-width="0.8"/>
<line x1="51.30" y1="337.90" x2="261.25" y2="337.90" stroke="#b9b9b9" stroke-width="0.8"/>
<line x1="51.30" y1="351.55" x2="261.25" y2="351.55" stroke="#b9b9b9" stroke-width="0.8"/>
<line x1="51.30" y1="365.20" x2="261.25" y2="365.20" stroke="#b9b9b9" stroke-width="0.8"/>
<line x1="51.30" y1="378.85" x2="261.25" y2="378.85" stroke="#b9b9b9" stroke-width="0.8"/>
<line x1="51.30" y1="392.50" x2="261.25" y2="392.50" stroke="#b9b9b9" stroke-width="0.8"/>
<line x1="51.30" y1="406.15" x2="261.25" y2="406.15" stroke="#b9b9b9" stroke-width="0.8"/>
<line x1="51.30" y1="419.80" x2="261.25" y2="419.80" stroke="#b9b9b9" stroke-width="0.8"/>
<line x1="51.30" y1="433.45" x2="261.25" y2="433.45" stroke="#b9b9b9" stroke-width="0.8"/>
<path d="M42.00 262.82L51.30 262.82 M42.00 276.47L51.30 276.47 M42.00 262.82L42.00 276.47 M32.50 249.17L51.30 249.17 M32.50 269.65L42.00 269.65 M32.50 249.17L32.50 269.65 M25.40 235.52L51.30 235.52 M25.40 259.41L32.50 259.41 M25.40 235.52L25.40 259.41 M33.50 303.77L51.30 303.77 M33.50 317.43L51.30 317.43 M33.50 303.77L33.50 317.43 M24.90 290.12L51.30 290.12 M24.90 310.60L33.50 310.60 M24.90 290.12L24.90 310.60 M20.70 247.47L25.40 247.47 M20.70 300.36L24.90 300.36 M20.70 247.47L20.70 300.36 M38.90 331.07L51.30 331.07 M38.90 344.73L51.30 344.73 M38.90 331.07L38.90 344.73 M44.40 412.98L51.30 412.98 M44.40 426.62L51.30 426.62 M44.40 412.98L44.40 426.62 M38.00 399.32L51.30 399.32 M38.00 419.80L44.40 419.80 M38.00 399.32L38.00 419.80 M32.50 385.67L51.30 385.67 M32.50 409.56L38.00 409.56 M32.50 385.67L32.50 409.56 M28.80 372.02L51.30 372.02 M28.80 397.62L32.50 397.62 M28.80 372.02L28.80 397.62 M22.80 358.38L51.30 358.38 M22.80 384.82L28.80 384.82 M22.80 358.38L22.80 384.82 M21.70 337.90L38.90 337.90 M21.70 371.60L22.80 371.60 M21.70 337.90L21.70 371.60 M19.50 273.92L20.70 273.92 M19.50 354.75L21.70 354.75 M19.50 273.92L19.50 354.75" stroke="#333" stroke-width="0.75" fill="none"/>
<defs><linearGradient id="lg" x1="0" y1="1" x2="0" y2="0"><stop offset="0" stop-color="#4a7fbf"/><stop offset="0.17" stop-color="#94c2e0"/><stop offset="0.35" stop-color="#e2f0f4"/><stop offset="0.5" stop-color="#fdfcc4"/><stop offset="0.67" stop-color="#fbe194"/><stop offset="0.83" stop-color="#f39258"/><stop offset="1" stop-color="#d44a3c"/></linearGradient></defs>
<rect x="298" y="229" width="6.7" height="72.6" fill="url(#lg)"/>
<path d="M69.8 223.5 L69.6 216 L69.3 208" stroke="#b3c35a" stroke-width="1.9" fill="none" stroke-linecap="round"/>
<path d="M59.3 193 C62.5 194.5 66 198 68.5 202.5 C69.8 205 70.3 207.5 70.2 210 C68.8 209 67.2 206.5 65.5 203.5 C63 199.5 60.8 196 59.3 193Z" fill="#bfce68"/>
<path d="M74.2 195.2 C73.8 198.5 73.2 202 72 205 C71.4 206.8 70.8 208 70.4 209 C70 206 70.4 202.5 71.5 199.5 C72.3 197.5 73.2 196 74.2 195.2Z" fill="#b4c55c"/>
<path d="M88.6 194 C82 196 77 200 74.5 205 C72.5 209 71 213 70.8 216.5 C75 213 80 208 83.5 203 C86 199.5 87.5 197 88.6 194Z" fill="#a9c160"/>
<path d="M87 195.5 C81 201 76 208 71.5 215" stroke="#cadb92" stroke-width="0.45" fill="none"/>
<path d="M112.2 188 C113.5 187.6 115 187.8 115.4 188.6 C114.8 191 114.2 193 113.8 196 L112.8 196 C112.8 193 112.6 190 112.2 188Z" fill="#e6e0b8"/>
<path d="M111.4 219 L111.2 224" stroke="#d8d09a" stroke-width="1" fill="none"/>
<path d="M106.4 202 C104 204.5 101.5 207.5 101.2 210.5 C101 213 101.6 214.8 102.6 215.3 C105 216.5 107.5 216.8 109.2 217.2 C110.2 218.6 110.8 220.5 111.6 222 C114 221.4 116.2 219.8 117.7 218 C119.8 216.2 121.6 214.4 122.5 212.4 C123.8 210.4 124.4 208.6 124.4 206.7 C124.6 205.4 124.3 204 123.9 203 C121 200 116 199 111.5 199.5 C109.5 200 107.8 201 106.4 202Z" fill="#e9ebe6"/>
<path d="M101.2 210.5 C101 213 101.6 214.8 102.6 215.3 C105 216.5 107.5 216.8 109.2 217.2 C110.2 218.6 110.8 220.5 111.6 222 C112.6 221.8 113.4 221.2 114 220.6 C111.5 218 109 216 105.5 214.5 C103.5 213.5 102.2 212 101.8 209.5Z" fill="#a4a8a0"/>
<path d="M110.2 203.5 C113.5 202.5 118 202.2 123.2 203.2 C123.8 206.5 123.6 210 122.6 212.4 C120 214.4 117 215.4 114 215.5 C111.8 214.2 110.6 212 110.2 209.6 C110 207.5 110 205.5 110.2 203.5Z" fill="#f0dc6a"/>
<path d="M111.5 205 C114 204.2 117.5 204 120.5 204.6 C119 207 116 209.5 112 210.5Z" fill="#f5e896"/>
<path d="M111.6 193.5 C113.5 193 115 193 116.8 193 C119.5 193.5 122 194.3 123.4 195.4 C124.4 196.2 124.9 197.2 124.9 198.2 C124.8 200 124.4 201.6 123.9 203 C122.5 202 121.5 201.5 120.6 201 C119.4 200.6 118 200.2 116.8 200 C115.5 199.8 114.2 199.5 113 199.2 C112 197.5 111.6 195.5 111.6 193.5Z" fill="#f7f7f5" stroke="#c9ccc5" stroke-width="0.35"/>
<path d="M155.9 190.6 C159 194 161 199 160.8 205 C160.5 212 156 218 152.9 221.5 C149 216 146.8 210 147.1 204 C147.5 198 152 193 155.9 190.6Z" fill="#86b29c"/>
<path d="M155.5 192.5 C158 197 159 202 158.5 207 C157 213 154.5 217 153 220 C150.5 215 149.3 210 149.5 205 C150 199 153 195 155.5 192.5Z" fill="#a9cbbd"/>
<path d="M155.5 191.5 C154.5 200 153.5 212 152.9 223.5" stroke="#7aa88a" stroke-width="0.6" fill="none"/>
<path d="M189 188 L190.2 198 L190.6 204 L189.5 214 L189.8 223.4" stroke="#b6bf58" stroke-width="2" fill="none"/>
<path d="M199.6 188 L200.6 200 L201.2 210 L201 223.4" stroke="#b6bf58" stroke-width="2" fill="none"/>
<path d="M239.7 195.7 Q242.3 207.1 240.6 222.3" stroke="#d8dde1" stroke-width="0.65" fill="none"/>
<path d="M237.5 192.3 Q229.0 196.6 221.9 198.1" stroke="#d8dde1" stroke-width="0.54" fill="none"/>
<path d="M239.4 192.1 Q238.1 205.3 234.2 221.2" stroke="#a9b4c0" stroke-width="0.36" fill="none"/>
<path d="M239.7 192.6 Q242.1 198.5 240.9 206.6" stroke="#c5ccd3" stroke-width="0.73" fill="none"/>
<path d="M237.0 192.8 Q232.5 205.1 226.8 219.9" stroke="#e3e6e8" stroke-width="0.39" fill="none"/>
<path d="M241.8 193.9 Q241.4 202.8 241.9 208.3" stroke="#909ca9" stroke-width="0.33" fill="none"/>
<path d="M237.8 195.0 Q240.5 205.4 245.2 213.3" stroke="#d8dde1" stroke-width="0.61" fill="none"/>
<path d="M237.1 194.4 Q233.9 204.4 233.1 210.9" stroke="#e3e6e8" stroke-width="0.46" fill="none"/>
<path d="M238.4 194.7 Q230.1 207.2 222.3 218.0" stroke="#b6c0ca" stroke-width="0.73" fill="none"/>
<path d="M237.2 195.8 Q238.6 209.5 235.7 224.5" stroke="#909ca9" stroke-width="0.70" fill="none"/>
<path d="M237.5 194.3 Q228.8 200.6 222.1 207.4" stroke="#a9b4c0" stroke-width="0.39" fill="none"/>
<path d="M239.1 193.8 Q233.0 201.2 229.2 207.1" stroke="#a9b4c0" stroke-width="0.44" fill="none"/>
<path d="M237.9 192.9 Q239.9 204.4 236.9 218.6" stroke="#a9b4c0" stroke-width="0.34" fill="none"/>
<path d="M239.6 196.6 Q239.8 203.2 237.6 211.0" stroke="#909ca9" stroke-width="0.51" fill="none"/>
<path d="M238.5 192.3 Q238.5 201.9 235.0 214.4" stroke="#e3e6e8" stroke-width="0.55" fill="none"/>
<path d="M236.8 196.5 Q232.0 206.0 230.5 216.5" stroke="#a9b4c0" stroke-width="0.68" fill="none"/>
<path d="M237.8 194.3 Q244.7 207.1 252.0 220.0" stroke="#e3e6e8" stroke-width="0.44" fill="none"/>
<path d="M237.6 194.4 Q232.0 209.8 230.3 222.7" stroke="#b6c0ca" stroke-width="0.73" fill="none"/>
<path d="M239.8 194.5 Q238.0 204.7 233.4 212.0" stroke="#909ca9" stroke-width="0.33" fill="none"/>
<path d="M240.8 193.8 Q237.3 204.9 238.5 217.7" stroke="#b6c0ca" stroke-width="0.62" fill="none"/>
<path d="M237.7 194.4 Q238.3 204.4 234.5 213.1" stroke="#b6c0ca" stroke-width="0.68" fill="none"/>
<path d="M238.8 195.9 Q230.1 201.2 223.7 208.2" stroke="#b6c0ca" stroke-width="0.59" fill="none"/>
<path d="M240.8 193.7 Q231.3 206.1 223.3 215.7" stroke="#e3e6e8" stroke-width="0.50" fill="none"/>
<path d="M238.2 193.7 Q234.8 198.2 226.5 205.2" stroke="#909ca9" stroke-width="0.72" fill="none"/>
<path d="M238.9 195.5 Q237.1 203.6 232.6 211.2" stroke="#e3e6e8" stroke-width="0.72" fill="none"/>
<path d="M237.8 194.8 Q227.3 205.5 219.0 212.2" stroke="#c5ccd3" stroke-width="0.37" fill="none"/>
<path d="M238.6 195.3 Q234.8 207.4 235.5 219.8" stroke="#c5ccd3" stroke-width="0.37" fill="none"/>
<path d="M241.4 192.6 Q246.6 206.9 252.0 220.9" stroke="#d8dde1" stroke-width="0.51" fill="none"/>
<path d="M238.3 195.1 Q228.6 207.5 223.9 220.7" stroke="#909ca9" stroke-width="0.69" fill="none"/>
<path d="M241.2 195.4 Q238.8 206.3 231.8 216.8" stroke="#909ca9" stroke-width="0.34" fill="none"/>
<path d="M239.3 193.7 Q228.7 200.3 219.0 204.5" stroke="#e3e6e8" stroke-width="0.54" fill="none"/>
<path d="M238.8 192.8 Q231.6 199.0 224.6 207.6" stroke="#c5ccd3" stroke-width="0.57" fill="none"/>
<path d="M238.1 196.5 Q238.1 206.8 236.9 220.1" stroke="#e3e6e8" stroke-width="0.69" fill="none"/>
<path d="M239.4 194.1 Q235.6 208.9 231.8 223.8" stroke="#e3e6e8" stroke-width="0.47" fill="none"/>
<path d="M241.8 196.6 Q234.1 209.6 226.6 223.2" stroke="#909ca9" stroke-width="0.73" fill="none"/>
<path d="M237.8 196.6 Q232.0 204.7 230.9 211.6" stroke="#d8dde1" stroke-width="0.41" fill="none"/>
<path d="M236.2 192.7 Q228.1 202.1 222.5 211.8" stroke="#a9b4c0" stroke-width="0.41" fill="none"/>
<path d="M237.6 192.8 Q237.4 208.6 239.2 223.5" stroke="#d8dde1" stroke-width="0.53" fill="none"/>
<path d="M241.2 196.4 Q238.6 205.2 238.1 212.3" stroke="#b6c0ca" stroke-width="0.43" fill="none"/>
<path d="M239.2 194.3 Q237.5 204.3 233.3 213.6" stroke="#a9b4c0" stroke-width="0.30" fill="none"/>
<path d="M239.3 195.4 Q241.1 205.0 243.6 212.1" stroke="#b6c0ca" stroke-width="0.56" fill="none"/>
<path d="M240.2 195.2 Q244.0 205.7 243.6 217.1" stroke="#d8dde1" stroke-width="0.61" fill="none"/>
<path d="M240.3 196.5 Q230.1 203.3 224.8 207.8" stroke="#b6c0ca" stroke-width="0.43" fill="none"/>
<path d="M240.7 196.6 Q239.8 204.9 239.1 212.9" stroke="#d8dde1" stroke-width="0.74" fill="none"/>
<path d="M239.2 194.1 Q233.2 204.8 229.5 218.7" stroke="#a9b4c0" stroke-width="0.60" fill="none"/>
<path d="M236.2 195.6 Q234.4 210.9 227.6 224.5" stroke="#a9b4c0" stroke-width="0.36" fill="none"/>
<path d="M236.7 195.1 Q236.9 210.3 232.1 223.9" stroke="#d8dde1" stroke-width="0.37" fill="none"/>
<path d="M239.7 194.1 Q236.8 199.8 232.7 209.3" stroke="#a9b4c0" stroke-width="0.60" fill="none"/>
<path d="M240.5 193.4 Q236.7 200.8 231.6 212.2" stroke="#a9b4c0" stroke-width="0.44" fill="none"/>
<path d="M239.6 194.4 Q234.0 206.8 229.6 222.7" stroke="#e3e6e8" stroke-width="0.43" fill="none"/>
<path d="M239.4 195.4 Q232.4 203.9 228.2 215.9" stroke="#c5ccd3" stroke-width="0.41" fill="none"/>
<path d="M240.5 194.6 Q244.5 200.2 251.2 206.8" stroke="#e3e6e8" stroke-width="0.48" fill="none"/>
<path d="M236.8 192.1 Q234.8 198.4 229.2 204.6" stroke="#d8dde1" stroke-width="0.41" fill="none"/>
<path d="M241.3 194.4 Q244.8 202.1 245.3 213.5" stroke="#e3e6e8" stroke-width="0.47" fill="none"/>
<path d="M241.1 196.7 Q228.3 206.4 219.7 212.8" stroke="#d8dde1" stroke-width="0.67" fill="none"/>
<path d="M236.8 195.1 Q236.2 204.4 238.3 215.1" stroke="#b6c0ca" stroke-width="0.62" fill="none"/>
<path d="M240.8 193.9 Q238.5 204.8 234.8 212.0" stroke="#909ca9" stroke-width="0.53" fill="none"/>
<path d="M239.6 194.9 Q231.1 203.9 223.7 216.2" stroke="#a9b4c0" stroke-width="0.38" fill="none"/>
<path d="M237.2 194.5 Q239.9 203.1 243.4 213.4" stroke="#b6c0ca" stroke-width="0.71" fill="none"/>
<path d="M237.9 194.3 Q234.7 200.2 229.9 209.6" stroke="#d8dde1" stroke-width="0.69" fill="none"/>
<path d="M238.8 194.8 Q244.2 205.5 247.9 219.9" stroke="#a9b4c0" stroke-width="0.45" fill="none"/>
<path d="M240.5 193.6 Q239.9 200.7 244.2 208.1" stroke="#c5ccd3" stroke-width="0.35" fill="none"/>
<path d="M240.0 193.5 Q234.1 198.7 231.1 207.7" stroke="#c5ccd3" stroke-width="0.60" fill="none"/>
<path d="M239.7 196.6 Q230.8 203.8 220.1 213.7" stroke="#909ca9" stroke-width="0.43" fill="none"/>
<path d="M240.4 195.6 Q241.5 208.8 238.1 220.9" stroke="#d8dde1" stroke-width="0.63" fill="none"/>
<path d="M237.6 194.3 Q238.7 203.8 238.0 216.0" stroke="#a9b4c0" stroke-width="0.55" fill="none"/>
<path d="M241.9 194.6 Q241.3 201.7 236.6 208.8" stroke="#d8dde1" stroke-width="0.32" fill="none"/>
<path d="M237.5 192.3 Q234.2 201.6 235.4 212.9" stroke="#d8dde1" stroke-width="0.50" fill="none"/>
<path d="M239.8 196.4 Q240.7 208.0 240.2 222.2" stroke="#c5ccd3" stroke-width="0.34" fill="none"/>
<path d="M237.9 192.5 Q236.2 203.9 230.2 214.5" stroke="#e3e6e8" stroke-width="0.40" fill="none"/>
<path d="M236.1 194.7 Q229.4 202.7 221.5 209.0" stroke="#909ca9" stroke-width="0.61" fill="none"/>
<path d="M241.3 197.0 Q237.2 208.4 236.6 219.9" stroke="#909ca9" stroke-width="0.67" fill="none"/>
<path d="M237.9 192.6 Q237.7 200.7 238.2 208.1" stroke="#c5ccd3" stroke-width="0.42" fill="none"/>
<path d="M239.0 193.2 Q239.2 207.7 236.5 219.1" stroke="#a9b4c0" stroke-width="0.33" fill="none"/>
<path d="M240.6 193.9 Q240.5 201.6 236.0 212.2" stroke="#a9b4c0" stroke-width="0.50" fill="none"/>
<path d="M240.9 195.3 Q238.2 210.7 233.3 224.5" stroke="#909ca9" stroke-width="0.35" fill="none"/>
<path d="M240.8 194.8 Q237.6 201.6 234.4 209.8" stroke="#a9b4c0" stroke-width="0.33" fill="none"/>
<path d="M240.6 194.8 Q238.9 200.5 241.7 209.2" stroke="#909ca9" stroke-width="0.50" fill="none"/>
<path d="M237.5 196.8 Q238.1 204.0 241.7 212.3" stroke="#c5ccd3" stroke-width="0.56" fill="none"/>
<path d="M241.0 195.6 Q239.6 202.0 237.9 211.0" stroke="#e3e6e8" stroke-width="0.36" fill="none"/>
<path d="M240.6 194.2 Q233.2 203.5 228.6 212.1" stroke="#c5ccd3" stroke-width="0.50" fill="none"/>
<path d="M240.6 196.7 Q241.9 208.5 238.6 219.6" stroke="#a9b4c0" stroke-width="0.36" fill="none"/>
<path d="M241.1 195.4 Q236.2 210.5 234.0 224.0" stroke="#909ca9" stroke-width="0.48" fill="none"/>
<path d="M237.3 193.4 Q235.6 201.3 233.3 210.3" stroke="#c5ccd3" stroke-width="0.46" fill="none"/>
<path d="M240.9 196.1 Q235.8 201.1 230.9 207.3" stroke="#c5ccd3" stroke-width="0.67" fill="none"/>
<path d="M240.0 194.1 L246.1 192.0" stroke="#b8c0c8" stroke-width="0.4"/>
<path d="M240.9 196.7 L247.3 200.9" stroke="#b8c0c8" stroke-width="0.4"/>
<path d="M239.3 196.0 L250.3 198.7" stroke="#b8c0c8" stroke-width="0.4"/>
<path d="M241.2 195.1 L246.3 196.7" stroke="#b8c0c8" stroke-width="0.4"/>
<path d="M240.3 194.6 L248.1 194.4" stroke="#b8c0c8" stroke-width="0.4"/>
<path d="M238.1 194.9 L245.8 196.2" stroke="#b8c0c8" stroke-width="0.4"/>
<path d="M241.8 188 C243.5 189.5 243 193 240 196.5 C238 195 238.5 191 241.8 188Z" fill="#b48568"/>
<path d="M238.5 193 C240.5 194 241 197 239 199 C237.5 198 237 195 238.5 193Z" fill="#c49e84"/>
<rect x="375.90" y="205.70" width="10.82" height="7.82" fill="#eef0e6"/>
<rect x="386.72" y="205.70" width="10.82" height="7.82" fill="#f0f2dc"/>
<rect x="397.54" y="205.70" width="10.82" height="7.82" fill="#f4c088"/>
<rect x="408.36" y="205.70" width="10.82" height="7.82" fill="#eef0e6"/>
<rect x="419.18" y="205.70" width="10.82" height="7.82" fill="#f0f2dc"/>
<rect x="430.00" y="205.70" width="10.82" height="7.82" fill="#f0f2dc"/>
<rect x="440.82" y="205.70" width="10.82" height="7.82" fill="#f4c088"/>
<rect x="451.64" y="205.70" width="10.82" height="7.82" fill="#eef0e6"/>
<rect x="462.46" y="205.70" width="10.82" height="7.82" fill="#eef0e6"/>
<rect x="473.28" y="205.70" width="10.82" height="7.82" fill="#f0f2dc"/>
<rect x="484.10" y="205.70" width="10.82" height="7.82" fill="#e4704a"/>
<rect x="494.92" y="205.70" width="10.82" height="7.82" fill="#f8e6ac"/>
<rect x="505.74" y="205.70" width="10.82" height="7.82" fill="#eef0e6"/>
<rect x="516.56" y="205.70" width="10.82" height="7.82" fill="#eef0e6"/>
<rect x="527.38" y="205.70" width="10.82" height="7.82" fill="#eef0e6"/>
<rect x="538.20" y="205.70" width="10.82" height="7.82" fill="#eef0e6"/>
<rect x="549.02" y="205.70" width="10.82" height="7.82" fill="#f8e6ac"/>
<rect x="559.84" y="205.70" width="10.82" height="7.82" fill="#eef0e6"/>
<rect x="570.66" y="205.70" width="10.82" height="7.82" fill="#f0f2dc"/>
<rect x="375.90" y="213.52" width="10.82" height="7.82" fill="#f0f2dc"/>
<rect x="386.72" y="213.52" width="10.82" height="7.82" fill="#f4f2cc"/>
<rect x="397.54" y="213.52" width="10.82" height="7.82" fill="#e6ecee"/>
<rect x="408.36" y="213.52" width="10.82" height="7.82" fill="#f8dca0"/>
<rect x="419.18" y="213.52" width="10.82" height="7.82" fill="#f4f2cc"/>
<rect x="430.00" y="213.52" width="10.82" height="7.82" fill="#eef0e6"/>
<rect x="440.82" y="213.52" width="10.82" height="7.82" fill="#da5040"/>
<rect x="451.64" y="213.52" width="10.82" height="7.82" fill="#f6d094"/>
<rect x="462.46" y="213.52" width="10.82" height="7.82" fill="#eef0e6"/>
<rect x="473.28" y="213.52" width="10.82" height="7.82" fill="#eef0e6"/>
<rect x="484.10" y="213.52" width="10.82" height="7.82" fill="#eef0e6"/>
<rect x="494.92" y="213.52" width="10.82" height="7.82" fill="#e9edeb"/>
<rect x="505.74" y="213.52" width="10.82" height="7.82" fill="#f8e6ac"/>
<rect x="516.56" y="213.52" width="10.82" height="7.82" fill="#f0f2dc"/>
<rect x="527.38" y="213.52" width="10.82" height="7.82" fill="#f0f2dc"/>
<rect x="538.20" y="213.52" width="10.82" height="7.82" fill="#f0f2dc"/>
<rect x="549.02" y="213.52" width="10.82" height="7.82" fill="#eef0e6"/>
<rect x="559.84" y="213.52" width="10.82" height="7.82" fill="#f0f2dc"/>
<rect x="570.66" y="213.52" width="10.82" height="7.82" fill="#f0f2dc"/>
<rect x="375.90" y="221.34" width="10.82" height="7.82" fill="#f0f2dc"/>
<rect x="386.72" y="221.34" width="10.82" height="7.82" fill="#f0f2dc"/>
<rect x="397.54" y="221.34" width="10.82" height="7.82" fill="#eef0e6"/>
<rect x="408.36" y="221.34" width="10.82" height="7.82" fill="#eef0e6"/>
<rect x="419.18" y="221.34" width="10.82" height="7.82" fill="#eef0e6"/>
<rect x="430.00" y="221.34" width="10.82" height="7.82" fill="#e4704a"/>
<rect x="440.82" y="221.34" width="10.82" height="7.82" fill="#f8dca0"/>
<rect x="451.64" y="221.34" width="10.82" height="7.82" fill="#eef0e6"/>
<rect x="462.46" y="221.34" width="10.82" height="7.82" fill="#f4c088"/>
<rect x="473.28" y="221.34" width="10.82" height="7.82" fill="#f8e6ac"/>
<rect x="484.10" y="221.34" width="10.82" height="7.82" fill="#eef0e6"/>
<rect x="494.92" y="221.34" width="10.82" height="7.82" fill="#eef0e6"/>
<rect x="505.74" y="221.34" width="10.82" height="7.82" fill="#eef0e6"/>
<rect x="516.56" y="221.34" width="10.82" height="7.82" fill="#f0f2dc"/>
<rect x="527.38" y="221.34" width="10.82" height="7.82" fill="#f6f0c4"/>
<rect x="538.20" y="221.34" width="10.82" height="7.82" fill="#f4f2cc"/>
<rect x="549.02" y="221.34" width="10.82" height="7.82" fill="#eef0e6"/>
<rect x="559.84" y="221.34" width="10.82" height="7.82" fill="#f0f2dc"/>
<rect x="570.66" y="221.34" width="10.82" height="7.82" fill="#f0f2dc"/>
<rect x="375.90" y="229.16" width="10.82" height="7.82" fill="#f6f0c4"/>
<rect x="386.72" y="229.16" width="10.82" height="7.82" fill="#f8e6ac"/>
<rect x="397.54" y="229.16" width="10.82" height="7.82" fill="#f0f2dc"/>
<rect x="408.36" y="229.16" width="10.82" height="7.82" fill="#eef0e6"/>
<rect x="419.18" y="229.16" width="10.82" height="7.82" fill="#f0f2dc"/>
<rect x="430.00" y="229.16" width="10.82" height="7.82" fill="#f4c088"/>
<rect x="440.82" y="229.16" width="10.82" height="7.82" fill="#f6f0c4"/>
<rect x="451.64" y="229.16" width="10.82" height="7.82" fill="#f8e6ac"/>
<rect x="462.46" y="229.16" width="10.82" height="7.82" fill="#e4704a"/>
<rect x="473.28" y="229.16" width="10.82" height="7.82" fill="#f6f0c4"/>
<rect x="484.10" y="229.16" width="10.82" height="7.82" fill="#e0eaf0"/>
<rect x="494.92" y="229.16" width="10.82" height="7.82" fill="#e0eaf0"/>
<rect x="505.74" y="229.16" width="10.82" height="7.82" fill="#f4f2cc"/>
<rect x="516.56" y="229.16" width="10.82" height="7.82" fill="#f6d094"/>
<rect x="527.38" y="229.16" width="10.82" height="7.82" fill="#f0f2dc"/>
<rect x="538.20" y="229.16" width="10.82" height="7.82" fill="#e9edeb"/>
<rect x="549.02" y="229.16" width="10.82" height="7.82" fill="#eef0e6"/>
<rect x="559.84" y="229.16" width="10.82" height="7.82" fill="#f0f2dc"/>
<rect x="570.66" y="229.16" width="10.82" height="7.82" fill="#f0f2dc"/>
<rect x="375.90" y="236.98" width="10.82" height="7.82" fill="#f0f2dc"/>
<rect x="386.72" y="236.98" width="10.82" height="7.82" fill="#f0f2dc"/>
<rect x="397.54" y="236.98" width="10.82" height="7.82" fill="#eef0e6"/>
<rect x="408.36" y="236.98" width="10.82" height="7.82" fill="#f6f0c4"/>
<rect x="419.18" y="236.98" width="10.82" height="7.82" fill="#eef0e6"/>
<rect x="430.00" y="236.98" width="10.82" height="7.82" fill="#f0a064"/>
<rect x="440.82" y="236.98" width="10.82" height="7.82" fill="#f6f0c4"/>
<rect x="451.64" y="236.98" width="10.82" height="7.82" fill="#f4c088"/>
<rect x="462.46" y="236.98" width="10.82" height="7.82" fill="#f4c088"/>
<rect x="473.28" y="236.98" width="10.82" height="7.82" fill="#f0f2dc"/>
<rect x="484.10" y="236.98" width="10.82" height="7.82" fill="#eef0e6"/>
<rect x="494.92" y="236.98" width="10.82" height="7.82" fill="#eef0e6"/>
<rect x="505.74" y="236.98" width="10.82" height="7.82" fill="#f8e6ac"/>
<rect x="516.56" y="236.98" width="10.82" height="7.82" fill="#eef0e6"/>
<rect x="527.38" y="236.98" width="10.82" height="7.82" fill="#f0f2dc"/>
<rect x="538.20" y="236.98" width="10.82" height="7.82" fill="#eef0e6"/>
<rect x="549.02" y="236.98" width="10.82" height="7.82" fill="#eef0e6"/>
<rect x="559.84" y="236.98" width="10.82" height="7.82" fill="#f6f0c4"/>
<rect x="570.66" y="236.98" width="10.82" height="7.82" fill="#eef0e6"/>
<rect x="375.90" y="244.80" width="10.82" height="7.82" fill="#f0f2dc"/>
<rect x="386.72" y="244.80" width="10.82" height="7.82" fill="#f8e6ac"/>
<rect x="397.54" y="244.80" width="10.82" height="7.82" fill="#f4c088"/>
<rect x="408.36" y="244.80" width="10.82" height="7.82" fill="#eef0e6"/>
<rect x="419.18" y="244.80" width="10.82" height="7.82" fill="#f0a064"/>
<rect x="430.00" y="244.80" width="10.82" height="7.82" fill="#e0eaf0"/>
<rect x="440.82" y="244.80" width="10.82" height="7.82" fill="#eef0e6"/>
<rect x="451.64" y="244.80" width="10.82" height="7.82" fill="#eef0e6"/>
<rect x="462.46" y="244.80" width="10.82" height="7.82" fill="#e6ecee"/>
<rect x="473.28" y="244.80" width="10.82" height="7.82" fill="#f0f2dc"/>
<rect x="484.10" y="244.80" width="10.82" height="7.82" fill="#f8e6ac"/>
<rect x="494.92" y="244.80" width="10.82" height="7.82" fill="#f8e6ac"/>
<rect x="505.74" y="244.80" width="10.82" height="7.82" fill="#e0eaf0"/>
<rect x="516.56" y="244.80" width="10.82" height="7.82" fill="#eef0e6"/>
<rect x="527.38" y="244.80" width="10.82" height="7.82" fill="#f6f0c4"/>
<rect x="538.20" y="244.80" width="10.82" height="7.82" fill="#f6f0c4"/>
<rect x="549.02" y="244.80" width="10.82" height="7.82" fill="#eef0e6"/>
<rect x="559.84" y="244.80" width="10.82" height="7.82" fill="#e6ecee"/>
<rect x="570.66" y="244.80" width="10.82" height="7.82" fill="#f6f0c4"/>
<rect x="375.90" y="252.62" width="10.82" height="7.82" fill="#e6ecee"/>
<rect x="386.72" y="252.62" width="10.82" height="7.82" fill="#f0a064"/>
<rect x="397.54" y="252.62" width="10.82" height="7.82" fill="#f4c088"/>
<rect x="408.36" y="252.62" width="10.82" height="7.82" fill="#f0f2dc"/>
<rect x="419.18" y="252.62" width="10.82" height="7.82" fill="#f8dca0"/>
<rect x="430.00" y="252.62" width="10.82" height="7.82" fill="#e6ecee"/>
<rect x="440.82" y="252.62" width="10.82" height="7.82" fill="#e0eaf0"/>
<rect x="451.64" y="252.62" width="10.82" height="7.82" fill="#eef0e6"/>
<rect x="462.46" y="252.62" width="10.82" height="7.82" fill="#f6f0c4"/>
<rect x="473.28" y="252.62" width="10.82" height="7.82" fill="#f8e6ac"/>
<rect x="484.10" y="252.62" width="10.82" height="7.82" fill="#e0eaf0"/>
<rect x="494.92" y="252.62" width="10.82" height="7.82" fill="#f4f2cc"/>
<rect x="505.74" y="252.62" width="10.82" height="7.82" fill="#eef0e6"/>
<rect x="516.56" y="252.62" width="10.82" height="7.82" fill="#f8dca0"/>
<rect x="527.38" y="252.62" width="10.82" height="7.82" fill="#f6f0c4"/>
<rect x="538.20" y="252.62" width="10.82" height="7.82" fill="#f8e6ac"/>
<rect x="549.02" y="252.62" width="10.82" height="7.82" fill="#eef0e6"/>
<rect x="559.84" y="252.62" width="10.82" height="7.82" fill="#e0eaf0"/>
<rect x="570.66" y="252.62" width="10.82" height="7.82" fill="#f0f2dc"/>
<rect x="375.90" y="260.44" width="10.82" height="7.82" fill="#f4f2cc"/>
<rect x="386.72" y="260.44" width="10.82" height="7.82" fill="#eef0e6"/>
<rect x="397.54" y="260.44" width="10.82" height="7.82" fill="#e9edeb"/>
<rect x="408.36" y="260.44" width="10.82" height="7.82" fill="#eef0e6"/>
<rect x="419.18" y="260.44" width="10.82" height="7.82" fill="#f8e6ac"/>
<rect x="430.00" y="260.44" width="10.82" height="7.82" fill="#eef0e6"/>
<rect x="440.82" y="260.44" width="10.82" height="7.82" fill="#eef0e6"/>
<rect x="451.64" y="260.44" width="10.82" height="7.82" fill="#f0f2dc"/>
<rect x="462.46" y="260.44" width="10.82" height="7.82" fill="#eef0e6"/>
<rect x="473.28" y="260.44" width="10.82" height="7.82" fill="#f8dca0"/>
<rect x="484.10" y="260.44" width="10.82" height="7.82" fill="#f4f2cc"/>
<rect x="494.92" y="260.44" width="10.82" height="7.82" fill="#e9edeb"/>
<rect x="505.74" y="260.44" width="10.82" height="7.82" fill="#e9edeb"/>
<rect x="516.56" y="260.44" width="10.82" height="7.82" fill="#f6d094"/>
<rect x="527.38" y="260.44" width="10.82" height="7.82" fill="#f2b078"/>
<rect x="538.20" y="260.44" width="10.82" height="7.82" fill="#e4704a"/>
<rect x="549.02" y="260.44" width="10.82" height="7.82" fill="#eef0e6"/>
<rect x="559.84" y="260.44" width="10.82" height="7.82" fill="#eef0e6"/>
<rect x="570.66" y="260.44" width="10.82" height="7.82" fill="#f4f2cc"/>
<rect x="375.90" y="268.26" width="10.82" height="7.82" fill="#f8e6ac"/>
<rect x="386.72" y="268.26" width="10.82" height="7.82" fill="#f8e6ac"/>
<rect x="397.54" y="268.26" width="10.82" height="7.82" fill="#eef0e6"/>
<rect x="408.36" y="268.26" width="10.82" height="7.82" fill="#e0eaf0"/>
<rect x="419.18" y="268.26" width="10.82" height="7.82" fill="#f8e6ac"/>
<rect x="430.00" y="268.26" width="10.82" height="7.82" fill="#f8e6ac"/>
<rect x="440.82" y="268.26" width="10.82" height="7.82" fill="#eef0e6"/>
<rect x="451.64" y="268.26" width="10.82" height="7.82" fill="#d4e4f0"/>
<rect x="462.46" y="268.26" width="10.82" height="7.82" fill="#f6f0c4"/>
<rect x="473.28" y="268.26" width="10.82" height="7.82" fill="#f8dca0"/>
<rect x="484.10" y="268.26" width="10.82" height="7.82" fill="#d4e4f0"/>
<rect x="494.92" y="268.26" width="10.82" height="7.82" fill="#f4f2cc"/>
<rect x="505.74" y="268.26" width="10.82" height="7.82" fill="#e0eaf0"/>
<rect x="516.56" y="268.26" width="10.82" height="7.82" fill="#f8dca0"/>
<rect x="527.38" y="268.26" width="10.82" height="7.82" fill="#f2b078"/>
<rect x="538.20" y="268.26" width="10.82" height="7.82" fill="#f6f0c4"/>
<rect x="549.02" y="268.26" width="10.82" height="7.82" fill="#eef0e6"/>
<rect x="559.84" y="268.26" width="10.82" height="7.82" fill="#e9edeb"/>
<rect x="570.66" y="268.26" width="10.82" height="7.82" fill="#f6f0c4"/>
<rect x="375.90" y="276.08" width="10.82" height="7.82" fill="#f0f2dc"/>
<rect x="386.72" y="276.08" width="10.82" height="7.82" fill="#f6d094"/>
<rect x="397.54" y="276.08" width="10.82" height="7.82" fill="#f0f2dc"/>
<rect x="408.36" y="276.08" width="10.82" height="7.82" fill="#eef0e6"/>
<rect x="419.18" y="276.08" width="10.82" height="7.82" fill="#f0a064"/>
<rect x="430.00" y="276.08" width="10.82" height="7.82" fill="#eef0e6"/>
<rect x="440.82" y="276.08" width="10.82" height="7.82" fill="#eef0e6"/>
<rect x="451.64" y="276.08" width="10.82" height="7.82" fill="#eef0e6"/>
<rect x="462.46" y="276.08" width="10.82" height="7.82" fill="#f0f2dc"/>
<rect x="473.28" y="276.08" width="10.82" height="7.82" fill="#f4f2cc"/>
<rect x="484.10" y="276.08" width="10.82" height="7.82" fill="#eef0e6"/>
<rect x="494.92" y="276.08" width="10.82" height="7.82" fill="#eef0e6"/>
<rect x="505.74" y="276.08" width="10.82" height="7.82" fill="#eef0e6"/>
<rect x="516.56" y="276.08" width="10.82" height="7.82" fill="#f4f2cc"/>
<rect x="527.38" y="276.08" width="10.82" height="7.82" fill="#f8e6ac"/>
<rect x="538.20" y="276.08" width="10.82" height="7.82" fill="#eef0e6"/>
<rect x="549.02" y="276.08" width="10.82" height="7.82" fill="#eef0e6"/>
<rect x="559.84" y="276.08" width="10.82" height="7.82" fill="#eef0e6"/>
<rect x="570.66" y="276.08" width="10.82" height="7.82" fill="#f0a064"/>
<rect x="375.90" y="283.90" width="10.82" height="7.82" fill="#eef0e6"/>
<rect x="386.72" y="283.90" width="10.82" height="7.82" fill="#f0f2dc"/>
<rect x="397.54" y="283.90" width="10.82" height="7.82" fill="#eef0e6"/>
<rect x="408.36" y="283.90" width="10.82" height="7.82" fill="#f4c088"/>
<rect x="419.18" y="283.90" width="10.82" height="7.82" fill="#f2b078"/>
<rect x="430.00" y="283.90" width="10.82" height="7.82" fill="#f4f2cc"/>
<rect x="440.82" y="283.90" width="10.82" height="7.82" fill="#e6ecee"/>
<rect x="451.64" y="283.90" width="10.82" height="7.82" fill="#f4c088"/>
<rect x="462.46" y="283.90" width="10.82" height="7.82" fill="#f6f0c4"/>
<rect x="473.28" y="283.90" width="10.82" height="7.82" fill="#eef0e6"/>
<rect x="484.10" y="283.90" width="10.82" height="7.82" fill="#eef0e6"/>
<rect x="494.92" y="283.90" width="10.82" height="7.82" fill="#e6ecee"/>
<rect x="505.74" y="283.90" width="10.82" height="7.82" fill="#f8dca0"/>
<rect x="516.56" y="283.90" width="10.82" height="7.82" fill="#f0f2dc"/>
<rect x="527.38" y="283.90" width="10.82" height="7.82" fill="#eef0e6"/>
<rect x="538.20" y="283.90" width="10.82" height="7.82" fill="#e9edeb"/>
<rect x="549.02" y="283.90" width="10.82" height="7.82" fill="#e6ecee"/>
<rect x="559.84" y="283.90" width="10.82" height="7.82" fill="#f6d094"/>
<rect x="570.66" y="283.90" width="10.82" height="7.82" fill="#f4f2cc"/>
<rect x="375.90" y="291.72" width="10.82" height="7.82" fill="#e6ecee"/>
<rect x="386.72" y="291.72" width="10.82" height="7.82" fill="#f8dca0"/>
<rect x="397.54" y="291.72" width="10.82" height="7.82" fill="#f0f2dc"/>
<rect x="408.36" y="291.72" width="10.82" height="7.82" fill="#f4c088"/>
<rect x="419.18" y="291.72" width="10.82" height="7.82" fill="#f8dca0"/>
<rect x="430.00" y="291.72" width="10.82" height="7.82" fill="#eef0e6"/>
<rect x="440.82" y="291.72" width="10.82" height="7.82" fill="#eef0e6"/>
<rect x="451.64" y="291.72" width="10.82" height="7.82" fill="#f4c088"/>
<rect x="462.46" y="291.72" width="10.82" height="7.82" fill="#f8e6ac"/>
<rect x="473.28" y="291.72" width="10.82" height="7.82" fill="#e9edeb"/>
<rect x="484.10" y="291.72" width="10.82" height="7.82" fill="#f0f2dc"/>
<rect x="494.92" y="291.72" width="10.82" height="7.82" fill="#e6ecee"/>
<rect x="505.74" y="291.72" width="10.82" height="7.82" fill="#f6d094"/>
<rect x="516.56" y="291.72" width="10.82" height="7.82" fill="#f0f2dc"/>
<rect x="527.38" y="291.72" width="10.82" height="7.82" fill="#e9edeb"/>
<rect x="538.20" y="291.72" width="10.82" height="7.82" fill="#eef0e6"/>
<rect x="549.02" y="291.72" width="10.82" height="7.82" fill="#eef0e6"/>
<rect x="559.84" y="291.72" width="10.82" height="7.82" fill="#f4f2cc"/>
<rect x="570.66" y="291.72" width="10.82" height="7.82" fill="#e6ecee"/>
<rect x="375.90" y="299.54" width="10.82" height="7.82" fill="#e0eaf0"/>
<rect x="386.72" y="299.54" width="10.82" height="7.82" fill="#f6f0c4"/>
<rect x="397.54" y="299.54" width="10.82" height="7.82" fill="#f0f2dc"/>
<rect x="408.36" y="299.54" width="10.82" height="7.82" fill="#f6d094"/>
<rect x="419.18" y="299.54" width="10.82" height="7.82" fill="#f4f2cc"/>
<rect x="430.00" y="299.54" width="10.82" height="7.82" fill="#e0eaf0"/>
<rect x="440.82" y="299.54" width="10.82" height="7.82" fill="#e0eaf0"/>
<rect x="451.64" y="299.54" width="10.82" height="7.82" fill="#e4704a"/>
<rect x="462.46" y="299.54" width="10.82" height="7.82" fill="#e6ecee"/>
<rect x="473.28" y="299.54" width="10.82" height="7.82" fill="#eef0e6"/>
<rect x="484.10" y="299.54" width="10.82" height="7.82" fill="#f6d094"/>
<rect x="494.92" y="299.54" width="10.82" height="7.82" fill="#e6ecee"/>
<rect x="505.74" y="299.54" width="10.82" height="7.82" fill="#f6f0c4"/>
<rect x="516.56" y="299.54" width="10.82" height="7.82" fill="#f6f0c4"/>
<rect x="527.38" y="299.54" width="10.82" height="7.82" fill="#f8e6ac"/>
<rect x="538.20" y="299.54" width="10.82" height="7.82" fill="#f6f0c4"/>
<rect x="549.02" y="299.54" width="10.82" height="7.82" fill="#f0f2dc"/>
<rect x="559.84" y="299.54" width="10.82" height="7.82" fill="#f6f0c4"/>
<rect x="570.66" y="299.54" width="10.82" height="7.82" fill="#f6f0c4"/>
<rect x="375.90" y="307.36" width="10.82" height="7.82" fill="#f0f2dc"/>
<rect x="386.72" y="307.36" width="10.82" height="7.82" fill="#f0f2dc"/>
<rect x="397.54" y="307.36" width="10.82" height="7.82" fill="#f0f2dc"/>
<rect x="408.36" y="307.36" width="10.82" height="7.82" fill="#f0a064"/>
<rect x="419.18" y="307.36" width="10.82" height="7.82" fill="#f0f2dc"/>
<rect x="430.00" y="307.36" width="10.82" height="7.82" fill="#f0f2dc"/>
<rect x="440.82" y="307.36" width="10.82" height="7.82" fill="#f0f2dc"/>
<rect x="451.64" y="307.36" width="10.82" height="7.82" fill="#f0a064"/>
<rect x="462.46" y="307.36" width="10.82" height="7.82" fill="#f0f2dc"/>
<rect x="473.28" y="307.36" width="10.82" height="7.82" fill="#f0f2dc"/>
<rect x="484.10" y="307.36" width="10.82" height="7.82" fill="#f0f2dc"/>
<rect x="494.92" y="307.36" width="10.82" height="7.82" fill="#f0f2dc"/>
<rect x="505.74" y="307.36" width="10.82" height="7.82" fill="#f2b078"/>
<rect x="516.56" y="307.36" width="10.82" height="7.82" fill="#f0f2dc"/>
<rect x="527.38" y="307.36" width="10.82" height="7.82" fill="#f0f2dc"/>
<rect x="538.20" y="307.36" width="10.82" height="7.82" fill="#eef0e6"/>
<rect x="549.02" y="307.36" width="10.82" height="7.82" fill="#eef0e6"/>
<rect x="559.84" y="307.36" width="10.82" height="7.82" fill="#f0f2dc"/>
<rect x="570.66" y="307.36" width="10.82" height="7.82" fill="#f0f2dc"/>
<rect x="375.90" y="315.18" width="10.82" height="7.82" fill="#e9edeb"/>
<rect x="386.72" y="315.18" width="10.82" height="7.82" fill="#f0f2dc"/>
<rect x="397.54" y="315.18" width="10.82" height="7.82" fill="#eef0e6"/>
<rect x="408.36" y="315.18" width="10.82" height="7.82" fill="#f4c088"/>
<rect x="419.18" y="315.18" width="10.82" height="7.82" fill="#f0f2dc"/>
<rect x="430.00" y="315.18" width="10.82" height="7.82" fill="#f0f2dc"/>
<rect x="440.82" y="315.18" width="10.82" height="7.82" fill="#f0f2dc"/>
<rect x="451.64" y="315.18" width="10.82" height="7.82" fill="#f0a064"/>
<rect x="462.46" y="315.18" width="10.82" height="7.82" fill="#f6f0c4"/>
<rect x="473.28" y="315.18" width="10.82" height="7.82" fill="#f6f0c4"/>
<rect x="484.10" y="315.18" width="10.82" height="7.82" fill="#e0eaf0"/>
<rect x="494.92" y="315.18" width="10.82" height="7.82" fill="#e0eaf0"/>
<rect x="505.74" y="315.18" width="10.82" height="7.82" fill="#f0a064"/>
<rect x="516.56" y="315.18" width="10.82" height="7.82" fill="#f6f0c4"/>
<rect x="527.38" y="315.18" width="10.82" height="7.82" fill="#f6f0c4"/>
<rect x="538.20" y="315.18" width="10.82" height="7.82" fill="#eef0e6"/>
<rect x="549.02" y="315.18" width="10.82" height="7.82" fill="#e9edeb"/>
<rect x="559.84" y="315.18" width="10.82" height="7.82" fill="#f8e6ac"/>
<rect x="570.66" y="315.18" width="10.82" height="7.82" fill="#f0f2dc"/>
<rect x="375.90" y="323.00" width="10.82" height="7.82" fill="#f8e6ac"/>
<rect x="386.72" y="323.00" width="10.82" height="7.82" fill="#f0f2dc"/>
<rect x="397.54" y="323.00" width="10.82" height="7.82" fill="#f0f2dc"/>
<rect x="408.36" y="323.00" width="10.82" height="7.82" fill="#f6f0c4"/>
<rect x="419.18" y="323.00" width="10.82" height="7.82" fill="#f6f0c4"/>
<rect x="430.00" y="323.00" width="10.82" height="7.82" fill="#f6f0c4"/>
<rect x="440.82" y="323.00" width="10.82" height="7.82" fill="#f0f2dc"/>
<rect x="451.64" y="323.00" width="10.82" height="7.82" fill="#da5040"/>
<rect x="462.46" y="323.00" width="10.82" height="7.82" fill="#f6f0c4"/>
<rect x="473.28" y="323.00" width="10.82" height="7.82" fill="#f0f2dc"/>
<rect x="484.10" y="323.00" width="10.82" height="7.82" fill="#eef0e6"/>
<rect x="494.92" y="323.00" width="10.82" height="7.82" fill="#e6ecee"/>
<rect x="505.74" y="323.00" width="10.82" height="7.82" fill="#f8dca0"/>
<rect x="516.56" y="323.00" width="10.82" height="7.82" fill="#f0f2dc"/>
<rect x="527.38" y="323.00" width="10.82" height="7.82" fill="#e6ecee"/>
<rect x="538.20" y="323.00" width="10.82" height="7.82" fill="#f0f2dc"/>
<rect x="549.02" y="323.00" width="10.82" height="7.82" fill="#eef0e6"/>
<rect x="559.84" y="323.00" width="10.82" height="7.82" fill="#f0f2dc"/>
<rect x="570.66" y="323.00" width="10.82" height="7.82" fill="#f0f2dc"/>
<rect x="375.90" y="330.82" width="10.82" height="7.82" fill="#f0f2dc"/>
<rect x="386.72" y="330.82" width="10.82" height="7.82" fill="#f0f2dc"/>
<rect x="397.54" y="330.82" width="10.82" height="7.82" fill="#f0f2dc"/>
<rect x="408.36" y="330.82" width="10.82" height="7.82" fill="#f6f0c4"/>
<rect x="419.18" y="330.82" width="10.82" height="7.82" fill="#f0f2dc"/>
<rect x="430.00" y="330.82" width="10.82" height="7.82" fill="#f0f2dc"/>
<rect x="440.82" y="330.82" width="10.82" height="7.82" fill="#f0f2dc"/>
<rect x="451.64" y="330.82" width="10.82" height="7.82" fill="#da5040"/>
<rect x="462.46" y="330.82" width="10.82" height="7.82" fill="#f0f2dc"/>
<rect x="473.28" y="330.82" width="10.82" height="7.82" fill="#f0f2dc"/>
<rect x="484.10" y="330.82" width="10.82" height="7.82" fill="#f0f2dc"/>
<rect x="494.92" y="330.82" width="10.82" height="7.82" fill="#f0f2dc"/>
<rect x="505.74" y="330.82" width="10.82" height="7.82" fill="#f2b078"/>
<rect x="516.56" y="330.82" width="10.82" height="7.82" fill="#f0f2dc"/>
<rect x="527.38" y="330.82" width="10.82" height="7.82" fill="#f0f2dc"/>
<rect x="538.20" y="330.82" width="10.82" height="7.82" fill="#f0f2dc"/>
<rect x="549.02" y="330.82" width="10.82" height="7.82" fill="#f0f2dc"/>
<rect x="559.84" y="330.82" width="10.82" height="7.82" fill="#f6f0c4"/>
<rect x="570.66" y="330.82" width="10.82" height="7.82" fill="#f0f2dc"/>
<rect x="375.90" y="338.64" width="10.82" height="7.82" fill="#f0f2dc"/>
<rect x="386.72" y="338.64" width="10.82" height="7.82" fill="#f6f0c4"/>
<rect x="397.54" y="338.64" width="10.82" height="7.82" fill="#f6f0c4"/>
<rect x="408.36" y="338.64" width="10.82" height="7.82" fill="#f6f0c4"/>
<rect x="419.18" y="338.64" width="10.82" height="7.82" fill="#f6f0c4"/>
<rect x="430.00" y="338.64" width="10.82" height="7.82" fill="#eef0e6"/>
<rect x="440.82" y="338.64" width="10.82" height="7.82" fill="#eef0e6"/>
<rect x="451.64" y="338.64" width="10.82" height="7.82" fill="#da5040"/>
<rect x="462.46" y="338.64" width="10.82" height="7.82" fill="#f0f2dc"/>
<rect x="473.28" y="338.64" width="10.82" height="7.82" fill="#f0f2dc"/>
<rect x="484.10" y="338.64" width="10.82" height="7.82" fill="#f0f2dc"/>
<rect x="494.92" y="338.64" width="10.82" height="7.82" fill="#f6f0c4"/>
<rect x="505.74" y="338.64" width="10.82" height="7.82" fill="#f2b078"/>
<rect x="516.56" y="338.64" width="10.82" height="7.82" fill="#f0f2dc"/>
<rect x="527.38" y="338.64" width="10.82" height="7.82" fill="#f0f2dc"/>
<rect x="538.20" y="338.64" width="10.82" height="7.82" fill="#eef0e6"/>
<rect x="549.02" y="338.64" width="10.82" height="7.82" fill="#f0f2dc"/>
<rect x="559.84" y="338.64" width="10.82" height="7.82" fill="#f6f0c4"/>
<rect x="570.66" y="338.64" width="10.82" height="7.82" fill="#f0f2dc"/>
<rect x="375.90" y="346.46" width="10.82" height="7.82" fill="#f0f2dc"/>
<rect x="386.72" y="346.46" width="10.82" height="7.82" fill="#f0f2dc"/>
<rect x="397.54" y="346.46" width="10.82" height="7.82" fill="#f0f2dc"/>
<rect x="408.36" y="346.46" width="10.82" height="7.82" fill="#f8dca0"/>
<rect x="419.18" y="346.46" width="10.82" height="7.82" fill="#f0f2dc"/>
<rect x="430.00" y="346.46" width="10.82" height="7.82" fill="#eef0e6"/>
<rect x="440.82" y="346.46" width="10.82" height="7.82" fill="#eef0e6"/>
<rect x="451.64" y="346.46" width="10.82" height="7.82" fill="#f8dca0"/>
<rect x="462.46" y="346.46" width="10.82" height="7.82" fill="#f0f2dc"/>
<rect x="473.28" y="346.46" width="10.82" height="7.82" fill="#eef0e6"/>
<rect x="484.10" y="346.46" width="10.82" height="7.82" fill="#f0f2dc"/>
<rect x="494.92" y="346.46" width="10.82" height="7.82" fill="#f0f2dc"/>
<rect x="505.74" y="346.46" width="10.82" height="7.82" fill="#f2b078"/>
<rect x="516.56" y="346.46" width="10.82" height="7.82" fill="#f0f2dc"/>
<rect x="527.38" y="346.46" width="10.82" height="7.82" fill="#f0f2dc"/>
<rect x="538.20" y="346.46" width="10.82" height="7.82" fill="#f0f2dc"/>
<rect x="549.02" y="346.46" width="10.82" height="7.82" fill="#f0f2dc"/>
<rect x="559.84" y="346.46" width="10.82" height="7.82" fill="#e4704a"/>
<rect x="570.66" y="346.46" width="10.82" height="7.82" fill="#f0f2dc"/>
<rect x="375.90" y="354.28" width="10.82" height="7.82" fill="#f0f2dc"/>
<rect x="386.72" y="354.28" width="10.82" height="7.82" fill="#f0f2dc"/>
<rect x="397.54" y="354.28" width="10.82" height="7.82" fill="#eef0e6"/>
<rect x="408.36" y="354.28" width="10.82" height="7.82" fill="#f6f0c4"/>
<rect x="419.18" y="354.28" width="10.82" height="7.82" fill="#f0f2dc"/>
<rect x="430.00" y="354.28" width="10.82" height="7.82" fill="#eef0e6"/>
<rect x="440.82" y="354.28" width="10.82" height="7.82" fill="#eef0e6"/>
<rect x="451.64" y="354.28" width="10.82" height="7.82" fill="#f6f0c4"/>
<rect x="462.46" y="354.28" width="10.82" height="7.82" fill="#f0f2dc"/>
<rect x="473.28" y="354.28" width="10.82" height="7.82" fill="#f0f2dc"/>
<rect x="484.10" y="354.28" width="10.82" height="7.82" fill="#f0f2dc"/>
<rect x="494.92" y="354.28" width="10.82" height="7.82" fill="#f4f2cc"/>
<rect x="505.74" y="354.28" width="10.82" height="7.82" fill="#f2b078"/>
<rect x="516.56" y="354.28" width="10.82" height="7.82" fill="#f0f2dc"/>
<rect x="527.38" y="354.28" width="10.82" height="7.82" fill="#f0f2dc"/>
<rect x="538.20" y="354.28" width="10.82" height="7.82" fill="#f0f2dc"/>
<rect x="549.02" y="354.28" width="10.82" height="7.82" fill="#f6f0c4"/>
<rect x="559.84" y="354.28" width="10.82" height="7.82" fill="#da5040"/>
<rect x="570.66" y="354.28" width="10.82" height="7.82" fill="#f0f2dc"/>
<rect x="375.90" y="362.10" width="10.82" height="7.82" fill="#f8e6ac"/>
<rect x="386.72" y="362.10" width="10.82" height="7.82" fill="#f4f2cc"/>
<rect x="397.54" y="362.10" width="10.82" height="7.82" fill="#eef0e6"/>
<rect x="408.36" y="362.10" width="10.82" height="7.82" fill="#f4c088"/>
<rect x="419.18" y="362.10" width="10.82" height="7.82" fill="#f4f2cc"/>
<rect x="430.00" y="362.10" width="10.82" height="7.82" fill="#e9edeb"/>
<rect x="440.82" y="362.10" width="10.82" height="7.82" fill="#d4e4f0"/>
<rect x="451.64" y="362.10" width="10.82" height="7.82" fill="#f6f0c4"/>
<rect x="462.46" y="362.10" width="10.82" height="7.82" fill="#d4e4f0"/>
<rect x="473.28" y="362.10" width="10.82" height="7.82" fill="#f4f2cc"/>
<rect x="484.10" y="362.10" width="10.82" height="7.82" fill="#a8cce8"/>
<rect x="494.92" y="362.10" width="10.82" height="7.82" fill="#f4f2cc"/>
<rect x="505.74" y="362.10" width="10.82" height="7.82" fill="#f8e6ac"/>
<rect x="516.56" y="362.10" width="10.82" height="7.82" fill="#eef0e6"/>
<rect x="527.38" y="362.10" width="10.82" height="7.82" fill="#f6d094"/>
<rect x="538.20" y="362.10" width="10.82" height="7.82" fill="#f8e6ac"/>
<rect x="549.02" y="362.10" width="10.82" height="7.82" fill="#f4f2cc"/>
<rect x="559.84" y="362.10" width="10.82" height="7.82" fill="#f8e6ac"/>
<rect x="570.66" y="362.10" width="10.82" height="7.82" fill="#f8e6ac"/>
<rect x="375.90" y="369.92" width="10.82" height="7.82" fill="#e6ecee"/>
<rect x="386.72" y="369.92" width="10.82" height="7.82" fill="#f4f2cc"/>
<rect x="397.54" y="369.92" width="10.82" height="7.82" fill="#f8e6ac"/>
<rect x="408.36" y="369.92" width="10.82" height="7.82" fill="#f0a064"/>
<rect x="419.18" y="369.92" width="10.82" height="7.82" fill="#f4f2cc"/>
<rect x="430.00" y="369.92" width="10.82" height="7.82" fill="#e0eaf0"/>
<rect x="440.82" y="369.92" width="10.82" height="7.82" fill="#e6ecee"/>
<rect x="451.64" y="369.92" width="10.82" height="7.82" fill="#f8e6ac"/>
<rect x="462.46" y="369.92" width="10.82" height="7.82" fill="#e0eaf0"/>
<rect x="473.28" y="369.92" width="10.82" height="7.82" fill="#e9edeb"/>
<rect x="484.10" y="369.92" width="10.82" height="7.82" fill="#eef0e6"/>
<rect x="494.92" y="369.92" width="10.82" height="7.82" fill="#f4f2cc"/>
<rect x="505.74" y="369.92" width="10.82" height="7.82" fill="#f8e6ac"/>
<rect x="516.56" y="369.92" width="10.82" height="7.82" fill="#e6ecee"/>
<rect x="527.38" y="369.92" width="10.82" height="7.82" fill="#f8e6ac"/>
<rect x="538.20" y="369.92" width="10.82" height="7.82" fill="#f4f2cc"/>
<rect x="549.02" y="369.92" width="10.82" height="7.82" fill="#f4f2cc"/>
<rect x="559.84" y="369.92" width="10.82" height="7.82" fill="#f6d094"/>
<rect x="570.66" y="369.92" width="10.82" height="7.82" fill="#f4f2cc"/>
<rect x="375.90" y="377.74" width="10.82" height="7.82" fill="#e0eaf0"/>
<rect x="386.72" y="377.74" width="10.82" height="7.82" fill="#f8e6ac"/>
<rect x="397.54" y="377.74" width="10.82" height="7.82" fill="#f4f2cc"/>
<rect x="408.36" y="377.74" width="10.82" height="7.82" fill="#f8dca0"/>
<rect x="419.18" y="377.74" width="10.82" height="7.82" fill="#eef0e6"/>
<rect x="430.00" y="377.74" width="10.82" height="7.82" fill="#d4e4f0"/>
<rect x="440.82" y="377.74" width="10.82" height="7.82" fill="#e0eaf0"/>
<rect x="451.64" y="377.74" width="10.82" height="7.82" fill="#f4c088"/>
<rect x="462.46" y="377.74" width="10.82" height="7.82" fill="#d4e4f0"/>
<rect x="473.28" y="377.74" width="10.82" height="7.82" fill="#f6f0c4"/>
<rect x="484.10" y="377.74" width="10.82" height="7.82" fill="#d4e4f0"/>
<rect x="494.92" y="377.74" width="10.82" height="7.82" fill="#eef0e6"/>
<rect x="505.74" y="377.74" width="10.82" height="7.82" fill="#f4c088"/>
<rect x="516.56" y="377.74" width="10.82" height="7.82" fill="#f4f2cc"/>
<rect x="527.38" y="377.74" width="10.82" height="7.82" fill="#f8e6ac"/>
<rect x="538.20" y="377.74" width="10.82" height="7.82" fill="#f4f2cc"/>
<rect x="549.02" y="377.74" width="10.82" height="7.82" fill="#f4f2cc"/>
<rect x="559.84" y="377.74" width="10.82" height="7.82" fill="#f8e6ac"/>
<rect x="570.66" y="377.74" width="10.82" height="7.82" fill="#f4f2cc"/>
<rect x="375.90" y="385.56" width="10.82" height="7.82" fill="#f0f2dc"/>
<rect x="386.72" y="385.56" width="10.82" height="7.82" fill="#f4f2cc"/>
<rect x="397.54" y="385.56" width="10.82" height="7.82" fill="#eef0e6"/>
<rect x="408.36" y="385.56" width="10.82" height="7.82" fill="#f4c088"/>
<rect x="419.18" y="385.56" width="10.82" height="7.82" fill="#f4f2cc"/>
<rect x="430.00" y="385.56" width="10.82" height="7.82" fill="#e0eaf0"/>
<rect x="440.82" y="385.56" width="10.82" height="7.82" fill="#e6ecee"/>
<rect x="451.64" y="385.56" width="10.82" height="7.82" fill="#f0a064"/>
<rect x="462.46" y="385.56" width="10.82" height="7.82" fill="#eef0e6"/>
<rect x="473.28" y="385.56" width="10.82" height="7.82" fill="#f0f2dc"/>
<rect x="484.10" y="385.56" width="10.82" height="7.82" fill="#e0eaf0"/>
<rect x="494.92" y="385.56" width="10.82" height="7.82" fill="#eef0e6"/>
<rect x="505.74" y="385.56" width="10.82" height="7.82" fill="#f8dca0"/>
<rect x="516.56" y="385.56" width="10.82" height="7.82" fill="#eef0e6"/>
<rect x="527.38" y="385.56" width="10.82" height="7.82" fill="#f8e6ac"/>
<rect x="538.20" y="385.56" width="10.82" height="7.82" fill="#f4f2cc"/>
<rect x="549.02" y="385.56" width="10.82" height="7.82" fill="#eef0e6"/>
<rect x="559.84" y="385.56" width="10.82" height="7.82" fill="#f6d094"/>
<rect x="570.66" y="385.56" width="10.82" height="7.82" fill="#f4f2cc"/>
<rect x="375.90" y="393.38" width="10.82" height="7.82" fill="#f6d094"/>
<rect x="386.72" y="393.38" width="10.82" height="7.82" fill="#f8e6ac"/>
<rect x="397.54" y="393.38" width="10.82" height="7.82" fill="#eef0e6"/>
<rect x="408.36" y="393.38" width="10.82" height="7.82" fill="#f4f2cc"/>
<rect x="419.18" y="393.38" width="10.82" height="7.82" fill="#da5040"/>
<rect x="430.00" y="393.38" width="10.82" height="7.82" fill="#f0f2dc"/>
<rect x="440.82" y="393.38" width="10.82" height="7.82" fill="#eef0e6"/>
<rect x="451.64" y="393.38" width="10.82" height="7.82" fill="#f8e6ac"/>
<rect x="462.46" y="393.38" width="10.82" height="7.82" fill="#eef0e6"/>
<rect x="473.28" y="393.38" width="10.82" height="7.82" fill="#f6f0c4"/>
<rect x="484.10" y="393.38" width="10.82" height="7.82" fill="#f4f2cc"/>
<rect x="494.92" y="393.38" width="10.82" height="7.82" fill="#eef0e6"/>
<rect x="505.74" y="393.38" width="10.82" height="7.82" fill="#eef0e6"/>
<rect x="516.56" y="393.38" width="10.82" height="7.82" fill="#eef0e6"/>
<rect x="527.38" y="393.38" width="10.82" height="7.82" fill="#e9edeb"/>
<rect x="538.20" y="393.38" width="10.82" height="7.82" fill="#e9edeb"/>
<rect x="549.02" y="393.38" width="10.82" height="7.82" fill="#f0f2dc"/>
<rect x="559.84" y="393.38" width="10.82" height="7.82" fill="#f4f2cc"/>
<rect x="570.66" y="393.38" width="10.82" height="7.82" fill="#eef0e6"/>
<rect x="375.90" y="401.20" width="10.82" height="7.82" fill="#f8e6ac"/>
<rect x="386.72" y="401.20" width="10.82" height="7.82" fill="#f8dca0"/>
<rect x="397.54" y="401.20" width="10.82" height="7.82" fill="#e9edeb"/>
<rect x="408.36" y="401.20" width="10.82" height="7.82" fill="#f6f0c4"/>
<rect x="419.18" y="401.20" width="10.82" height="7.82" fill="#f6f0c4"/>
<rect x="430.00" y="401.20" width="10.82" height="7.82" fill="#e0eaf0"/>
<rect x="440.82" y="401.20" width="10.82" height="7.82" fill="#d4e4f0"/>
<rect x="451.64" y="401.20" width="10.82" height="7.82" fill="#f6f0c4"/>
<rect x="462.46" y="401.20" width="10.82" height="7.82" fill="#d4e4f0"/>
<rect x="473.28" y="401.20" width="10.82" height="7.82" fill="#f2b078"/>
<rect x="484.10" y="401.20" width="10.82" height="7.82" fill="#eef0e6"/>
<rect x="494.92" y="401.20" width="10.82" height="7.82" fill="#f4f2cc"/>
<rect x="505.74" y="401.20" width="10.82" height="7.82" fill="#f4f2cc"/>
<rect x="516.56" y="401.20" width="10.82" height="7.82" fill="#f2b078"/>
<rect x="527.38" y="401.20" width="10.82" height="7.82" fill="#f8e6ac"/>
<rect x="538.20" y="401.20" width="10.82" height="7.82" fill="#f4f2cc"/>
<rect x="549.02" y="401.20" width="10.82" height="7.82" fill="#e6ecee"/>
<rect x="559.84" y="401.20" width="10.82" height="7.82" fill="#f4f2cc"/>
<rect x="570.66" y="401.20" width="10.82" height="7.82" fill="#f4f2cc"/>
<rect x="375.90" y="409.02" width="10.82" height="7.82" fill="#f4f2cc"/>
<rect x="386.72" y="409.02" width="10.82" height="7.82" fill="#f4f2cc"/>
<rect x="397.54" y="409.02" width="10.82" height="7.82" fill="#e6ecee"/>
<rect x="408.36" y="409.02" width="10.82" height="7.82" fill="#f8e6ac"/>
<rect x="419.18" y="409.02" width="10.82" height="7.82" fill="#f8e6ac"/>
<rect x="430.00" y="409.02" width="10.82" height="7.82" fill="#e6ecee"/>
<rect x="440.82" y="409.02" width="10.82" height="7.82" fill="#d4e4f0"/>
<rect x="451.64" y="409.02" width="10.82" height="7.82" fill="#f8dca0"/>
<rect x="462.46" y="409.02" width="10.82" height="7.82" fill="#eef0e6"/>
<rect x="473.28" y="409.02" width="10.82" height="7.82" fill="#f8e6ac"/>
<rect x="484.10" y="409.02" width="10.82" height="7.82" fill="#eef0e6"/>
<rect x="494.92" y="409.02" width="10.82" height="7.82" fill="#e0eaf0"/>
<rect x="505.74" y="409.02" width="10.82" height="7.82" fill="#f8dca0"/>
<rect x="516.56" y="409.02" width="10.82" height="7.82" fill="#f4c088"/>
<rect x="527.38" y="409.02" width="10.82" height="7.82" fill="#f8e6ac"/>
<rect x="538.20" y="409.02" width="10.82" height="7.82" fill="#f4f2cc"/>
<rect x="549.02" y="409.02" width="10.82" height="7.82" fill="#d4e4f0"/>
<rect x="559.84" y="409.02" width="10.82" height="7.82" fill="#f6d094"/>
<rect x="570.66" y="409.02" width="10.82" height="7.82" fill="#f4f2cc"/>
<rect x="375.90" y="416.84" width="10.82" height="7.82" fill="#f0f2dc"/>
<rect x="386.72" y="416.84" width="10.82" height="7.82" fill="#da5040"/>
<rect x="397.54" y="416.84" width="10.82" height="7.82" fill="#f0f2dc"/>
<rect x="408.36" y="416.84" width="10.82" height="7.82" fill="#f0f2dc"/>
<rect x="419.18" y="416.84" width="10.82" height="7.82" fill="#f0f2dc"/>
<rect x="430.00" y="416.84" width="10.82" height="7.82" fill="#f0f2dc"/>
<rect x="440.82" y="416.84" width="10.82" height="7.82" fill="#f0f2dc"/>
<rect x="451.64" y="416.84" width="10.82" height="7.82" fill="#f0f2dc"/>
<rect x="462.46" y="416.84" width="10.82" height="7.82" fill="#f0f2dc"/>
<rect x="473.28" y="416.84" width="10.82" height="7.82" fill="#f0f2dc"/>
<rect x="484.10" y="416.84" width="10.82" height="7.82" fill="#f0f2dc"/>
<rect x="494.92" y="416.84" width="10.82" height="7.82" fill="#f6f0c4"/>
<rect x="505.74" y="416.84" width="10.82" height="7.82" fill="#f4c088"/>
<rect x="516.56" y="416.84" width="10.82" height="7.82" fill="#f8e6ac"/>
<rect x="527.38" y="416.84" width="10.82" height="7.82" fill="#eef0e6"/>
<rect x="538.20" y="416.84" width="10.82" height="7.82" fill="#f6f0c4"/>
<rect x="549.02" y="416.84" width="10.82" height="7.82" fill="#eef0e6"/>
<rect x="559.84" y="416.84" width="10.82" height="7.82" fill="#eef0e6"/>
<rect x="570.66" y="416.84" width="10.82" height="7.82" fill="#f0f2dc"/>
<rect x="375.90" y="424.66" width="10.82" height="7.82" fill="#f8e6ac"/>
<rect x="386.72" y="424.66" width="10.82" height="7.82" fill="#f8dca0"/>
<rect x="397.54" y="424.66" width="10.82" height="7.82" fill="#e6ecee"/>
<rect x="408.36" y="424.66" width="10.82" height="7.82" fill="#f4f2cc"/>
<rect x="419.18" y="424.66" width="10.82" height="7.82" fill="#eef0e6"/>
<rect x="430.00" y="424.66" width="10.82" height="7.82" fill="#f4c088"/>
<rect x="440.82" y="424.66" width="10.82" height="7.82" fill="#f4f2cc"/>
<rect x="451.64" y="424.66" width="10.82" height="7.82" fill="#f0f2dc"/>
<rect x="462.46" y="424.66" width="10.82" height="7.82" fill="#eef0e6"/>
<rect x="473.28" y="424.66" width="10.82" height="7.82" fill="#f0a064"/>
<rect x="484.10" y="424.66" width="10.82" height="7.82" fill="#d4e4f0"/>
<rect x="494.92" y="424.66" width="10.82" height="7.82" fill="#eef0e6"/>
<rect x="505.74" y="424.66" width="10.82" height="7.82" fill="#f4f2cc"/>
<rect x="516.56" y="424.66" width="10.82" height="7.82" fill="#f8e6ac"/>
<rect x="527.38" y="424.66" width="10.82" height="7.82" fill="#f8e6ac"/>
<rect x="538.20" y="424.66" width="10.82" height="7.82" fill="#eef0e6"/>
<rect x="549.02" y="424.66" width="10.82" height="7.82" fill="#e0eaf0"/>
<rect x="559.84" y="424.66" width="10.82" height="7.82" fill="#f4f2cc"/>
<rect x="570.66" y="424.66" width="10.82" height="7.82" fill="#eef0e6"/>
<line x1="375.90" y1="205.70" x2="375.90" y2="432.48" stroke="#b9b9b9" stroke-width="0.8"/>
<line x1="386.72" y1="205.70" x2="386.72" y2="432.48" stroke="#b9b9b9" stroke-width="0.8"/>
<line x1="397.54" y1="205.70" x2="397.54" y2="432.48" stroke="#b9b9b9" stroke-width="0.8"/>
<line x1="408.36" y1="205.70" x2="408.36" y2="432.48" stroke="#b9b9b9" stroke-width="0.8"/>
<line x1="419.18" y1="205.70" x2="419.18" y2="432.48" stroke="#b9b9b9" stroke-width="0.8"/>
<line x1="430.00" y1="205.70" x2="430.00" y2="432.48" stroke="#b9b9b9" stroke-width="0.8"/>
<line x1="440.82" y1="205.70" x2="440.82" y2="432.48" stroke="#b9b9b9" stroke-width="0.8"/>
<line x1="451.64" y1="205.70" x2="451.64" y2="432.48" stroke="#b9b9b9" stroke-width="0.8"/>
<line x1="462.46" y1="205.70" x2="462.46" y2="432.48" stroke="#b9b9b9" stroke-width="0.8"/>
<line x1="473.28" y1="205.70" x2="473.28" y2="432.48" stroke="#b9b9b9" stroke-width="0.8"/>
<line x1="484.10" y1="205.70" x2="484.10" y2="432.48" stroke="#b9b9b9" stroke-width="0.8"/>
<line x1="494.92" y1="205.70" x2="494.92" y2="432.48" stroke="#b9b9b9" stroke-width="0.8"/>
<line x1="505.74" y1="205.70" x2="505.74" y2="432.48" stroke="#b9b9b9" stroke-width="0.8"/>
<line x1="516.56" y1="205.70" x2="516.56" y2="432.48" stroke="#b9b9b9" stroke-width="0.8"/>
<line x1="527.38" y1="205.70" x2="527.38" y2="432.48" stroke="#b9b9b9" stroke-width="0.8"/>
<line x1="538.20" y1="205.70" x2="538.20" y2="432.48" stroke="#b9b9b9" stroke-width="0.8"/>
<line x1="549.02" y1="205.70" x2="549.02" y2="432.48" stroke="#b9b9b9" stroke-width="0.8"/>
<line x1="559.84" y1="205.70" x2="559.84" y2="432.48" stroke="#b9b9b9" stroke-width="0.8"/>
<line x1="570.66" y1="205.70" x2="570.66" y2="432.48" stroke="#b9b9b9" stroke-width="0.8"/>
<line x1="581.48" y1="205.70" x2="581.48" y2="432.48" stroke="#b9b9b9" stroke-width="0.8"/>
<line x1="375.90" y1="205.70" x2="581.48" y2="205.70" stroke="#b9b9b9" stroke-width="0.8"/>
<line x1="375.90" y1="213.52" x2="581.48" y2="213.52" stroke="#b9b9b9" stroke-width="0.8"/>
<line x1="375.90" y1="221.34" x2="581.48" y2="221.34" stroke="#b9b9b9" stroke-width="0.8"/>
<line x1="375.90" y1="229.16" x2="581.48" y2="229.16" stroke="#b9b9b9" stroke-width="0.8"/>
<line x1="375.90" y1="236.98" x2="581.48" y2="236.98" stroke="#b9b9b9" stroke-width="0.8"/>
<line x1="375.90" y1="244.80" x2="581.48" y2="244.80" stroke="#b9b9b9" stroke-width="0.8"/>
<line x1="375.90" y1="252.62" x2="581.48" y2="252.62" stroke="#b9b9b9" stroke-width="0.8"/>
<line x1="375.90" y1="260.44" x2="581.48" y2="260.44" stroke="#b9b9b9" stroke-width="0.8"/>
<line x1="375.90" y1="268.26" x2="581.48" y2="268.26" stroke="#b9b9b9" stroke-width="0.8"/>
<line x1="375.90" y1="276.08" x2="581.48" y2="276.08" stroke="#b9b9b9" stroke-width="0.8"/>
<line x1="375.90" y1="283.90" x2="581.48" y2="283.90" stroke="#b9b9b9" stroke-width="0.8"/>
<line x1="375.90" y1="291.72" x2="581.48" y2="291.72" stroke="#b9b9b9" stroke-width="0.8"/>
<line x1="375.90" y1="299.54" x2="581.48" y2="299.54" stroke="#b9b9b9" stroke-width="0.8"/>
<line x1="375.90" y1="307.36" x2="581.48" y2="307.36" stroke="#b9b9b9" stroke-width="0.8"/>
<line x1="375.90" y1="315.18" x2="581.48" y2="315.18" stroke="#b9b9b9" stroke-width="0.8"/>
<line x1="375.90" y1="323.00" x2="581.48" y2="323.00" stroke="#b9b9b9" stroke-width="0.8"/>
<line x1="375.90" y1="330.82" x2="581.48" y2="330.82" stroke="#b9b9b9" stroke-width="0.8"/>
<line x1="375.90" y1="338.64" x2="581.48" y2="338.64" stroke="#b9b9b9" stroke-width="0.8"/>
<line x1="375.90" y1="346.46" x2="581.48" y2="346.46" stroke="#b9b9b9" stroke-width="0.8"/>
<line x1="375.90" y1="354.28" x2="581.48" y2="354.28" stroke="#b9b9b9" stroke-width="0.8"/>
<line x1="375.90" y1="362.10" x2="581.48" y2="362.10" stroke="#b9b9b9" stroke-width="0.8"/>
<line x1="375.90" y1="369.92" x2="581.48" y2="369.92" stroke="#b9b9b9" stroke-width="0.8"/>
<line x1="375.90" y1="377.74" x2="581.48" y2="377.74" stroke="#b9b9b9" stroke-width="0.8"/>
<line x1="375.90" y1="385.56" x2="581.48" y2="385.56" stroke="#b9b9b9" stroke-width="0.8"/>
<line x1="375.90" y1="393.38" x2="581.48" y2="393.38" stroke="#b9b9b9" stroke-width="0.8"/>
<line x1="375.90" y1="401.20" x2="581.48" y2="401.20" stroke="#b9b9b9" stroke-width="0.8"/>
<line x1="375.90" y1="409.02" x2="581.48" y2="409.02" stroke="#b9b9b9" stroke-width="0.8"/>
<line x1="375.90" y1="416.84" x2="581.48" y2="416.84" stroke="#b9b9b9" stroke-width="0.8"/>
<line x1="375.90" y1="424.66" x2="581.48" y2="424.66" stroke="#b9b9b9" stroke-width="0.8"/>
<line x1="375.90" y1="432.48" x2="581.48" y2="432.48" stroke="#b9b9b9" stroke-width="0.8"/>
<path d="M363.10 233.07L375.90 233.07 M363.10 240.89L375.90 240.89 M363.10 233.07L363.10 240.89 M361.80 225.25L375.90 225.25 M361.80 236.98L363.10 236.98 M361.80 225.25L361.80 236.98 M353.80 217.43L375.90 217.43 M353.80 231.12L361.80 231.12 M353.80 217.43L353.80 231.12 M349.00 209.61L375.90 209.61 M349.00 224.27L353.80 224.27 M349.00 209.61L349.00 224.27 M362.20 248.71L375.90 248.71 M362.20 256.53L375.90 256.53 M362.20 248.71L362.20 256.53 M360.20 272.17L375.90 272.17 M360.20 279.99L375.90 279.99 M360.20 272.17L360.20 279.99 M358.30 264.35L375.90 264.35 M358.30 276.08L360.20 276.08 M358.30 264.35L358.30 276.08 M355.40 252.62L362.20 252.62 M355.40 270.22L358.30 270.22 M355.40 252.62L355.40 270.22 M346.00 216.94L349.00 216.94 M346.00 261.42L355.40 261.42 M346.00 216.94L346.00 261.42 M366.40 287.81L375.90 287.81 M366.40 295.63L375.90 295.63 M366.40 287.81L366.40 295.63 M370.90 311.27L375.90 311.27 M370.90 319.09L375.90 319.09 M370.90 311.27L370.90 319.09 M371.80 334.73L375.90 334.73 M371.80 342.55L375.90 342.55 M371.80 334.73L371.80 342.55 M367.00 326.91L375.90 326.91 M367.00 338.64L371.80 338.64 M367.00 326.91L367.00 338.64 M365.60 315.18L370.90 315.18 M365.60 332.77L367.00 332.77 M365.60 315.18L365.60 332.77 M361.00 303.45L375.90 303.45 M361.00 323.98L365.60 323.98 M361.00 303.45L361.00 323.98 M360.20 291.72L366.40 291.72 M360.20 313.71L361.00 313.71 M360.20 291.72L360.20 313.71 M369.90 350.37L375.90 350.37 M369.90 358.19L375.90 358.19 M369.90 350.37L369.90 358.19 M368.90 381.65L375.90 381.65 M368.90 389.47L375.90 389.47 M368.90 381.65L368.90 389.47 M366.40 373.83L375.90 373.83 M366.40 385.56L368.90 385.56 M366.40 373.83L366.40 385.56 M363.70 366.01L375.90 366.01 M363.70 379.69L366.40 379.69 M363.70 366.01L363.70 379.69 M355.40 354.28L369.90 354.28 M355.40 372.85L363.70 372.85 M355.40 354.28L355.40 372.85 M356.00 302.72L360.20 302.72 M356.00 363.57L355.40 363.57 M356.00 302.72L356.00 363.57 M363.70 405.11L375.90 405.11 M363.70 412.93L375.90 412.93 M363.70 405.11L363.70 412.93 M357.90 397.29L375.90 397.29 M357.90 409.02L363.70 409.02 M357.90 397.29L357.90 409.02 M356.30 420.75L375.90 420.75 M356.30 428.57L375.90 428.57 M356.30 420.75L356.30 428.57 M353.40 403.15L357.90 403.15 M353.40 424.66L356.30 424.66 M353.40 403.15L353.40 424.66 M350.10 333.14L356.00 333.14 M350.10 413.91L353.40 413.91 M350.10 333.14L350.10 413.91 M345.50 239.18L346.00 239.18 M345.50 373.52L350.10 373.52 M345.50 239.18L345.50 373.52" stroke="#333" stroke-width="0.7" fill="none"/>
<defs><linearGradient id="lg2" x1="0" y1="1" x2="0" y2="0"><stop offset="0" stop-color="#4a7fbf"/><stop offset="0.17" stop-color="#94c2e0"/><stop offset="0.35" stop-color="#e2f0f4"/><stop offset="0.5" stop-color="#fdfcc4"/><stop offset="0.67" stop-color="#fbe194"/><stop offset="0.83" stop-color="#f39258"/><stop offset="1" stop-color="#d44a3c"/></linearGradient></defs>
<rect x="618" y="205.3" width="7.5" height="107.4" fill="url(#lg2)"/>
<line x1="399.5" y1="17.3" x2="399.5" y2="26.2" stroke="#222" stroke-width="1.0"/>
<path d="M399.50 29.00L397.70 25.50L401.30 25.50Z" fill="#222"/>
<line x1="399.5" y1="37.8" x2="399.5" y2="44.3" stroke="#222" stroke-width="1.0"/>
<line x1="405.0" y1="44.3" x2="394.0" y2="44.3" stroke="#222" stroke-width="0.8"/>
<line x1="405.0" y1="47.5" x2="394.0" y2="47.5" stroke="#222" stroke-width="0.8"/>
<line x1="399.5" y1="47.5" x2="399.5" y2="53.400000000000006" stroke="#222" stroke-width="1.0"/>
<path d="M399.50 56.20L397.70 52.70L401.30 52.70Z" fill="#222"/>
<line x1="513" y1="19.5" x2="513.0" y2="29.400000000000002" stroke="#222" stroke-width="1.0"/>
<path d="M513.00 32.20L511.20 28.70L514.80 28.70Z" fill="#222"/>
<line x1="513" y1="39" x2="513" y2="45.5" stroke="#222" stroke-width="1.0"/>
<line x1="518.3" y1="45.5" x2="507.7" y2="45.5" stroke="#222" stroke-width="0.8"/>
<line x1="518.3" y1="48.3" x2="507.7" y2="48.3" stroke="#222" stroke-width="0.8"/>
<line x1="513" y1="48.3" x2="513.0" y2="54.1" stroke="#222" stroke-width="1.0"/>
<path d="M513.00 56.90L511.20 53.40L514.80 53.40Z" fill="#222"/>
<line x1="513.4" y1="71.5" x2="513.4" y2="81.0" stroke="#222" stroke-width="1.0"/>
<path d="M513.40 83.80L511.60 80.30L515.20 80.30Z" fill="#222"/>
<line x1="392.5" y1="64.6" x2="411.3" y2="64.6" stroke="#222" stroke-width="1.0"/>
<line x1="411.3" y1="64.6" x2="411.3" y2="88.2" stroke="#222" stroke-width="1.0"/>
<line x1="411.3" y1="88.2" x2="428.59999999999997" y2="88.2" stroke="#222" stroke-width="1.0"/>
<path d="M431.40 88.20L427.90 90.00L427.90 86.40Z" fill="#222"/>
<line x1="456.3" y1="62.6" x2="487.2" y2="62.6" stroke="#222" stroke-width="1.0"/>
<line x1="456.3" y1="62.6" x2="456.3" y2="75" stroke="#222" stroke-width="1.0"/>
<line x1="456.3" y1="74" x2="456.3" y2="78.7" stroke="#222" stroke-width="1.0"/>
<path d="M456.30 81.50L454.50 78.00L458.10 78.00Z" fill="#222"/>
<line x1="480.2" y1="88.2" x2="489.6" y2="88.2" stroke="#222" stroke-width="1.0"/>
<path d="M478.30 88.20L480.90 86.80L480.90 89.60Z" fill="#222"/>
<path d="M491.60 88.20L489.00 89.60L489.00 86.80Z" fill="#222"/>
<line x1="431.2" y1="92.6" x2="447.5" y2="92.6" stroke="#222" stroke-width="1.0"/>
<line x1="431.2" y1="92.6" x2="431.2" y2="102.6" stroke="#222" stroke-width="1.0"/>
<line x1="431.2" y1="102.6" x2="417.0" y2="102.6" stroke="#222" stroke-width="1.0"/>
<path d="M414.20 102.60L417.70 100.80L417.70 104.40Z" fill="#222"/>
<line x1="397" y1="105.6" x2="397.0" y2="115.0" stroke="#222" stroke-width="1.0"/>
<path d="M397.00 117.80L395.20 114.30L398.80 114.30Z" fill="#222"/>
<line x1="466" y1="92.2" x2="489.9660995429118" y2="114.87561725983197" stroke="#222" stroke-width="1.0"/>
<path d="M492.00 116.80L488.22 115.70L490.69 113.09Z" fill="#222"/>
<line x1="511.5" y1="92.7" x2="499.7029015575168" y2="113.07680640065284" stroke="#222" stroke-width="1.0"/>
<path d="M498.30 115.50L498.50 111.57L501.61 113.37Z" fill="#222"/>
<line x1="477" y1="120.5" x2="458.6" y2="120.5" stroke="#222" stroke-width="1.0"/>
<path d="M455.80 120.50L459.30 118.70L459.30 122.30Z" fill="#222"/>
<line x1="439.5" y1="123.8" x2="439.5" y2="133.7" stroke="#222" stroke-width="1.0"/>
<path d="M439.50 136.50L437.70 133.00L441.30 133.00Z" fill="#222"/>
<line x1="428.8" y1="143.0" x2="428.8" y2="146.4" stroke="#222" stroke-width="1.0"/>
<line x1="433.6" y1="146.35" x2="424.0" y2="146.35" stroke="#222" stroke-width="0.8"/>
<line x1="433.6" y1="148.45" x2="424.0" y2="148.45" stroke="#222" stroke-width="0.8"/>
<line x1="428.8" y1="148.4" x2="428.8" y2="151.32" stroke="#222" stroke-width="1.0"/>
<path d="M428.80 153.40L427.40 150.80L430.20 150.80Z" fill="#222"/>
<line x1="400" y1="155.3" x2="413.8" y2="155.3" stroke="#222" stroke-width="1.0"/>
<line x1="406.3" y1="155.3" x2="406.3" y2="171.0" stroke="#222" stroke-width="1.0"/>
<path d="M406.30 173.80L404.50 170.30L408.10 170.30Z" fill="#222"/>
<line x1="421.3" y1="177.3" x2="441" y2="177.3" stroke="#222" stroke-width="1.0"/>
<path d="M442.80 177.30L440.00 178.80L440.00 175.80Z" fill="#222"/>
<line x1="429.6" y1="173.8" x2="429.6" y2="181.0" stroke="#222" stroke-width="1.0"/>
<line x1="432.8" y1="173.8" x2="432.8" y2="181.0" stroke="#222" stroke-width="1.0"/>
<line x1="511.2" y1="118.4" x2="539.1155253927747" y2="103.89127298665004" stroke="#222" stroke-width="1.0"/>
<path d="M541.60 102.60L539.32 105.81L537.66 102.62Z" fill="#222"/>
<line x1="511.2" y1="119.2" x2="541.6" y2="119.2" stroke="#222" stroke-width="1.0"/>
<path d="M544.40 119.20L540.90 121.00L540.90 117.40Z" fill="#222"/>
<line x1="489.5" y1="123.8" x2="489.5" y2="132.2" stroke="#222" stroke-width="1.0"/>
<path d="M489.50 135.00L487.70 131.50L491.30 131.50Z" fill="#222"/>
<line x1="517.6" y1="139.4" x2="540.4021337888515" y2="138.509291648873" stroke="#222" stroke-width="1.0"/>
<path d="M543.20 138.40L539.77 140.34L539.63 136.74Z" fill="#222"/>
<line x1="524.8" y1="136.0" x2="524.8" y2="142.2" stroke="#222" stroke-width="1.1"/>
<line x1="527.2" y1="136.0" x2="527.2" y2="142.2" stroke="#222" stroke-width="1.1"/>
<line x1="514.8" y1="144" x2="539.0945421691165" y2="150.47854457843107" stroke="#222" stroke-width="1.0"/>
<path d="M541.80 151.20L537.95 152.04L538.88 148.56Z" fill="#222"/>
<line x1="525.14" y1="143.5" x2="523.54" y2="149.49" stroke="#222" stroke-width="1.1"/>
<line x1="527.46" y1="144.11" x2="525.86" y2="150.1" stroke="#222" stroke-width="1.1"/>
<line x1="500.8" y1="147" x2="537.8195151466558" y2="169.9257911060508" stroke="#222" stroke-width="1.0"/>
<path d="M540.20 171.40L536.28 171.09L538.17 168.03Z" fill="#222"/>
<line x1="523.91" y1="158.03" x2="520.65" y2="163.3" stroke="#222" stroke-width="1.1"/>
<line x1="525.95" y1="159.3" x2="522.69" y2="164.57" stroke="#222" stroke-width="1.1"/>
<polygon points="390.50,107.30 391.69,110.16 394.78,110.41 392.43,112.43 393.15,115.44 390.50,113.83 387.85,115.44 388.57,112.43 386.22,110.41 389.31,110.16" fill="#1a1a1a"/>
<polygon points="432.50,125.80 433.69,128.66 436.78,128.91 434.43,130.93 435.15,133.94 432.50,132.33 429.85,133.94 430.57,130.93 428.22,128.91 431.31,128.66" fill="#1a1a1a"/>
<polygon points="399.80,161.30 400.99,164.16 404.08,164.41 401.73,166.43 402.45,169.44 399.80,167.83 397.15,169.44 397.87,166.43 395.52,164.41 398.61,164.16" fill="#1a1a1a"/>
<polygon points="514.40,105.30 515.59,108.16 518.68,108.41 516.33,110.43 517.05,113.44 514.40,111.83 511.75,113.44 512.47,110.43 510.12,108.41 513.21,108.16" fill="#1a1a1a"/>
<polygon points="537.50,119.70 538.69,122.56 541.78,122.81 539.43,124.83 540.15,127.84 537.50,126.23 534.85,127.84 535.57,124.83 533.22,122.81 536.31,122.56" fill="#1a1a1a"/></svg>
<div class="t" style="left:5.2px;top:4.8px;font-size:6.2px;color:#333;">a</div>
<div class="t" style="left:101.6px;width:20px;text-align:center;top:147px;font-size:5.5px;color:#8a8a8a">0</div>
<div class="t" style="left:136.8px;width:20px;text-align:center;top:147px;font-size:5.5px;color:#8a8a8a">10</div>
<div class="t" style="left:172.0px;width:20px;text-align:center;top:147px;font-size:5.5px;color:#8a8a8a">20</div>
<div class="t" style="left:207.2px;width:20px;text-align:center;top:147px;font-size:5.5px;color:#8a8a8a">30</div>
<div class="t" style="left:242.4px;width:20px;text-align:center;top:147px;font-size:5.5px;color:#8a8a8a">40</div>
<div class="t" style="left:277.6px;width:20px;text-align:center;top:147px;font-size:5.5px;color:#8a8a8a">50</div>
<div class="t" style="left:312.8px;width:20px;text-align:center;top:147px;font-size:5.5px;color:#8a8a8a">60</div>
<div class="t" style="left:81.5px;top:52.2px;font-size:5.7px;color:#666;">Black tea</div>
<div class="t" style="left:73px;top:86.6px;font-size:6.2px;color:#666;">Oolong tea</div>
<div class="t" style="left:79.3px;top:122.4px;font-size:5.7px;color:#666;">Green tea</div>
<div class="t" style="left:190.6px;top:161.8px;font-size:5.7px;color:#777;">CSS</div>
<div class="t" style="left:209.4px;top:161.8px;font-size:5.7px;color:#777;">CSA</div>
<div class="t" style="left:327.6px;top:4.8px;font-size:6.2px;color:#333;">b</div>
<div class="t" style="left:388.2px;top:9.6px;font-size:6.3px;color:#2a2a2a;">Acetyl-CoA</div>
<div class="t" style="left:365.2px;top:31.9px;font-size:6.3px;color:#2a2a2a;">3-Hydroxy-3-methylglutary-CoA</div>
<div class="t" style="left:375.5px;top:56.0px;font-size:6.3px;color:#2a2a2a;">Mevalonate-5PP</div>
<div class="t" style="left:462px;top:10.8px;font-size:6.3px;color:#2a2a2a;">pyruvate + D-Glyceraldehyde 3-phosphate</div>
<div class="t" style="left:474.3px;top:32.1px;font-size:6.3px;color:#2a2a2a;">1-Deoxy-D-xylulose 5-phosphate</div>
<div class="t" style="left:489.5px;top:56.4px;font-size:6.3px;color:#2a2a2a;">1-Hydroxy-2-methyl-2-</div>
<div class="t" style="left:489.5px;top:63.4px;font-size:6.3px;color:#2a2a2a;">butenyl 4-diohosphate</div>
<div class="t" style="left:433.0px;top:85.0px;font-size:6.3px;color:#2a2a2a;">Isopentenyl-PP</div>
<div class="t" style="left:494.6px;top:85.2px;font-size:6.3px;color:#2a2a2a;">Dimethylallyl-PP</div>
<div class="t" style="left:378.7px;top:100.0px;font-size:6.3px;color:#2a2a2a;">Farnesyl-PP</div>
<div class="t" style="left:373.7px;top:119.0px;font-size:6.3px;color:#2a2a2a;">Germacrene D</div>
<div class="t" style="left:431.7px;top:117.0px;font-size:6.3px;color:#2a2a2a;">Geraniol</div>
<div class="t" style="left:479px;top:117.7px;font-size:6.3px;color:#2a2a2a;">Geranyl-PP</div>
<div class="t" style="left:392.5px;top:137.0px;font-size:6.3px;color:#2a2a2a;">(6E)-8-hydroxygeraniol</div>
<div class="t" style="left:367px;top:153.1px;font-size:6.3px;color:#2a2a2a;">Tryptamine</div>
<div class="t" style="left:415px;top:153.1px;font-size:6.3px;color:#2a2a2a;">Fissure brucine</div>
<div class="t" style="left:390px;top:174.0px;font-size:6.3px;color:#2a2a2a;">strictosidine</div>
<div class="t" style="left:443px;top:173.9px;font-size:6.3px;color:#2a2a2a;">Terpene indole alkaloid</div>
<div class="t" style="left:465px;top:136.6px;font-size:6.3px;color:#2a2a2a;">Geranylgeranyl-PP</div>
<div class="t" style="left:545.8px;top:99.6px;font-size:6.3px;color:#2a2a2a;">Alpa-terpineol, monoterpenol</div>
<div class="t" style="left:547px;top:116.4px;font-size:6.3px;color:#2a2a2a;">Tricyclene</div>
<div class="t" style="left:545.8px;top:133.9px;font-size:6.3px;color:#2a2a2a;">Diterpenoid biosynthesis</div>
<div class="t" style="left:545px;top:145.3px;font-size:6.3px;color:#2a2a2a;">Indol diterpene alkaloid</div>
<div class="t" style="left:545px;top:153.4px;font-size:6.3px;color:#2a2a2a;">biosynthesis</div>
<div class="t" style="left:543px;top:166.4px;font-size:6.3px;color:#2a2a2a;">Ubiquinone and other terpenoid-</div>
<div class="t" style="left:543px;top:172.9px;font-size:6.3px;color:#2a2a2a;">quinone biosynthesis</div>
<div class="t" style="left:334.8px;top:63.2px;font-size:6.15px;color:#222;font-weight:bold;">Mevalonate</div>
<div class="t" style="left:334.8px;top:70.8px;font-size:6.15px;color:#222;font-weight:bold;">pathway</div>
<div class="t" style="left:569.7px;top:62.6px;font-size:6.15px;color:#222;font-weight:bold;">MEP/DOXP</div>
<div class="t" style="left:569.7px;top:70.3px;font-size:6.15px;color:#222;font-weight:bold;">pathway</div>
<div class="t" style="left:401.2px;top:110.2px;font-size:4.9px;color:#222;">(TPSGD)</div>
<div class="t" style="left:442.5px;top:127.3px;font-size:4.9px;color:#222;">(C76B6)</div>
<div class="t" style="left:410.5px;top:163.0px;font-size:5.0px;color:#222;">(STSY)</div>
<div class="t" style="left:517.6px;top:121.4px;font-size:4.8px;color:#222;">(EBOS)</div>
<div class="t" style="left:517.6px;top:108.6px;font-size:4.9px;color:#111;font-weight:bold;transform:rotate(-30deg);transform-origin:0 50%">(ATESY)</div>
<div class="t" style="left:5px;top:191.1px;font-size:6.2px;color:#333;">c</div>
<div class="t" style="left:263.0px;top:232.52px;font-size:6.95px;color:#222;">TPSGD</div>
<div class="t" style="left:263.0px;top:246.17px;font-size:6.95px;color:#222;">TPS</div>
<div class="t" style="left:263.0px;top:259.82px;font-size:6.95px;color:#222;">TPS2</div>
<div class="t" style="left:263.0px;top:273.47px;font-size:6.95px;color:#222;">C76B6</div>
<div class="t" style="left:263.0px;top:287.12px;font-size:6.95px;color:#222;">TPSGD</div>
<div class="t" style="left:263.0px;top:300.77px;font-size:6.95px;color:#222;">TPSGD</div>
<div class="t" style="left:263.0px;top:314.43px;font-size:6.95px;color:#222;">SSL10</div>
<div class="t" style="left:263.0px;top:328.07px;font-size:6.95px;color:#222;">ATESY</div>
<div class="t" style="left:263.0px;top:341.73px;font-size:6.95px;color:#222;">SSL5</div>
<div class="t" style="left:263.0px;top:355.38px;font-size:6.95px;color:#222;">TPS9</div>
<div class="t" style="left:263.0px;top:369.02px;font-size:6.95px;color:#222;">ATESY</div>
<div class="t" style="left:263.0px;top:382.67px;font-size:6.95px;color:#222;">TPSVS</div>
<div class="t" style="left:263.0px;top:396.32px;font-size:6.95px;color:#222;">TPSGD</div>
<div class="t" style="left:263.0px;top:409.98px;font-size:6.95px;color:#222;">STSY</div>
<div class="t" style="left:263.0px;top:423.62px;font-size:6.95px;color:#222;">STSY</div>
<div class="t" style="left:59.32px;top:435.2px;font-size:4.6px;color:#111;transform:rotate(90deg);transform-origin:0 0">bud.spr</div>
<div class="t" style="left:70.38px;top:435.2px;font-size:4.6px;color:#111;transform:rotate(90deg);transform-origin:0 0">bud.sum</div>
<div class="t" style="left:81.42px;top:435.2px;font-size:4.6px;color:#111;transform:rotate(90deg);transform-origin:0 0">bud.aut</div>
<div class="t" style="left:92.47px;top:435.2px;font-size:4.6px;color:#111;transform:rotate(90deg);transform-origin:0 0">bud.win</div>
<div class="t" style="left:103.53px;top:435.2px;font-size:4.6px;color:#111;transform:rotate(90deg);transform-origin:0 0">flower.spr</div>
<div class="t" style="left:114.58px;top:435.2px;font-size:4.6px;color:#111;transform:rotate(90deg);transform-origin:0 0">flower.aut</div>
<div class="t" style="left:125.62px;top:435.2px;font-size:4.6px;color:#111;transform:rotate(90deg);transform-origin:0 0">flower.win</div>
<div class="t" style="left:136.68px;top:435.2px;font-size:4.6px;color:#111;transform:rotate(90deg);transform-origin:0 0">leaf.spr</div>
<div class="t" style="left:147.73px;top:435.2px;font-size:4.6px;color:#111;transform:rotate(90deg);transform-origin:0 0">leaf.sum</div>
<div class="t" style="left:158.78px;top:435.2px;font-size:4.6px;color:#111;transform:rotate(90deg);transform-origin:0 0">leaf.aut</div>
<div class="t" style="left:169.82px;top:435.2px;font-size:4.6px;color:#111;transform:rotate(90deg);transform-origin:0 0">leaf.win</div>
<div class="t" style="left:180.88px;top:435.2px;font-size:4.6px;color:#111;transform:rotate(90deg);transform-origin:0 0">stem.spr</div>
<div class="t" style="left:191.93px;top:435.2px;font-size:4.6px;color:#111;transform:rotate(90deg);transform-origin:0 0">stem.sum</div>
<div class="t" style="left:202.98px;top:435.2px;font-size:4.6px;color:#111;transform:rotate(90deg);transform-origin:0 0">stem.aut</div>
<div class="t" style="left:214.03px;top:435.2px;font-size:4.6px;color:#111;transform:rotate(90deg);transform-origin:0 0">stem.win</div>
<div class="t" style="left:225.07px;top:435.2px;font-size:4.6px;color:#111;transform:rotate(90deg);transform-origin:0 0">root.spr</div>
<div class="t" style="left:236.12px;top:435.2px;font-size:4.6px;color:#111;transform:rotate(90deg);transform-origin:0 0">root.sum</div>
<div class="t" style="left:247.18px;top:435.2px;font-size:4.6px;color:#111;transform:rotate(90deg);transform-origin:0 0">root.aut</div>
<div class="t" style="left:258.23px;top:435.2px;font-size:4.6px;color:#111;transform:rotate(90deg);transform-origin:0 0">root.win</div>
<div class="t" style="left:309.5px;top:244.8px;font-size:5.5px;color:#333;">2</div>
<div class="t" style="left:309.5px;top:263.4px;font-size:5.5px;color:#333;">0</div>
<div class="t" style="left:309.6px;top:281.8px;font-size:5.5px;color:#333;">−2</div>
<div class="t" style="left:327.7px;top:193.8px;font-size:6.2px;color:#333;">d</div>
<div class="t" style="left:582.6px;top:207.61px;font-size:5.1px;color:#222;">DRL27</div>
<div class="t" style="left:582.6px;top:215.43px;font-size:5.1px;color:#222;">DRL27</div>
<div class="t" style="left:582.6px;top:223.25px;font-size:5.1px;color:#222;">R13L1</div>
<div class="t" style="left:582.6px;top:231.07px;font-size:5.1px;color:#222;">R13L2</div>
<div class="t" style="left:582.6px;top:238.89px;font-size:5.1px;color:#222;">Y5843</div>
<div class="t" style="left:582.6px;top:246.71px;font-size:5.1px;color:#222;">RGA4</div>
<div class="t" style="left:582.6px;top:254.53px;font-size:5.1px;color:#222;">RPI8L3</div>
<div class="t" style="left:582.6px;top:262.35px;font-size:5.1px;color:#222;">DRL4</div>
<div class="t" style="left:582.6px;top:270.17px;font-size:5.1px;color:#222;">DRL25</div>
<div class="t" style="left:582.6px;top:277.99px;font-size:5.1px;color:#222;">SUMM2</div>
<div class="t" style="left:582.6px;top:285.81px;font-size:5.1px;color:#222;">DRL27</div>
<div class="t" style="left:582.6px;top:293.63px;font-size:5.1px;color:#222;">RPM1</div>
<div class="t" style="left:582.6px;top:301.45px;font-size:5.1px;color:#222;">RPS5</div>
<div class="t" style="left:582.6px;top:309.27px;font-size:5.1px;color:#222;">DRL27</div>
<div class="t" style="left:582.6px;top:317.09px;font-size:5.1px;color:#222;">RGA2</div>
<div class="t" style="left:582.6px;top:324.91px;font-size:5.1px;color:#222;">DRL27</div>
<div class="t" style="left:582.6px;top:332.73px;font-size:5.1px;color:#222;">DRL28</div>
<div class="t" style="left:582.6px;top:340.55px;font-size:5.1px;color:#222;">RPM1</div>
<div class="t" style="left:582.6px;top:348.37px;font-size:5.1px;color:#222;">R13L1</div>
<div class="t" style="left:582.6px;top:356.19px;font-size:5.1px;color:#222;">RPP13</div>
<div class="t" style="left:582.6px;top:364.01px;font-size:5.1px;color:#222;">RH5</div>
<div class="t" style="left:582.6px;top:371.83px;font-size:5.1px;color:#222;">TMVRN</div>
<div class="t" style="left:582.6px;top:379.65px;font-size:5.1px;color:#222;">R1A6</div>
<div class="t" style="left:582.6px;top:387.47px;font-size:5.1px;color:#222;">RPM1</div>
<div class="t" style="left:582.6px;top:395.29px;font-size:5.1px;color:#222;">DRL4</div>
<div class="t" style="left:582.6px;top:403.11px;font-size:5.1px;color:#222;">RPI8L2</div>
<div class="t" style="left:582.6px;top:410.93px;font-size:5.1px;color:#222;">DRL27</div>
<div class="t" style="left:582.6px;top:418.75px;font-size:5.1px;color:#222;">RGA3</div>
<div class="t" style="left:582.6px;top:426.57px;font-size:5.1px;color:#222;">RPM1</div>
<div class="t" style="left:384.41px;top:433.8px;font-size:5.8px;color:#222;transform:rotate(90deg);transform-origin:0 0">bud.spr</div>
<div class="t" style="left:395.23px;top:433.8px;font-size:5.8px;color:#222;transform:rotate(90deg);transform-origin:0 0">flower.spr</div>
<div class="t" style="left:406.05px;top:433.8px;font-size:5.8px;color:#222;transform:rotate(90deg);transform-origin:0 0">leaf.spr</div>
<div class="t" style="left:416.87px;top:433.8px;font-size:5.8px;color:#222;transform:rotate(90deg);transform-origin:0 0">stem.spr</div>
<div class="t" style="left:427.69px;top:433.8px;font-size:5.8px;color:#222;transform:rotate(90deg);transform-origin:0 0">root.spr</div>
<div class="t" style="left:438.51px;top:433.8px;font-size:5.8px;color:#222;transform:rotate(90deg);transform-origin:0 0">bud.sum</div>
<div class="t" style="left:449.33px;top:433.8px;font-size:5.8px;color:#222;transform:rotate(90deg);transform-origin:0 0">leaf.sum</div>
<div class="t" style="left:460.15px;top:433.8px;font-size:5.8px;color:#222;transform:rotate(90deg);transform-origin:0 0">stem.sum</div>
<div class="t" style="left:470.97px;top:433.8px;font-size:5.8px;color:#222;transform:rotate(90deg);transform-origin:0 0">root.sum</div>
<div class="t" style="left:481.79px;top:433.8px;font-size:5.8px;color:#222;transform:rotate(90deg);transform-origin:0 0">bud.aut</div>
<div class="t" style="left:492.61px;top:433.8px;font-size:5.8px;color:#222;transform:rotate(90deg);transform-origin:0 0">flower.aut</div>
<div class="t" style="left:503.43px;top:433.8px;font-size:5.8px;color:#222;transform:rotate(90deg);transform-origin:0 0">leaf.aut</div>
<div class="t" style="left:514.25px;top:433.8px;font-size:5.8px;color:#222;transform:rotate(90deg);transform-origin:0 0">stem.aut</div>
<div class="t" style="left:525.07px;top:433.8px;font-size:5.8px;color:#222;transform:rotate(90deg);transform-origin:0 0">root.aut</div>
<div class="t" style="left:535.89px;top:433.8px;font-size:5.8px;color:#222;transform:rotate(90deg);transform-origin:0 0">bud.win</div>
<div class="t" style="left:546.71px;top:433.8px;font-size:5.8px;color:#222;transform:rotate(90deg);transform-origin:0 0">flower.win</div>
<div class="t" style="left:557.53px;top:433.8px;font-size:5.8px;color:#222;transform:rotate(90deg);transform-origin:0 0">leaf.win</div>
<div class="t" style="left:568.35px;top:433.8px;font-size:5.8px;color:#222;transform:rotate(90deg);transform-origin:0 0">stem.win</div>
<div class="t" style="left:579.17px;top:433.8px;font-size:5.8px;color:#222;transform:rotate(90deg);transform-origin:0 0">root.win</div>
<div class="t" style="left:628.8px;top:211.6px;font-size:5.2px;color:#555;">3</div>
<div class="t" style="left:628.8px;top:227.12px;font-size:5.2px;color:#555;">2</div>
<div class="t" style="left:628.8px;top:242.64px;font-size:5.2px;color:#555;">1</div>
<div class="t" style="left:628.8px;top:258.16px;font-size:5.2px;color:#555;">0</div>
<div class="t" style="left:626.2px;top:273.68px;font-size:5.2px;color:#555;">−1</div>
<div class="t" style="left:626.2px;top:289.2px;font-size:5.2px;color:#555;">−2</div>
<div class="t" style="left:626.2px;top:304.72px;font-size:5.2px;color:#555;">−3</div>
</div></body></html>
